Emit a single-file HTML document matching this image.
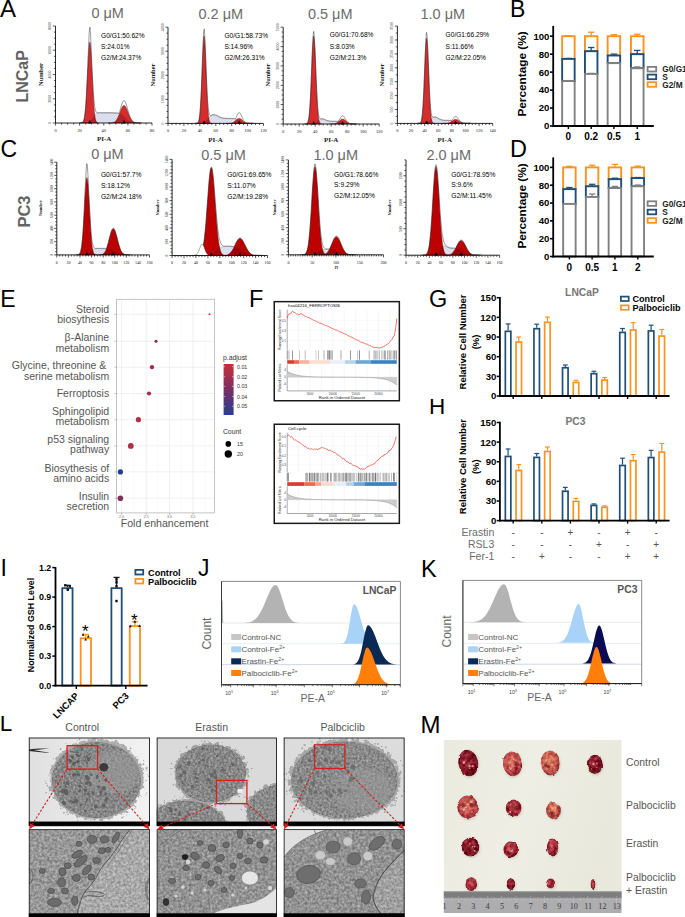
<!DOCTYPE html>
<html><head><meta charset="utf-8"><title>Figure</title>
<style>
html,body{margin:0;padding:0;background:#fff;width:685px;height:917px;overflow:hidden}
svg{display:block}
.ss{font-family:"Liberation Sans", sans-serif}
.sf{font-family:"Liberation Serif", serif}
</style></head><body>
<svg width="685" height="917" viewBox="0 0 685 917">
<defs>
<pattern id="hatch" width="2.2" height="2.2" patternUnits="userSpaceOnUse" patternTransform="rotate(45)"><line x1="0" y1="0" x2="0" y2="2.2" stroke="#8f95b5" stroke-width="0.4"/></pattern>
<filter id="nz1" x="0" y="0" width="100%" height="100%" color-interpolation-filters="sRGB">
<feTurbulence type="fractalNoise" baseFrequency="0.45" numOctaves="3" seed="3" result="t"/>
<feColorMatrix in="t" type="matrix" values="1 0 0 0 0  1 0 0 0 0  1 0 0 0 0  0 0 0 0 1" result="g"/>
<feComposite in="SourceGraphic" in2="g" operator="arithmetic" k1="0" k2="1" k3="0.42" k4="-0.21" result="c"/>
<feComposite in="c" in2="SourceGraphic" operator="in"/>
</filter>
<filter id="nz3" x="0" y="0" width="100%" height="100%" color-interpolation-filters="sRGB">
<feTurbulence type="fractalNoise" baseFrequency="0.38" numOctaves="3" seed="8" result="t"/>
<feColorMatrix in="t" type="matrix" values="1 0 0 0 0  1 0 0 0 0  1 0 0 0 0  0 0 0 0 1" result="g"/>
<feComposite in="SourceGraphic" in2="g" operator="arithmetic" k1="0" k2="1" k3="0.42" k4="-0.21" result="c"/>
<feComposite in="c" in2="SourceGraphic" operator="in"/>
</filter>
<filter id="fuzz" x="-10%" y="-10%" width="120%" height="120%" color-interpolation-filters="sRGB">
<feTurbulence type="fractalNoise" baseFrequency="0.25" numOctaves="3" seed="4" result="t"/>
<feDisplacementMap in="SourceGraphic" in2="t" scale="8" xChannelSelector="R" yChannelSelector="G"/>
</filter>
<filter id="bl1" x="-20%" y="-20%" width="140%" height="140%"><feGaussianBlur stdDeviation="0.6"/></filter>
<filter id="bl2" x="-20%" y="-20%" width="140%" height="140%"><feGaussianBlur stdDeviation="1.5"/></filter>
<linearGradient id="bgc" x1="0" y1="0" x2="1" y2="0"><stop offset="0" stop-color="#e0e0e0"/><stop offset="0.5" stop-color="#eaeaea"/><stop offset="1" stop-color="#f2f2f2"/></linearGradient>
<clipPath id="ct0"><rect x="28.8" y="737.9" width="121.10000000000001" height="83.6"/></clipPath>
<clipPath id="cb0"><rect x="28.8" y="829.5" width="121.10000000000001" height="84"/></clipPath>
<clipPath id="ct1"><rect x="156.7" y="737.9" width="120.19999999999999" height="83.6"/></clipPath>
<clipPath id="cb1"><rect x="156.7" y="829.5" width="120.19999999999999" height="84"/></clipPath>
<clipPath id="ct2"><rect x="283.7" y="737.9" width="120.90000000000003" height="83.6"/></clipPath>
<clipPath id="cb2"><rect x="283.7" y="829.5" width="120.90000000000003" height="84"/></clipPath>
<clipPath id="cm"><rect x="443.6" y="740.0" width="178.10000000000002" height="173.0"/></clipPath>
<linearGradient id="bgm" x1="0" y1="0" x2="1" y2="0.3"><stop offset="0" stop-color="#ebeadf"/><stop offset="0.5" stop-color="#efeee4"/><stop offset="1" stop-color="#e9e8dd"/></linearGradient>
<radialGradient id="tdark" cx="0.45" cy="0.4" r="0.6"><stop offset="0" stop-color="#a8303c"/><stop offset="0.6" stop-color="#801424"/><stop offset="1" stop-color="#6a0f1c"/></radialGradient>
<radialGradient id="tlight" cx="0.45" cy="0.4" r="0.6"><stop offset="0" stop-color="#d87868"/><stop offset="0.6" stop-color="#c04a48"/><stop offset="1" stop-color="#9a2a34"/></radialGradient>
<radialGradient id="tmid" cx="0.45" cy="0.4" r="0.6"><stop offset="0" stop-color="#c65058"/><stop offset="0.6" stop-color="#a02834"/><stop offset="1" stop-color="#7e1424"/></radialGradient>
<radialGradient id="torange" cx="0.45" cy="0.4" r="0.6"><stop offset="0" stop-color="#e08a6a"/><stop offset="0.6" stop-color="#c85a4c"/><stop offset="1" stop-color="#a43a3a"/></radialGradient>
<filter id="tb" x="-30%" y="-30%" width="160%" height="160%"><feGaussianBlur stdDeviation="0.5"/></filter>
<filter id="tfx" x="-30%" y="-30%" width="160%" height="160%" color-interpolation-filters="sRGB">
<feTurbulence type="fractalNoise" baseFrequency="0.15" numOctaves="2" seed="12" result="t"/>
<feDisplacementMap in="SourceGraphic" in2="t" scale="2.8" xChannelSelector="R" yChannelSelector="G" result="d"/>
<feTurbulence type="fractalNoise" baseFrequency="0.28" numOctaves="2" seed="3" result="t2"/>
<feColorMatrix in="t2" type="matrix" values="1 0 0 0 0  1 0 0 0 0  1 0 0 0 0  0 0 0 0 1" result="g"/>
<feComposite in="d" in2="g" operator="arithmetic" k1="0" k2="1" k3="0.5" k4="-0.25" result="c"/>
<feComposite in="c" in2="d" operator="in" result="e"/>
<feGaussianBlur in="e" stdDeviation="0.55"/>
</filter>
<filter id="tsh" x="-50%" y="-50%" width="200%" height="200%"><feGaussianBlur stdDeviation="1.2"/></filter>

</defs>
<rect width="685" height="917" fill="#fff"/>
<!-- ac -->
<path d="M79.5,123.0L79.5,123.0L80.1,123.0L80.8,123.0L81.5,123.0L82.2,123.0L82.9,123.0L83.6,123.0L84.3,123.0L85.0,123.0L85.7,123.0L86.4,122.9L87.1,122.9L87.8,122.8L88.5,122.7L89.2,122.5L89.9,122.1L90.6,121.5L91.3,120.7L92.0,119.6L92.7,118.3L93.4,116.9L94.0,115.7L94.7,114.8L95.4,114.1L96.1,113.7L96.8,113.4L97.5,113.2L98.2,113.1L98.9,113.1L99.6,113.0L100.3,113.0L101.0,113.0L101.7,113.0L102.4,113.0L103.1,113.0L103.8,113.0L104.5,113.0L105.2,113.0L105.9,113.0L106.6,113.0L107.2,113.0L107.9,113.0L108.6,113.0L109.3,113.0L110.0,113.0L110.7,113.0L111.4,113.0L112.1,113.0L112.8,113.1L113.5,113.1L114.2,113.1L114.9,113.1L115.6,113.2L116.3,113.2L117.0,113.3L117.7,113.4L118.4,113.5L119.1,113.7L119.8,113.9L120.5,114.2L121.2,114.6L121.8,115.0L122.5,115.5L123.2,116.1L123.9,116.7L124.6,117.4L125.3,118.1L126.0,118.8L126.7,119.5L127.4,120.1L128.1,120.7L128.8,121.2L129.5,121.6L130.2,121.9L130.9,122.1L131.6,122.3L132.3,122.5L133.0,122.6L133.7,122.7L134.4,122.8L135.1,122.8L135.7,122.9L136.4,122.9L137.1,122.9L137.8,122.9L138.5,123.0L139.2,123.0L139.9,123.0L140.6,123.0L141.3,123.0L142.0,123.0L142.0,123.0Z" fill="#e3e5f3" stroke="none" stroke-width="1"/>
<path d="M79.5,123.0L79.5,123.0L80.1,123.0L80.8,123.0L81.5,123.0L82.2,123.0L82.9,123.0L83.6,123.0L84.3,123.0L85.0,123.0L85.7,123.0L86.4,122.9L87.1,122.9L87.8,122.8L88.5,122.7L89.2,122.5L89.9,122.1L90.6,121.5L91.3,120.7L92.0,119.6L92.7,118.3L93.4,116.9L94.0,115.7L94.7,114.8L95.4,114.1L96.1,113.7L96.8,113.4L97.5,113.2L98.2,113.1L98.9,113.1L99.6,113.0L100.3,113.0L101.0,113.0L101.7,113.0L102.4,113.0L103.1,113.0L103.8,113.0L104.5,113.0L105.2,113.0L105.9,113.0L106.6,113.0L107.2,113.0L107.9,113.0L108.6,113.0L109.3,113.0L110.0,113.0L110.7,113.0L111.4,113.0L112.1,113.0L112.8,113.1L113.5,113.1L114.2,113.1L114.9,113.1L115.6,113.2L116.3,113.2L117.0,113.3L117.7,113.4L118.4,113.5L119.1,113.7L119.8,113.9L120.5,114.2L121.2,114.6L121.8,115.0L122.5,115.5L123.2,116.1L123.9,116.7L124.6,117.4L125.3,118.1L126.0,118.8L126.7,119.5L127.4,120.1L128.1,120.7L128.8,121.2L129.5,121.6L130.2,121.9L130.9,122.1L131.6,122.3L132.3,122.5L133.0,122.6L133.7,122.7L134.4,122.8L135.1,122.8L135.7,122.9L136.4,122.9L137.1,122.9L137.8,122.9L138.5,123.0L139.2,123.0L139.9,123.0L140.6,123.0L141.3,123.0L142.0,123.0L142.0,123.0Z" fill="url(#hatch)" stroke="none" stroke-width="1"/>
<path d="M80.6,123.0L80.6,123.0L81.1,122.9L81.5,122.9L82.0,122.7L82.4,122.5L82.9,122.1L83.4,121.4L83.8,120.2L84.3,118.5L84.7,115.8L85.2,112.0L85.7,107.0L86.1,100.5L86.6,92.6L87.0,83.6L87.5,73.9L88.0,64.2L88.4,55.3L88.9,48.2L89.3,43.6L89.8,42.0L90.3,43.6L90.7,48.2L91.2,55.3L91.6,64.2L92.1,73.9L92.6,83.6L93.0,92.6L93.5,100.5L93.9,107.0L94.4,112.0L94.9,115.8L95.3,118.5L95.8,120.2L96.2,121.4L96.7,122.1L97.2,122.5L97.6,122.7L98.1,122.9L98.5,122.9L99.0,123.0L99.0,123.0Z" fill="#d62c2e" stroke="none" stroke-width="1"/>
<path d="M108.0,123.0L108.0,123.0L108.8,123.0L109.6,123.0L110.4,122.9L111.2,122.9L112.0,122.8L112.8,122.7L113.6,122.4L114.4,122.0L115.2,121.4L116.0,120.6L116.8,119.5L117.6,118.1L118.4,116.4L119.2,114.5L120.0,112.4L120.8,110.3L121.6,108.4L122.4,106.8L123.2,105.8L124.0,105.5L124.8,105.8L125.6,106.8L126.4,108.4L127.2,110.3L128.0,112.4L128.8,114.5L129.6,116.4L130.4,118.1L131.2,119.5L132.0,120.6L132.8,121.4L133.6,122.0L134.4,122.4L135.2,122.7L136.0,122.8L136.8,122.9L137.6,122.9L138.4,123.0L139.2,123.0L140.0,123.0L140.0,123.0Z" fill="#d62c2e" stroke="none" stroke-width="1"/>
<clipPath id="h1"><path d="M80.6,123.0L80.6,123.0L81.1,122.9L81.5,122.9L82.0,122.7L82.4,122.5L82.9,122.1L83.4,121.4L83.8,120.2L84.3,118.5L84.7,115.8L85.2,112.0L85.7,107.0L86.1,100.5L86.6,92.6L87.0,83.6L87.5,73.9L88.0,64.2L88.4,55.3L88.9,48.2L89.3,43.6L89.8,42.0L90.3,43.6L90.7,48.2L91.2,55.3L91.6,64.2L92.1,73.9L92.6,83.6L93.0,92.6L93.5,100.5L93.9,107.0L94.4,112.0L94.9,115.8L95.3,118.5L95.8,120.2L96.2,121.4L96.7,122.1L97.2,122.5L97.6,122.7L98.1,122.9L98.5,122.9L99.0,123.0L99.0,123.0Z M108.0,123.0L108.0,123.0L108.8,123.0L109.6,123.0L110.4,122.9L111.2,122.9L112.0,122.8L112.8,122.7L113.6,122.4L114.4,122.0L115.2,121.4L116.0,120.6L116.8,119.5L117.6,118.1L118.4,116.4L119.2,114.5L120.0,112.4L120.8,110.3L121.6,108.4L122.4,106.8L123.2,105.8L124.0,105.5L124.8,105.8L125.6,106.8L126.4,108.4L127.2,110.3L128.0,112.4L128.8,114.5L129.6,116.4L130.4,118.1L131.2,119.5L132.0,120.6L132.8,121.4L133.6,122.0L134.4,122.4L135.2,122.7L136.0,122.8L136.8,122.9L137.6,122.9L138.4,123.0L139.2,123.0L140.0,123.0L140.0,123.0Z"/></clipPath>
<path d="M79.5,123.0L79.5,123.0L80.1,123.0L80.8,123.0L81.5,123.0L82.2,123.0L82.9,123.0L83.6,123.0L84.3,123.0L85.0,123.0L85.7,123.0L86.4,122.9L87.1,122.9L87.8,122.8L88.5,122.7L89.2,122.5L89.9,122.1L90.6,121.5L91.3,120.7L92.0,119.6L92.7,118.3L93.4,116.9L94.0,115.7L94.7,114.8L95.4,114.1L96.1,113.7L96.8,113.4L97.5,113.2L98.2,113.1L98.9,113.1L99.6,113.0L100.3,113.0L101.0,113.0L101.7,113.0L102.4,113.0L103.1,113.0L103.8,113.0L104.5,113.0L105.2,113.0L105.9,113.0L106.6,113.0L107.2,113.0L107.9,113.0L108.6,113.0L109.3,113.0L110.0,113.0L110.7,113.0L111.4,113.0L112.1,113.0L112.8,113.1L113.5,113.1L114.2,113.1L114.9,113.1L115.6,113.2L116.3,113.2L117.0,113.3L117.7,113.4L118.4,113.5L119.1,113.7L119.8,113.9L120.5,114.2L121.2,114.6L121.8,115.0L122.5,115.5L123.2,116.1L123.9,116.7L124.6,117.4L125.3,118.1L126.0,118.8L126.7,119.5L127.4,120.1L128.1,120.7L128.8,121.2L129.5,121.6L130.2,121.9L130.9,122.1L131.6,122.3L132.3,122.5L133.0,122.6L133.7,122.7L134.4,122.8L135.1,122.8L135.7,122.9L136.4,122.9L137.1,122.9L137.8,122.9L138.5,123.0L139.2,123.0L139.9,123.0L140.6,123.0L141.3,123.0L142.0,123.0L142.0,123.0Z" fill="#3a0010" fill-opacity="0.22" clip-path="url(#h1)"/>
<path d="M80.6,123.0L80.6,123.0L81.1,122.9L81.5,122.9L82.0,122.7L82.4,122.5L82.9,122.1L83.4,121.4L83.8,120.2L84.3,118.5L84.7,115.8L85.2,112.0L85.7,107.0L86.1,100.5L86.6,92.6L87.0,83.6L87.5,73.9L88.0,64.2L88.4,55.3L88.9,48.2L89.3,43.6L89.8,42.0L90.3,43.6L90.7,48.2L91.2,55.3L91.6,64.2L92.1,73.9L92.6,83.6L93.0,92.6L93.5,100.5L93.9,107.0L94.4,112.0L94.9,115.8L95.3,118.5L95.8,120.2L96.2,121.4L96.7,122.1L97.2,122.5L97.6,122.7L98.1,122.9L98.5,122.9L99.0,123.0L99.0,123.0Z" fill="none" stroke="#4a0008" stroke-width="0.35"/>
<path d="M108.0,123.0L108.0,123.0L108.8,123.0L109.6,123.0L110.4,122.9L111.2,122.9L112.0,122.8L112.8,122.7L113.6,122.4L114.4,122.0L115.2,121.4L116.0,120.6L116.8,119.5L117.6,118.1L118.4,116.4L119.2,114.5L120.0,112.4L120.8,110.3L121.6,108.4L122.4,106.8L123.2,105.8L124.0,105.5L124.8,105.8L125.6,106.8L126.4,108.4L127.2,110.3L128.0,112.4L128.8,114.5L129.6,116.4L130.4,118.1L131.2,119.5L132.0,120.6L132.8,121.4L133.6,122.0L134.4,122.4L135.2,122.7L136.0,122.8L136.8,122.9L137.6,122.9L138.4,123.0L139.2,123.0L140.0,123.0L140.0,123.0Z" fill="none" stroke="#4a0008" stroke-width="0.35"/>
<path d="M79.5,123.0L80.1,123.0L80.8,123.0L81.5,123.0L82.2,123.0L82.9,123.0L83.6,123.0L84.3,123.0L85.0,123.0L85.7,123.0L86.4,122.9L87.1,122.9L87.8,122.8L88.5,122.7L89.2,122.5L89.9,122.1L90.6,121.5L91.3,120.7L92.0,119.6L92.7,118.3L93.4,116.9L94.0,115.7L94.7,114.8L95.4,114.1L96.1,113.7L96.8,113.4L97.5,113.2L98.2,113.1L98.9,113.1L99.6,113.0L100.3,113.0L101.0,113.0L101.7,113.0L102.4,113.0L103.1,113.0L103.8,113.0L104.5,113.0L105.2,113.0L105.9,113.0L106.6,113.0L107.2,113.0L107.9,113.0L108.6,113.0L109.3,113.0L110.0,113.0L110.7,113.0L111.4,113.0L112.1,113.0L112.8,113.1L113.5,113.1L114.2,113.1L114.9,113.1L115.6,113.2L116.3,113.2L117.0,113.3L117.7,113.4L118.4,113.5L119.1,113.7L119.8,113.9L120.5,114.2L121.2,114.6L121.8,115.0L122.5,115.5L123.2,116.1L123.9,116.7L124.6,117.4L125.3,118.1L126.0,118.8L126.7,119.5L127.4,120.1L128.1,120.7L128.8,121.2L129.5,121.6L130.2,121.9L130.9,122.1L131.6,122.3L132.3,122.5L133.0,122.6L133.7,122.7L134.4,122.8L135.1,122.8L135.7,122.9L136.4,122.9L137.1,122.9L137.8,122.9L138.5,123.0L139.2,123.0L139.9,123.0L140.6,123.0L141.3,123.0L142.0,123.0" fill="none" stroke="#333" stroke-width="0.3" opacity="0.6"/>
<path d="M79.5,122.7L80.1,122.7L80.8,122.7L81.5,122.7L82.2,122.6L82.9,122.1L83.6,120.8L84.3,118.3L85.0,113.7L85.7,106.4L86.4,95.8L87.1,81.9L87.8,65.4L88.5,47.5L89.2,32.4L89.9,27.1L90.6,35.0L91.3,51.4L92.0,67.5L92.7,80.8L93.4,92.3L94.0,101.0L94.7,106.7L95.4,110.1L96.1,111.8L96.8,112.6L97.5,112.9L98.2,112.8L98.9,112.8L99.6,112.7L100.3,112.7L101.0,112.7L101.7,112.7L102.4,112.7L103.1,112.7L103.8,112.7L104.5,112.7L105.2,112.7L105.9,112.7L106.6,112.7L107.2,112.7L107.9,112.7L108.6,112.7L109.3,112.7L110.0,112.7L110.7,112.7L111.4,112.7L112.1,112.7L112.8,112.8L113.5,112.8L114.2,112.8L114.9,112.8L115.6,112.9L116.3,112.9L117.0,113.0L117.7,113.1L118.4,113.2L119.1,113.4L119.8,111.4L120.5,108.9L121.2,106.4L121.8,104.1L122.5,102.3L123.2,101.0L123.9,100.5L124.6,100.8L125.3,102.0L126.0,103.7L126.7,106.0L127.4,108.4L128.1,110.9L128.8,113.3L129.5,115.4L130.2,117.3L130.9,118.8L131.6,120.0L132.3,120.9L133.0,121.6L133.7,122.0L134.4,122.4L135.1,122.5L135.7,122.6L136.4,122.6L137.1,122.6L137.8,122.6L138.5,122.7L139.2,122.7L139.9,122.7L140.6,122.7L141.3,122.7L142.0,122.7" fill="none" stroke="#222" stroke-width="0.45"/>
<line x1="55.50" y1="26.00" x2="55.50" y2="123.00" stroke="#111" stroke-width="0.9"/>
<line x1="55.50" y1="123.00" x2="152.00" y2="123.00" stroke="#111" stroke-width="0.9"/>
<path d="M52.9,123.0H55.5M53.9,116.9H55.5M53.9,110.9H55.5M53.9,104.8H55.5M52.9,98.8H55.5M53.9,92.7H55.5M53.9,86.6H55.5M53.9,80.6H55.5M52.9,74.5H55.5M53.9,68.4H55.5M53.9,62.4H55.5M53.9,56.3H55.5M52.9,50.2H55.5M53.9,44.2H55.5M53.9,38.1H55.5M53.9,32.1H55.5M52.9,26.0H55.5M55.5,123.0V125.6M61.5,123.0V124.6M67.6,123.0V124.6M73.6,123.0V124.6M79.6,123.0V125.6M85.7,123.0V124.6M91.7,123.0V124.6M97.7,123.0V124.6M103.8,123.0V125.6M109.8,123.0V124.6M115.8,123.0V124.6M121.8,123.0V124.6M127.9,123.0V125.6M133.9,123.0V124.6M139.9,123.0V124.6M146.0,123.0V124.6M152.0,123.0V125.6" fill="none" stroke="#111" stroke-width="0.7"/>
<text class="sf" x="55.50" y="131.80" font-size="4.4" fill="#111" text-anchor="middle">0</text>
<text class="sf" x="79.62" y="131.80" font-size="4.4" fill="#111" text-anchor="middle">20</text>
<text class="sf" x="103.75" y="131.80" font-size="4.4" fill="#111" text-anchor="middle">40</text>
<text class="sf" x="127.88" y="131.80" font-size="4.4" fill="#111" text-anchor="middle">60</text>
<text class="sf" x="152.00" y="131.80" font-size="4.4" fill="#111" text-anchor="middle">80</text>
<text class="sf" x="51.30" y="123.00" font-size="4.0" fill="#222" text-anchor="middle" transform="rotate(-90 51.30 123.00)">0</text>
<text class="sf" x="51.30" y="98.75" font-size="4.0" fill="#222" text-anchor="middle" transform="rotate(-90 51.30 98.75)">2000</text>
<text class="sf" x="51.30" y="74.50" font-size="4.0" fill="#222" text-anchor="middle" transform="rotate(-90 51.30 74.50)">4000</text>
<text class="sf" x="51.30" y="50.25" font-size="4.0" fill="#222" text-anchor="middle" transform="rotate(-90 51.30 50.25)">6000</text>
<text class="sf" x="51.30" y="26.00" font-size="4.0" fill="#222" text-anchor="middle" transform="rotate(-90 51.30 26.00)">8000</text>
<path d="M88.10,123.40 L91.50,123.40 L89.80,120.00 Z" fill="#000" stroke="none" stroke-width="1"/>
<path d="M122.30,123.40 L125.70,123.40 L124.00,120.00 Z" fill="#000" stroke="none" stroke-width="1"/>
<text class="sf" x="43.11" y="74.50" font-size="6.4" fill="#222" font-weight="bold" text-anchor="middle" transform="rotate(-90 43.11 74.50)">Number</text>
<text class="sf" x="104.20" y="140.50" font-size="7" fill="#222" font-weight="bold" text-anchor="middle">PI-A</text>
<text class="ss" x="101.00" y="37.70" font-size="6.6" fill="#000">G0/G1:50.62%</text>
<text class="ss" x="101.00" y="48.70" font-size="6.6" fill="#000">S:24.01%</text>
<text class="ss" x="101.00" y="59.60" font-size="6.6" fill="#000">G2/M:24.37%</text>
<text class="ss" x="107.70" y="18.40" font-size="14.5" fill="#6b6b6b" text-anchor="middle">0 μM</text>
<path d="M195.1,123.4L195.1,123.4L195.8,123.4L196.4,123.4L197.1,123.4L197.7,123.4L198.4,123.4L199.0,123.4L199.7,123.4L200.3,123.4L201.0,123.4L201.7,123.4L202.3,123.3L203.0,123.2L203.6,123.1L204.3,122.9L204.9,122.6L205.6,122.0L206.2,121.3L206.9,120.3L207.5,119.4L208.2,118.5L208.9,117.7L209.5,117.0L210.2,116.5L210.8,116.0L211.5,115.6L212.1,115.3L212.8,115.1L213.4,115.0L214.1,115.0L214.8,115.0L215.4,115.2L216.1,115.4L216.7,115.7L217.4,116.0L218.0,116.4L218.7,116.7L219.3,117.1L220.0,117.4L220.6,117.6L221.3,117.9L222.0,118.1L222.6,118.3L223.3,118.4L223.9,118.5L224.6,118.5L225.2,118.6L225.9,118.6L226.5,118.7L227.2,118.7L227.8,118.7L228.5,118.7L229.2,118.7L229.8,118.7L230.5,118.7L231.1,118.7L231.8,118.8L232.4,118.8L233.1,118.8L233.7,118.9L234.4,118.9L235.1,119.0L235.7,119.1L236.4,119.3L237.0,119.5L237.7,119.7L238.3,120.0L239.0,120.4L239.6,120.7L240.3,121.1L240.9,121.5L241.6,121.9L242.3,122.2L242.9,122.5L243.6,122.7L244.2,122.9L244.9,123.0L245.5,123.1L246.2,123.2L246.8,123.2L247.5,123.3L248.2,123.3L248.8,123.3L249.5,123.4L250.1,123.4L250.8,123.4L251.4,123.4L252.1,123.4L252.7,123.4L253.4,123.4L254.0,123.4L254.0,123.4Z" fill="#e3e5f3" stroke="none" stroke-width="1"/>
<path d="M195.1,123.4L195.1,123.4L195.8,123.4L196.4,123.4L197.1,123.4L197.7,123.4L198.4,123.4L199.0,123.4L199.7,123.4L200.3,123.4L201.0,123.4L201.7,123.4L202.3,123.3L203.0,123.2L203.6,123.1L204.3,122.9L204.9,122.6L205.6,122.0L206.2,121.3L206.9,120.3L207.5,119.4L208.2,118.5L208.9,117.7L209.5,117.0L210.2,116.5L210.8,116.0L211.5,115.6L212.1,115.3L212.8,115.1L213.4,115.0L214.1,115.0L214.8,115.0L215.4,115.2L216.1,115.4L216.7,115.7L217.4,116.0L218.0,116.4L218.7,116.7L219.3,117.1L220.0,117.4L220.6,117.6L221.3,117.9L222.0,118.1L222.6,118.3L223.3,118.4L223.9,118.5L224.6,118.5L225.2,118.6L225.9,118.6L226.5,118.7L227.2,118.7L227.8,118.7L228.5,118.7L229.2,118.7L229.8,118.7L230.5,118.7L231.1,118.7L231.8,118.8L232.4,118.8L233.1,118.8L233.7,118.9L234.4,118.9L235.1,119.0L235.7,119.1L236.4,119.3L237.0,119.5L237.7,119.7L238.3,120.0L239.0,120.4L239.6,120.7L240.3,121.1L240.9,121.5L241.6,121.9L242.3,122.2L242.9,122.5L243.6,122.7L244.2,122.9L244.9,123.0L245.5,123.1L246.2,123.2L246.8,123.2L247.5,123.3L248.2,123.3L248.8,123.3L249.5,123.4L250.1,123.4L250.8,123.4L251.4,123.4L252.1,123.4L252.7,123.4L253.4,123.4L254.0,123.4L254.0,123.4Z" fill="url(#hatch)" stroke="none" stroke-width="1"/>
<path d="M196.1,123.4L196.1,123.4L196.5,123.3L196.9,123.3L197.3,123.1L197.7,122.9L198.1,122.4L198.5,121.7L198.9,120.4L199.3,118.5L199.7,115.6L200.1,111.6L200.5,106.1L200.9,99.1L201.3,90.6L201.7,80.9L202.1,70.4L202.5,60.0L202.9,50.5L203.3,42.8L203.7,37.8L204.1,36.1L204.5,37.8L204.9,42.8L205.3,50.5L205.7,60.0L206.1,70.4L206.5,80.9L206.9,90.6L207.3,99.1L207.7,106.1L208.1,111.6L208.5,115.6L208.9,118.5L209.3,120.4L209.7,121.7L210.1,122.4L210.5,122.9L210.9,123.1L211.3,123.3L211.7,123.3L212.1,123.4L212.1,123.4Z" fill="#d62c2e" stroke="none" stroke-width="1"/>
<path d="M226.0,123.4L226.0,123.4L226.7,123.4L227.3,123.4L228.0,123.4L228.6,123.4L229.3,123.3L230.0,123.3L230.6,123.2L231.3,123.1L231.9,122.9L232.6,122.7L233.3,122.4L233.9,122.0L234.6,121.5L235.2,120.9L235.9,120.3L236.6,119.7L237.2,119.1L237.9,118.7L238.5,118.4L239.2,118.3L239.9,118.4L240.5,118.7L241.2,119.1L241.8,119.7L242.5,120.3L243.2,120.9L243.8,121.5L244.5,122.0L245.1,122.4L245.8,122.7L246.5,122.9L247.1,123.1L247.8,123.2L248.4,123.3L249.1,123.3L249.8,123.4L250.4,123.4L251.1,123.4L251.7,123.4L252.4,123.4L252.4,123.4Z" fill="#d62c2e" stroke="none" stroke-width="1"/>
<clipPath id="h2"><path d="M196.1,123.4L196.1,123.4L196.5,123.3L196.9,123.3L197.3,123.1L197.7,122.9L198.1,122.4L198.5,121.7L198.9,120.4L199.3,118.5L199.7,115.6L200.1,111.6L200.5,106.1L200.9,99.1L201.3,90.6L201.7,80.9L202.1,70.4L202.5,60.0L202.9,50.5L203.3,42.8L203.7,37.8L204.1,36.1L204.5,37.8L204.9,42.8L205.3,50.5L205.7,60.0L206.1,70.4L206.5,80.9L206.9,90.6L207.3,99.1L207.7,106.1L208.1,111.6L208.5,115.6L208.9,118.5L209.3,120.4L209.7,121.7L210.1,122.4L210.5,122.9L210.9,123.1L211.3,123.3L211.7,123.3L212.1,123.4L212.1,123.4Z M226.0,123.4L226.0,123.4L226.7,123.4L227.3,123.4L228.0,123.4L228.6,123.4L229.3,123.3L230.0,123.3L230.6,123.2L231.3,123.1L231.9,122.9L232.6,122.7L233.3,122.4L233.9,122.0L234.6,121.5L235.2,120.9L235.9,120.3L236.6,119.7L237.2,119.1L237.9,118.7L238.5,118.4L239.2,118.3L239.9,118.4L240.5,118.7L241.2,119.1L241.8,119.7L242.5,120.3L243.2,120.9L243.8,121.5L244.5,122.0L245.1,122.4L245.8,122.7L246.5,122.9L247.1,123.1L247.8,123.2L248.4,123.3L249.1,123.3L249.8,123.4L250.4,123.4L251.1,123.4L251.7,123.4L252.4,123.4L252.4,123.4Z"/></clipPath>
<path d="M195.1,123.4L195.1,123.4L195.8,123.4L196.4,123.4L197.1,123.4L197.7,123.4L198.4,123.4L199.0,123.4L199.7,123.4L200.3,123.4L201.0,123.4L201.7,123.4L202.3,123.3L203.0,123.2L203.6,123.1L204.3,122.9L204.9,122.6L205.6,122.0L206.2,121.3L206.9,120.3L207.5,119.4L208.2,118.5L208.9,117.7L209.5,117.0L210.2,116.5L210.8,116.0L211.5,115.6L212.1,115.3L212.8,115.1L213.4,115.0L214.1,115.0L214.8,115.0L215.4,115.2L216.1,115.4L216.7,115.7L217.4,116.0L218.0,116.4L218.7,116.7L219.3,117.1L220.0,117.4L220.6,117.6L221.3,117.9L222.0,118.1L222.6,118.3L223.3,118.4L223.9,118.5L224.6,118.5L225.2,118.6L225.9,118.6L226.5,118.7L227.2,118.7L227.8,118.7L228.5,118.7L229.2,118.7L229.8,118.7L230.5,118.7L231.1,118.7L231.8,118.8L232.4,118.8L233.1,118.8L233.7,118.9L234.4,118.9L235.1,119.0L235.7,119.1L236.4,119.3L237.0,119.5L237.7,119.7L238.3,120.0L239.0,120.4L239.6,120.7L240.3,121.1L240.9,121.5L241.6,121.9L242.3,122.2L242.9,122.5L243.6,122.7L244.2,122.9L244.9,123.0L245.5,123.1L246.2,123.2L246.8,123.2L247.5,123.3L248.2,123.3L248.8,123.3L249.5,123.4L250.1,123.4L250.8,123.4L251.4,123.4L252.1,123.4L252.7,123.4L253.4,123.4L254.0,123.4L254.0,123.4Z" fill="#3a0010" fill-opacity="0.22" clip-path="url(#h2)"/>
<path d="M196.1,123.4L196.1,123.4L196.5,123.3L196.9,123.3L197.3,123.1L197.7,122.9L198.1,122.4L198.5,121.7L198.9,120.4L199.3,118.5L199.7,115.6L200.1,111.6L200.5,106.1L200.9,99.1L201.3,90.6L201.7,80.9L202.1,70.4L202.5,60.0L202.9,50.5L203.3,42.8L203.7,37.8L204.1,36.1L204.5,37.8L204.9,42.8L205.3,50.5L205.7,60.0L206.1,70.4L206.5,80.9L206.9,90.6L207.3,99.1L207.7,106.1L208.1,111.6L208.5,115.6L208.9,118.5L209.3,120.4L209.7,121.7L210.1,122.4L210.5,122.9L210.9,123.1L211.3,123.3L211.7,123.3L212.1,123.4L212.1,123.4Z" fill="none" stroke="#4a0008" stroke-width="0.35"/>
<path d="M226.0,123.4L226.0,123.4L226.7,123.4L227.3,123.4L228.0,123.4L228.6,123.4L229.3,123.3L230.0,123.3L230.6,123.2L231.3,123.1L231.9,122.9L232.6,122.7L233.3,122.4L233.9,122.0L234.6,121.5L235.2,120.9L235.9,120.3L236.6,119.7L237.2,119.1L237.9,118.7L238.5,118.4L239.2,118.3L239.9,118.4L240.5,118.7L241.2,119.1L241.8,119.7L242.5,120.3L243.2,120.9L243.8,121.5L244.5,122.0L245.1,122.4L245.8,122.7L246.5,122.9L247.1,123.1L247.8,123.2L248.4,123.3L249.1,123.3L249.8,123.4L250.4,123.4L251.1,123.4L251.7,123.4L252.4,123.4L252.4,123.4Z" fill="none" stroke="#4a0008" stroke-width="0.35"/>
<path d="M195.1,123.4L195.8,123.4L196.4,123.4L197.1,123.4L197.7,123.4L198.4,123.4L199.0,123.4L199.7,123.4L200.3,123.4L201.0,123.4L201.7,123.4L202.3,123.3L203.0,123.2L203.6,123.1L204.3,122.9L204.9,122.6L205.6,122.0L206.2,121.3L206.9,120.3L207.5,119.4L208.2,118.5L208.9,117.7L209.5,117.0L210.2,116.5L210.8,116.0L211.5,115.6L212.1,115.3L212.8,115.1L213.4,115.0L214.1,115.0L214.8,115.0L215.4,115.2L216.1,115.4L216.7,115.7L217.4,116.0L218.0,116.4L218.7,116.7L219.3,117.1L220.0,117.4L220.6,117.6L221.3,117.9L222.0,118.1L222.6,118.3L223.3,118.4L223.9,118.5L224.6,118.5L225.2,118.6L225.9,118.6L226.5,118.7L227.2,118.7L227.8,118.7L228.5,118.7L229.2,118.7L229.8,118.7L230.5,118.7L231.1,118.7L231.8,118.8L232.4,118.8L233.1,118.8L233.7,118.9L234.4,118.9L235.1,119.0L235.7,119.1L236.4,119.3L237.0,119.5L237.7,119.7L238.3,120.0L239.0,120.4L239.6,120.7L240.3,121.1L240.9,121.5L241.6,121.9L242.3,122.2L242.9,122.5L243.6,122.7L244.2,122.9L244.9,123.0L245.5,123.1L246.2,123.2L246.8,123.2L247.5,123.3L248.2,123.3L248.8,123.3L249.5,123.4L250.1,123.4L250.8,123.4L251.4,123.4L252.1,123.4L252.7,123.4L253.4,123.4L254.0,123.4" fill="none" stroke="#333" stroke-width="0.3" opacity="0.6"/>
<path d="M195.1,123.1L195.8,123.1L196.4,123.1L197.1,123.1L197.7,122.9L198.4,121.9L199.0,119.9L199.7,115.8L200.3,108.5L201.0,97.2L201.7,82.0L202.3,64.0L203.0,45.8L203.6,32.1L204.3,28.9L204.9,38.2L205.6,55.0L206.2,71.9L206.9,87.3L207.5,99.6L208.2,107.8L208.9,112.5L209.5,114.8L210.2,115.6L210.8,115.7L211.5,115.3L212.1,115.0L212.8,114.8L213.4,114.7L214.1,114.7L214.8,114.7L215.4,114.9L216.1,115.1L216.7,115.4L217.4,115.7L218.0,116.1L218.7,116.4L219.3,116.8L220.0,117.1L220.6,117.3L221.3,117.6L222.0,117.8L222.6,118.0L223.3,118.1L223.9,118.2L224.6,118.2L225.2,118.3L225.9,118.3L226.5,118.4L227.2,118.4L227.8,118.4L228.5,118.4L229.2,118.4L229.8,118.4L230.5,118.4L231.1,118.4L231.8,118.5L232.4,118.5L233.1,118.5L233.7,118.6L234.4,118.6L235.1,118.7L235.7,118.7L236.4,117.2L237.0,115.6L237.7,114.2L238.3,113.2L239.0,112.6L239.6,112.7L240.3,113.5L240.9,114.7L241.6,116.2L242.3,117.7L242.9,119.1L243.6,120.3L244.2,121.3L244.9,122.0L245.5,122.5L246.2,122.8L246.8,122.9L247.5,123.0L248.2,123.0L248.8,123.0L249.5,123.1L250.1,123.1L250.8,123.1L251.4,123.1L252.1,123.1L252.7,123.1L253.4,123.1L254.0,123.1" fill="none" stroke="#222" stroke-width="0.45"/>
<line x1="168.00" y1="27.20" x2="168.00" y2="123.40" stroke="#111" stroke-width="0.9"/>
<line x1="168.00" y1="123.40" x2="263.50" y2="123.40" stroke="#111" stroke-width="0.9"/>
<path d="M165.4,123.4H168.0M166.4,117.4H168.0M166.4,111.4H168.0M166.4,105.4H168.0M165.4,99.4H168.0M166.4,93.3H168.0M166.4,87.3H168.0M166.4,81.3H168.0M165.4,75.3H168.0M166.4,69.3H168.0M166.4,63.3H168.0M166.4,57.3H168.0M165.4,51.2H168.0M166.4,45.2H168.0M166.4,39.2H168.0M166.4,33.2H168.0M165.4,27.2H168.0M168.0,123.4V126.0M172.0,123.4V125.0M176.0,123.4V125.0M179.9,123.4V125.0M183.9,123.4V126.0M187.9,123.4V125.0M191.9,123.4V125.0M195.9,123.4V125.0M199.8,123.4V126.0M203.8,123.4V125.0M207.8,123.4V125.0M211.8,123.4V125.0M215.8,123.4V126.0M219.7,123.4V125.0M223.7,123.4V125.0M227.7,123.4V125.0M231.7,123.4V126.0M235.6,123.4V125.0M239.6,123.4V125.0M243.6,123.4V125.0M247.6,123.4V126.0M251.6,123.4V125.0M255.5,123.4V125.0M259.5,123.4V125.0M263.5,123.4V126.0" fill="none" stroke="#111" stroke-width="0.7"/>
<text class="sf" x="168.00" y="132.20" font-size="4.4" fill="#111" text-anchor="middle">0</text>
<text class="sf" x="183.92" y="132.20" font-size="4.4" fill="#111" text-anchor="middle">20</text>
<text class="sf" x="199.83" y="132.20" font-size="4.4" fill="#111" text-anchor="middle">40</text>
<text class="sf" x="215.75" y="132.20" font-size="4.4" fill="#111" text-anchor="middle">60</text>
<text class="sf" x="231.67" y="132.20" font-size="4.4" fill="#111" text-anchor="middle">80</text>
<text class="sf" x="247.58" y="132.20" font-size="4.4" fill="#111" text-anchor="middle">100</text>
<text class="sf" x="263.50" y="132.20" font-size="4.4" fill="#111" text-anchor="middle">120</text>
<text class="sf" x="163.80" y="123.40" font-size="4.0" fill="#222" text-anchor="middle" transform="rotate(-90 163.80 123.40)">0</text>
<text class="sf" x="163.80" y="99.35" font-size="4.0" fill="#222" text-anchor="middle" transform="rotate(-90 163.80 99.35)">1000</text>
<text class="sf" x="163.80" y="75.30" font-size="4.0" fill="#222" text-anchor="middle" transform="rotate(-90 163.80 75.30)">2000</text>
<text class="sf" x="163.80" y="51.25" font-size="4.0" fill="#222" text-anchor="middle" transform="rotate(-90 163.80 51.25)">3000</text>
<text class="sf" x="163.80" y="27.20" font-size="4.0" fill="#222" text-anchor="middle" transform="rotate(-90 163.80 27.20)">4000</text>
<path d="M202.40,123.80 L205.80,123.80 L204.10,120.40 Z" fill="#000" stroke="none" stroke-width="1"/>
<path d="M237.50,123.80 L240.90,123.80 L239.20,120.40 Z" fill="#000" stroke="none" stroke-width="1"/>
<text class="sf" x="154.91" y="75.00" font-size="6.4" fill="#222" font-weight="bold" text-anchor="middle" transform="rotate(-90 154.91 75.00)">Number</text>
<text class="sf" x="215.50" y="141.50" font-size="7" fill="#222" font-weight="bold" text-anchor="middle">PI-A</text>
<text class="ss" x="224.40" y="37.50" font-size="6.6" fill="#000">G0/G1:58.73%</text>
<text class="ss" x="224.40" y="48.50" font-size="6.6" fill="#000">S:14.96%</text>
<text class="ss" x="224.40" y="59.90" font-size="6.6" fill="#000">G2/M:26.31%</text>
<text class="ss" x="220.80" y="18.90" font-size="14.5" fill="#6b6b6b" text-anchor="middle">0.2 μM</text>
<path d="M304.2,124.0L304.2,124.0L304.8,124.0L305.4,124.0L306.0,124.0L306.6,124.0L307.2,124.0L307.8,124.0L308.4,124.0L309.0,124.0L309.6,124.0L310.2,124.0L310.8,124.0L311.3,124.0L311.9,123.9L312.5,123.9L313.1,123.9L313.7,123.8L314.3,123.6L314.9,123.4L315.5,123.1L316.1,122.7L316.7,122.2L317.3,121.6L317.8,121.1L318.4,120.5L319.0,120.1L319.6,119.7L320.2,119.4L320.8,119.2L321.4,119.1L322.0,119.0L322.6,119.1L323.2,119.2L323.8,119.4L324.3,119.6L324.9,119.8L325.5,120.1L326.1,120.4L326.7,120.6L327.3,120.8L327.9,121.0L328.5,121.1L329.1,121.2L329.7,121.3L330.3,121.4L330.9,121.4L331.4,121.5L332.0,121.5L332.6,121.5L333.2,121.5L333.8,121.5L334.4,121.5L335.0,121.5L335.6,121.5L336.2,121.6L336.8,121.6L337.4,121.6L337.9,121.6L338.5,121.7L339.1,121.7L339.7,121.8L340.3,121.9L340.9,122.0L341.5,122.1L342.1,122.3L342.7,122.5L343.3,122.6L343.9,122.8L344.4,123.0L345.0,123.2L345.6,123.3L346.2,123.5L346.8,123.6L347.4,123.7L348.0,123.8L348.6,123.8L349.2,123.9L349.8,123.9L350.4,123.9L350.9,123.9L351.5,124.0L352.1,124.0L352.7,124.0L353.3,124.0L353.9,124.0L354.5,124.0L355.1,124.0L355.7,124.0L356.3,124.0L356.9,124.0L357.5,124.0L357.5,124.0Z" fill="#e3e5f3" stroke="none" stroke-width="1"/>
<path d="M304.2,124.0L304.2,124.0L304.8,124.0L305.4,124.0L306.0,124.0L306.6,124.0L307.2,124.0L307.8,124.0L308.4,124.0L309.0,124.0L309.6,124.0L310.2,124.0L310.8,124.0L311.3,124.0L311.9,123.9L312.5,123.9L313.1,123.9L313.7,123.8L314.3,123.6L314.9,123.4L315.5,123.1L316.1,122.7L316.7,122.2L317.3,121.6L317.8,121.1L318.4,120.5L319.0,120.1L319.6,119.7L320.2,119.4L320.8,119.2L321.4,119.1L322.0,119.0L322.6,119.1L323.2,119.2L323.8,119.4L324.3,119.6L324.9,119.8L325.5,120.1L326.1,120.4L326.7,120.6L327.3,120.8L327.9,121.0L328.5,121.1L329.1,121.2L329.7,121.3L330.3,121.4L330.9,121.4L331.4,121.5L332.0,121.5L332.6,121.5L333.2,121.5L333.8,121.5L334.4,121.5L335.0,121.5L335.6,121.5L336.2,121.6L336.8,121.6L337.4,121.6L337.9,121.6L338.5,121.7L339.1,121.7L339.7,121.8L340.3,121.9L340.9,122.0L341.5,122.1L342.1,122.3L342.7,122.5L343.3,122.6L343.9,122.8L344.4,123.0L345.0,123.2L345.6,123.3L346.2,123.5L346.8,123.6L347.4,123.7L348.0,123.8L348.6,123.8L349.2,123.9L349.8,123.9L350.4,123.9L350.9,123.9L351.5,124.0L352.1,124.0L352.7,124.0L353.3,124.0L353.9,124.0L354.5,124.0L355.1,124.0L355.7,124.0L356.3,124.0L356.9,124.0L357.5,124.0L357.5,124.0Z" fill="url(#hatch)" stroke="none" stroke-width="1"/>
<path d="M305.3,124.0L305.3,124.0L305.7,123.9L306.1,123.9L306.6,123.7L307.0,123.5L307.4,123.0L307.8,122.3L308.2,121.0L308.7,119.1L309.1,116.2L309.5,112.1L309.9,106.6L310.3,99.6L310.8,91.0L311.2,81.2L311.6,70.7L312.0,60.2L312.4,50.6L312.9,42.9L313.3,37.8L313.7,36.1L314.1,37.8L314.5,42.9L315.0,50.6L315.4,60.2L315.8,70.7L316.2,81.2L316.6,91.0L317.1,99.6L317.5,106.6L317.9,112.1L318.3,116.2L318.7,119.1L319.2,121.0L319.6,122.3L320.0,123.0L320.4,123.5L320.8,123.7L321.3,123.9L321.7,123.9L322.1,124.0L322.1,124.0Z" fill="#d62c2e" stroke="none" stroke-width="1"/>
<path d="M329.4,124.0L329.4,124.0L330.1,124.0L330.7,124.0L331.4,124.0L332.0,124.0L332.7,123.9L333.4,123.9L334.0,123.8L334.7,123.7L335.3,123.6L336.0,123.3L336.7,123.0L337.3,122.6L338.0,122.1L338.6,121.6L339.3,121.0L340.0,120.4L340.6,119.8L341.3,119.4L341.9,119.1L342.6,119.0L343.3,119.1L343.9,119.4L344.6,119.8L345.2,120.4L345.9,121.0L346.6,121.6L347.2,122.1L347.9,122.6L348.5,123.0L349.2,123.3L349.9,123.6L350.5,123.7L351.2,123.8L351.8,123.9L352.5,123.9L353.2,124.0L353.8,124.0L354.5,124.0L355.1,124.0L355.8,124.0L355.8,124.0Z" fill="#d62c2e" stroke="none" stroke-width="1"/>
<clipPath id="h3"><path d="M305.3,124.0L305.3,124.0L305.7,123.9L306.1,123.9L306.6,123.7L307.0,123.5L307.4,123.0L307.8,122.3L308.2,121.0L308.7,119.1L309.1,116.2L309.5,112.1L309.9,106.6L310.3,99.6L310.8,91.0L311.2,81.2L311.6,70.7L312.0,60.2L312.4,50.6L312.9,42.9L313.3,37.8L313.7,36.1L314.1,37.8L314.5,42.9L315.0,50.6L315.4,60.2L315.8,70.7L316.2,81.2L316.6,91.0L317.1,99.6L317.5,106.6L317.9,112.1L318.3,116.2L318.7,119.1L319.2,121.0L319.6,122.3L320.0,123.0L320.4,123.5L320.8,123.7L321.3,123.9L321.7,123.9L322.1,124.0L322.1,124.0Z M329.4,124.0L329.4,124.0L330.1,124.0L330.7,124.0L331.4,124.0L332.0,124.0L332.7,123.9L333.4,123.9L334.0,123.8L334.7,123.7L335.3,123.6L336.0,123.3L336.7,123.0L337.3,122.6L338.0,122.1L338.6,121.6L339.3,121.0L340.0,120.4L340.6,119.8L341.3,119.4L341.9,119.1L342.6,119.0L343.3,119.1L343.9,119.4L344.6,119.8L345.2,120.4L345.9,121.0L346.6,121.6L347.2,122.1L347.9,122.6L348.5,123.0L349.2,123.3L349.9,123.6L350.5,123.7L351.2,123.8L351.8,123.9L352.5,123.9L353.2,124.0L353.8,124.0L354.5,124.0L355.1,124.0L355.8,124.0L355.8,124.0Z"/></clipPath>
<path d="M304.2,124.0L304.2,124.0L304.8,124.0L305.4,124.0L306.0,124.0L306.6,124.0L307.2,124.0L307.8,124.0L308.4,124.0L309.0,124.0L309.6,124.0L310.2,124.0L310.8,124.0L311.3,124.0L311.9,123.9L312.5,123.9L313.1,123.9L313.7,123.8L314.3,123.6L314.9,123.4L315.5,123.1L316.1,122.7L316.7,122.2L317.3,121.6L317.8,121.1L318.4,120.5L319.0,120.1L319.6,119.7L320.2,119.4L320.8,119.2L321.4,119.1L322.0,119.0L322.6,119.1L323.2,119.2L323.8,119.4L324.3,119.6L324.9,119.8L325.5,120.1L326.1,120.4L326.7,120.6L327.3,120.8L327.9,121.0L328.5,121.1L329.1,121.2L329.7,121.3L330.3,121.4L330.9,121.4L331.4,121.5L332.0,121.5L332.6,121.5L333.2,121.5L333.8,121.5L334.4,121.5L335.0,121.5L335.6,121.5L336.2,121.6L336.8,121.6L337.4,121.6L337.9,121.6L338.5,121.7L339.1,121.7L339.7,121.8L340.3,121.9L340.9,122.0L341.5,122.1L342.1,122.3L342.7,122.5L343.3,122.6L343.9,122.8L344.4,123.0L345.0,123.2L345.6,123.3L346.2,123.5L346.8,123.6L347.4,123.7L348.0,123.8L348.6,123.8L349.2,123.9L349.8,123.9L350.4,123.9L350.9,123.9L351.5,124.0L352.1,124.0L352.7,124.0L353.3,124.0L353.9,124.0L354.5,124.0L355.1,124.0L355.7,124.0L356.3,124.0L356.9,124.0L357.5,124.0L357.5,124.0Z" fill="#3a0010" fill-opacity="0.22" clip-path="url(#h3)"/>
<path d="M305.3,124.0L305.3,124.0L305.7,123.9L306.1,123.9L306.6,123.7L307.0,123.5L307.4,123.0L307.8,122.3L308.2,121.0L308.7,119.1L309.1,116.2L309.5,112.1L309.9,106.6L310.3,99.6L310.8,91.0L311.2,81.2L311.6,70.7L312.0,60.2L312.4,50.6L312.9,42.9L313.3,37.8L313.7,36.1L314.1,37.8L314.5,42.9L315.0,50.6L315.4,60.2L315.8,70.7L316.2,81.2L316.6,91.0L317.1,99.6L317.5,106.6L317.9,112.1L318.3,116.2L318.7,119.1L319.2,121.0L319.6,122.3L320.0,123.0L320.4,123.5L320.8,123.7L321.3,123.9L321.7,123.9L322.1,124.0L322.1,124.0Z" fill="none" stroke="#4a0008" stroke-width="0.35"/>
<path d="M329.4,124.0L329.4,124.0L330.1,124.0L330.7,124.0L331.4,124.0L332.0,124.0L332.7,123.9L333.4,123.9L334.0,123.8L334.7,123.7L335.3,123.6L336.0,123.3L336.7,123.0L337.3,122.6L338.0,122.1L338.6,121.6L339.3,121.0L340.0,120.4L340.6,119.8L341.3,119.4L341.9,119.1L342.6,119.0L343.3,119.1L343.9,119.4L344.6,119.8L345.2,120.4L345.9,121.0L346.6,121.6L347.2,122.1L347.9,122.6L348.5,123.0L349.2,123.3L349.9,123.6L350.5,123.7L351.2,123.8L351.8,123.9L352.5,123.9L353.2,124.0L353.8,124.0L354.5,124.0L355.1,124.0L355.8,124.0L355.8,124.0Z" fill="none" stroke="#4a0008" stroke-width="0.35"/>
<path d="M304.2,124.0L304.8,124.0L305.4,124.0L306.0,124.0L306.6,124.0L307.2,124.0L307.8,124.0L308.4,124.0L309.0,124.0L309.6,124.0L310.2,124.0L310.8,124.0L311.3,124.0L311.9,123.9L312.5,123.9L313.1,123.9L313.7,123.8L314.3,123.6L314.9,123.4L315.5,123.1L316.1,122.7L316.7,122.2L317.3,121.6L317.8,121.1L318.4,120.5L319.0,120.1L319.6,119.7L320.2,119.4L320.8,119.2L321.4,119.1L322.0,119.0L322.6,119.1L323.2,119.2L323.8,119.4L324.3,119.6L324.9,119.8L325.5,120.1L326.1,120.4L326.7,120.6L327.3,120.8L327.9,121.0L328.5,121.1L329.1,121.2L329.7,121.3L330.3,121.4L330.9,121.4L331.4,121.5L332.0,121.5L332.6,121.5L333.2,121.5L333.8,121.5L334.4,121.5L335.0,121.5L335.6,121.5L336.2,121.6L336.8,121.6L337.4,121.6L337.9,121.6L338.5,121.7L339.1,121.7L339.7,121.8L340.3,121.9L340.9,122.0L341.5,122.1L342.1,122.3L342.7,122.5L343.3,122.6L343.9,122.8L344.4,123.0L345.0,123.2L345.6,123.3L346.2,123.5L346.8,123.6L347.4,123.7L348.0,123.8L348.6,123.8L349.2,123.9L349.8,123.9L350.4,123.9L350.9,123.9L351.5,124.0L352.1,124.0L352.7,124.0L353.3,124.0L353.9,124.0L354.5,124.0L355.1,124.0L355.7,124.0L356.3,124.0L356.9,124.0L357.5,124.0" fill="none" stroke="#333" stroke-width="0.3" opacity="0.6"/>
<path d="M304.2,123.7L304.8,123.7L305.4,123.7L306.0,123.7L306.6,123.7L307.2,123.3L307.8,122.3L308.4,120.4L309.0,117.0L309.6,111.3L310.2,102.7L310.8,91.1L311.3,77.0L311.9,61.4L312.5,46.7L313.1,35.5L313.7,31.4L314.3,35.8L314.9,47.0L315.5,61.7L316.1,76.2L316.7,89.7L317.3,100.6L317.8,108.5L318.4,113.6L319.0,116.6L319.6,118.1L320.2,118.7L320.8,118.9L321.4,118.8L322.0,118.7L322.6,118.8L323.2,118.9L323.8,119.1L324.3,119.3L324.9,119.5L325.5,119.8L326.1,120.1L326.7,120.3L327.3,120.5L327.9,120.7L328.5,120.8L329.1,120.9L329.7,121.0L330.3,121.1L330.9,121.1L331.4,121.2L332.0,121.2L332.6,121.2L333.2,121.2L333.8,121.2L334.4,121.2L335.0,121.2L335.6,121.2L336.2,121.3L336.8,121.3L337.4,121.3L337.9,121.3L338.5,121.0L339.1,120.1L339.7,119.1L340.3,118.1L340.9,117.2L341.5,116.4L342.1,115.9L342.7,115.8L343.3,116.0L343.9,116.6L344.4,117.4L345.0,118.4L345.6,119.4L346.2,120.3L346.8,121.2L347.4,121.9L348.0,122.5L348.6,122.9L349.2,123.3L349.8,123.5L350.4,123.6L350.9,123.6L351.5,123.7L352.1,123.7L352.7,123.7L353.3,123.7L353.9,123.7L354.5,123.7L355.1,123.7L355.7,123.7L356.3,123.7L356.9,123.7L357.5,123.7" fill="none" stroke="#222" stroke-width="0.45"/>
<line x1="283.20" y1="27.20" x2="283.20" y2="124.00" stroke="#111" stroke-width="0.9"/>
<line x1="283.20" y1="124.00" x2="379.20" y2="124.00" stroke="#111" stroke-width="0.9"/>
<path d="M280.6,124.0H283.2M281.6,119.2H283.2M281.6,114.3H283.2M281.6,109.5H283.2M280.6,104.6H283.2M281.6,99.8H283.2M281.6,95.0H283.2M281.6,90.1H283.2M280.6,85.3H283.2M281.6,80.4H283.2M281.6,75.6H283.2M281.6,70.8H283.2M280.6,65.9H283.2M281.6,61.1H283.2M281.6,56.2H283.2M281.6,51.4H283.2M280.6,46.6H283.2M281.6,41.7H283.2M281.6,36.9H283.2M281.6,32.0H283.2M280.6,27.2H283.2M283.2,124.0V126.6M287.2,124.0V125.6M291.2,124.0V125.6M295.2,124.0V125.6M299.2,124.0V126.6M303.2,124.0V125.6M307.2,124.0V125.6M311.2,124.0V125.6M315.2,124.0V126.6M319.2,124.0V125.6M323.2,124.0V125.6M327.2,124.0V125.6M331.2,124.0V126.6M335.2,124.0V125.6M339.2,124.0V125.6M343.2,124.0V125.6M347.2,124.0V126.6M351.2,124.0V125.6M355.2,124.0V125.6M359.2,124.0V125.6M363.2,124.0V126.6M367.2,124.0V125.6M371.2,124.0V125.6M375.2,124.0V125.6M379.2,124.0V126.6" fill="none" stroke="#111" stroke-width="0.7"/>
<text class="sf" x="283.20" y="132.80" font-size="4.4" fill="#111" text-anchor="middle">0</text>
<text class="sf" x="299.20" y="132.80" font-size="4.4" fill="#111" text-anchor="middle">20</text>
<text class="sf" x="315.20" y="132.80" font-size="4.4" fill="#111" text-anchor="middle">40</text>
<text class="sf" x="331.20" y="132.80" font-size="4.4" fill="#111" text-anchor="middle">60</text>
<text class="sf" x="347.20" y="132.80" font-size="4.4" fill="#111" text-anchor="middle">80</text>
<text class="sf" x="363.20" y="132.80" font-size="4.4" fill="#111" text-anchor="middle">100</text>
<text class="sf" x="379.20" y="132.80" font-size="4.4" fill="#111" text-anchor="middle">120</text>
<text class="sf" x="279.00" y="124.00" font-size="4.0" fill="#222" text-anchor="middle" transform="rotate(-90 279.00 124.00)">0</text>
<text class="sf" x="279.00" y="104.64" font-size="4.0" fill="#222" text-anchor="middle" transform="rotate(-90 279.00 104.64)">1000</text>
<text class="sf" x="279.00" y="85.28" font-size="4.0" fill="#222" text-anchor="middle" transform="rotate(-90 279.00 85.28)">2000</text>
<text class="sf" x="279.00" y="65.92" font-size="4.0" fill="#222" text-anchor="middle" transform="rotate(-90 279.00 65.92)">3000</text>
<text class="sf" x="279.00" y="46.56" font-size="4.0" fill="#222" text-anchor="middle" transform="rotate(-90 279.00 46.56)">4000</text>
<text class="sf" x="279.00" y="27.20" font-size="4.0" fill="#222" text-anchor="middle" transform="rotate(-90 279.00 27.20)">5000</text>
<path d="M312.00,124.40 L315.40,124.40 L313.70,121.00 Z" fill="#000" stroke="none" stroke-width="1"/>
<path d="M340.90,124.40 L344.30,124.40 L342.60,121.00 Z" fill="#000" stroke="none" stroke-width="1"/>
<text class="sf" x="270.11" y="75.00" font-size="6.4" fill="#222" font-weight="bold" text-anchor="middle" transform="rotate(-90 270.11 75.00)">Number</text>
<text class="sf" x="331.20" y="141.50" font-size="7" fill="#222" font-weight="bold" text-anchor="middle">PI-A</text>
<text class="ss" x="329.80" y="37.30" font-size="6.6" fill="#000">G0/G1:70.68%</text>
<text class="ss" x="329.80" y="48.50" font-size="6.6" fill="#000">S:8.03%</text>
<text class="ss" x="329.80" y="59.70" font-size="6.6" fill="#000">G2/M:21.3%</text>
<text class="ss" x="330.20" y="18.90" font-size="14.5" fill="#6b6b6b" text-anchor="middle">0.5 μM</text>
<path d="M417.6,123.4L417.6,123.4L418.2,123.4L418.8,123.4L419.4,123.4L420.0,123.4L420.6,123.4L421.2,123.4L421.8,123.4L422.3,123.4L422.9,123.4L423.5,123.4L424.1,123.4L424.7,123.4L425.3,123.3L425.9,123.3L426.5,123.2L427.1,123.0L427.7,122.7L428.3,122.4L428.9,121.9L429.5,121.2L430.1,120.5L430.7,119.9L431.2,119.2L431.8,118.7L432.4,118.2L433.0,117.8L433.6,117.5L434.2,117.3L434.8,117.3L435.4,117.3L436.0,117.5L436.6,117.7L437.2,118.0L437.8,118.3L438.4,118.6L439.0,119.0L439.6,119.3L440.1,119.6L440.7,119.8L441.3,120.0L441.9,120.2L442.5,120.3L443.1,120.4L443.7,120.5L444.3,120.5L444.9,120.6L445.5,120.6L446.1,120.6L446.7,120.6L447.3,120.6L447.9,120.6L448.5,120.6L449.0,120.7L449.6,120.7L450.2,120.7L450.8,120.7L451.4,120.8L452.0,120.9L452.6,120.9L453.2,121.0L453.8,121.1L454.4,121.3L455.0,121.4L455.6,121.6L456.2,121.8L456.8,122.0L457.4,122.2L457.9,122.4L458.5,122.6L459.1,122.7L459.7,122.9L460.3,123.0L460.9,123.1L461.5,123.2L462.1,123.2L462.7,123.3L463.3,123.3L463.9,123.3L464.5,123.3L465.1,123.4L465.7,123.4L466.3,123.4L466.8,123.4L467.4,123.4L468.0,123.4L468.6,123.4L469.2,123.4L469.8,123.4L470.4,123.4L471.0,123.4L471.0,123.4Z" fill="#e3e5f3" stroke="none" stroke-width="1"/>
<path d="M417.6,123.4L417.6,123.4L418.2,123.4L418.8,123.4L419.4,123.4L420.0,123.4L420.6,123.4L421.2,123.4L421.8,123.4L422.3,123.4L422.9,123.4L423.5,123.4L424.1,123.4L424.7,123.4L425.3,123.3L425.9,123.3L426.5,123.2L427.1,123.0L427.7,122.7L428.3,122.4L428.9,121.9L429.5,121.2L430.1,120.5L430.7,119.9L431.2,119.2L431.8,118.7L432.4,118.2L433.0,117.8L433.6,117.5L434.2,117.3L434.8,117.3L435.4,117.3L436.0,117.5L436.6,117.7L437.2,118.0L437.8,118.3L438.4,118.6L439.0,119.0L439.6,119.3L440.1,119.6L440.7,119.8L441.3,120.0L441.9,120.2L442.5,120.3L443.1,120.4L443.7,120.5L444.3,120.5L444.9,120.6L445.5,120.6L446.1,120.6L446.7,120.6L447.3,120.6L447.9,120.6L448.5,120.6L449.0,120.7L449.6,120.7L450.2,120.7L450.8,120.7L451.4,120.8L452.0,120.9L452.6,120.9L453.2,121.0L453.8,121.1L454.4,121.3L455.0,121.4L455.6,121.6L456.2,121.8L456.8,122.0L457.4,122.2L457.9,122.4L458.5,122.6L459.1,122.7L459.7,122.9L460.3,123.0L460.9,123.1L461.5,123.2L462.1,123.2L462.7,123.3L463.3,123.3L463.9,123.3L464.5,123.3L465.1,123.4L465.7,123.4L466.3,123.4L466.8,123.4L467.4,123.4L468.0,123.4L468.6,123.4L469.2,123.4L469.8,123.4L470.4,123.4L471.0,123.4L471.0,123.4Z" fill="url(#hatch)" stroke="none" stroke-width="1"/>
<path d="M418.6,123.4L418.6,123.4L419.0,123.3L419.4,123.3L419.8,123.1L420.2,122.9L420.6,122.5L421.0,121.7L421.4,120.5L421.8,118.6L422.2,115.8L422.6,111.8L423.0,106.5L423.4,99.7L423.8,91.3L424.2,81.8L424.6,71.6L425.0,61.4L425.4,52.1L425.8,44.6L426.2,39.7L426.6,38.0L427.0,39.7L427.4,44.6L427.8,52.1L428.2,61.4L428.6,71.6L429.0,81.8L429.4,91.3L429.8,99.7L430.2,106.5L430.6,111.8L431.0,115.8L431.4,118.6L431.8,120.5L432.2,121.7L432.6,122.5L433.0,122.9L433.4,123.1L433.8,123.3L434.2,123.3L434.6,123.4L434.6,123.4Z" fill="#d62c2e" stroke="none" stroke-width="1"/>
<path d="M442.1,123.4L442.1,123.4L442.8,123.4L443.5,123.4L444.1,123.4L444.8,123.4L445.5,123.4L446.2,123.3L446.9,123.3L447.5,123.2L448.2,123.0L448.9,122.8L449.6,122.6L450.3,122.3L450.9,121.9L451.6,121.4L452.3,120.9L453.0,120.4L453.7,120.0L454.3,119.6L455.0,119.4L455.7,119.3L456.4,119.4L457.1,119.6L457.7,120.0L458.4,120.4L459.1,120.9L459.8,121.4L460.5,121.9L461.1,122.3L461.8,122.6L462.5,122.8L463.2,123.0L463.9,123.2L464.5,123.3L465.2,123.3L465.9,123.4L466.6,123.4L467.3,123.4L467.9,123.4L468.6,123.4L469.3,123.4L469.3,123.4Z" fill="#d62c2e" stroke="none" stroke-width="1"/>
<clipPath id="h4"><path d="M418.6,123.4L418.6,123.4L419.0,123.3L419.4,123.3L419.8,123.1L420.2,122.9L420.6,122.5L421.0,121.7L421.4,120.5L421.8,118.6L422.2,115.8L422.6,111.8L423.0,106.5L423.4,99.7L423.8,91.3L424.2,81.8L424.6,71.6L425.0,61.4L425.4,52.1L425.8,44.6L426.2,39.7L426.6,38.0L427.0,39.7L427.4,44.6L427.8,52.1L428.2,61.4L428.6,71.6L429.0,81.8L429.4,91.3L429.8,99.7L430.2,106.5L430.6,111.8L431.0,115.8L431.4,118.6L431.8,120.5L432.2,121.7L432.6,122.5L433.0,122.9L433.4,123.1L433.8,123.3L434.2,123.3L434.6,123.4L434.6,123.4Z M442.1,123.4L442.1,123.4L442.8,123.4L443.5,123.4L444.1,123.4L444.8,123.4L445.5,123.4L446.2,123.3L446.9,123.3L447.5,123.2L448.2,123.0L448.9,122.8L449.6,122.6L450.3,122.3L450.9,121.9L451.6,121.4L452.3,120.9L453.0,120.4L453.7,120.0L454.3,119.6L455.0,119.4L455.7,119.3L456.4,119.4L457.1,119.6L457.7,120.0L458.4,120.4L459.1,120.9L459.8,121.4L460.5,121.9L461.1,122.3L461.8,122.6L462.5,122.8L463.2,123.0L463.9,123.2L464.5,123.3L465.2,123.3L465.9,123.4L466.6,123.4L467.3,123.4L467.9,123.4L468.6,123.4L469.3,123.4L469.3,123.4Z"/></clipPath>
<path d="M417.6,123.4L417.6,123.4L418.2,123.4L418.8,123.4L419.4,123.4L420.0,123.4L420.6,123.4L421.2,123.4L421.8,123.4L422.3,123.4L422.9,123.4L423.5,123.4L424.1,123.4L424.7,123.4L425.3,123.3L425.9,123.3L426.5,123.2L427.1,123.0L427.7,122.7L428.3,122.4L428.9,121.9L429.5,121.2L430.1,120.5L430.7,119.9L431.2,119.2L431.8,118.7L432.4,118.2L433.0,117.8L433.6,117.5L434.2,117.3L434.8,117.3L435.4,117.3L436.0,117.5L436.6,117.7L437.2,118.0L437.8,118.3L438.4,118.6L439.0,119.0L439.6,119.3L440.1,119.6L440.7,119.8L441.3,120.0L441.9,120.2L442.5,120.3L443.1,120.4L443.7,120.5L444.3,120.5L444.9,120.6L445.5,120.6L446.1,120.6L446.7,120.6L447.3,120.6L447.9,120.6L448.5,120.6L449.0,120.7L449.6,120.7L450.2,120.7L450.8,120.7L451.4,120.8L452.0,120.9L452.6,120.9L453.2,121.0L453.8,121.1L454.4,121.3L455.0,121.4L455.6,121.6L456.2,121.8L456.8,122.0L457.4,122.2L457.9,122.4L458.5,122.6L459.1,122.7L459.7,122.9L460.3,123.0L460.9,123.1L461.5,123.2L462.1,123.2L462.7,123.3L463.3,123.3L463.9,123.3L464.5,123.3L465.1,123.4L465.7,123.4L466.3,123.4L466.8,123.4L467.4,123.4L468.0,123.4L468.6,123.4L469.2,123.4L469.8,123.4L470.4,123.4L471.0,123.4L471.0,123.4Z" fill="#3a0010" fill-opacity="0.22" clip-path="url(#h4)"/>
<path d="M418.6,123.4L418.6,123.4L419.0,123.3L419.4,123.3L419.8,123.1L420.2,122.9L420.6,122.5L421.0,121.7L421.4,120.5L421.8,118.6L422.2,115.8L422.6,111.8L423.0,106.5L423.4,99.7L423.8,91.3L424.2,81.8L424.6,71.6L425.0,61.4L425.4,52.1L425.8,44.6L426.2,39.7L426.6,38.0L427.0,39.7L427.4,44.6L427.8,52.1L428.2,61.4L428.6,71.6L429.0,81.8L429.4,91.3L429.8,99.7L430.2,106.5L430.6,111.8L431.0,115.8L431.4,118.6L431.8,120.5L432.2,121.7L432.6,122.5L433.0,122.9L433.4,123.1L433.8,123.3L434.2,123.3L434.6,123.4L434.6,123.4Z" fill="none" stroke="#4a0008" stroke-width="0.35"/>
<path d="M442.1,123.4L442.1,123.4L442.8,123.4L443.5,123.4L444.1,123.4L444.8,123.4L445.5,123.4L446.2,123.3L446.9,123.3L447.5,123.2L448.2,123.0L448.9,122.8L449.6,122.6L450.3,122.3L450.9,121.9L451.6,121.4L452.3,120.9L453.0,120.4L453.7,120.0L454.3,119.6L455.0,119.4L455.7,119.3L456.4,119.4L457.1,119.6L457.7,120.0L458.4,120.4L459.1,120.9L459.8,121.4L460.5,121.9L461.1,122.3L461.8,122.6L462.5,122.8L463.2,123.0L463.9,123.2L464.5,123.3L465.2,123.3L465.9,123.4L466.6,123.4L467.3,123.4L467.9,123.4L468.6,123.4L469.3,123.4L469.3,123.4Z" fill="none" stroke="#4a0008" stroke-width="0.35"/>
<path d="M417.6,123.4L418.2,123.4L418.8,123.4L419.4,123.4L420.0,123.4L420.6,123.4L421.2,123.4L421.8,123.4L422.3,123.4L422.9,123.4L423.5,123.4L424.1,123.4L424.7,123.4L425.3,123.3L425.9,123.3L426.5,123.2L427.1,123.0L427.7,122.7L428.3,122.4L428.9,121.9L429.5,121.2L430.1,120.5L430.7,119.9L431.2,119.2L431.8,118.7L432.4,118.2L433.0,117.8L433.6,117.5L434.2,117.3L434.8,117.3L435.4,117.3L436.0,117.5L436.6,117.7L437.2,118.0L437.8,118.3L438.4,118.6L439.0,119.0L439.6,119.3L440.1,119.6L440.7,119.8L441.3,120.0L441.9,120.2L442.5,120.3L443.1,120.4L443.7,120.5L444.3,120.5L444.9,120.6L445.5,120.6L446.1,120.6L446.7,120.6L447.3,120.6L447.9,120.6L448.5,120.6L449.0,120.7L449.6,120.7L450.2,120.7L450.8,120.7L451.4,120.8L452.0,120.9L452.6,120.9L453.2,121.0L453.8,121.1L454.4,121.3L455.0,121.4L455.6,121.6L456.2,121.8L456.8,122.0L457.4,122.2L457.9,122.4L458.5,122.6L459.1,122.7L459.7,122.9L460.3,123.0L460.9,123.1L461.5,123.2L462.1,123.2L462.7,123.3L463.3,123.3L463.9,123.3L464.5,123.3L465.1,123.4L465.7,123.4L466.3,123.4L466.8,123.4L467.4,123.4L468.0,123.4L468.6,123.4L469.2,123.4L469.8,123.4L470.4,123.4L471.0,123.4" fill="none" stroke="#333" stroke-width="0.3" opacity="0.6"/>
<path d="M417.6,123.1L418.2,123.1L418.8,123.1L419.4,123.1L420.0,123.0L420.6,122.5L421.2,121.3L421.8,118.9L422.3,114.5L422.9,107.4L423.5,97.0L424.1,83.5L424.7,67.9L425.3,51.9L425.9,38.7L426.5,32.4L427.1,35.7L427.7,47.0L428.3,62.4L428.9,77.1L429.5,90.7L430.1,101.4L430.7,108.9L431.2,113.5L431.8,115.9L432.4,117.0L433.0,117.3L433.6,117.2L434.2,117.0L434.8,117.0L435.4,117.0L436.0,117.2L436.6,117.4L437.2,117.7L437.8,118.0L438.4,118.3L439.0,118.7L439.6,119.0L440.1,119.3L440.7,119.5L441.3,119.7L441.9,119.9L442.5,120.0L443.1,120.1L443.7,120.2L444.3,120.2L444.9,120.3L445.5,120.3L446.1,120.3L446.7,120.3L447.3,120.3L447.9,120.3L448.5,120.3L449.0,120.4L449.6,120.4L450.2,120.4L450.8,120.4L451.4,120.5L452.0,120.2L452.6,119.4L453.2,118.6L453.8,117.8L454.4,117.1L455.0,116.6L455.6,116.4L456.2,116.5L456.8,116.9L457.4,117.5L457.9,118.2L458.5,119.1L459.1,119.9L459.7,120.7L460.3,121.3L460.9,121.9L461.5,122.3L462.1,122.6L462.7,122.9L463.3,123.0L463.9,123.0L464.5,123.0L465.1,123.1L465.7,123.1L466.3,123.1L466.8,123.1L467.4,123.1L468.0,123.1L468.6,123.1L469.2,123.1L469.8,123.1L470.4,123.1L471.0,123.1" fill="none" stroke="#222" stroke-width="0.45"/>
<line x1="397.40" y1="26.10" x2="397.40" y2="123.40" stroke="#111" stroke-width="0.9"/>
<line x1="397.40" y1="123.40" x2="492.70" y2="123.40" stroke="#111" stroke-width="0.9"/>
<path d="M394.8,123.4H397.4M395.8,116.5H397.4M394.8,109.5H397.4M395.8,102.6H397.4M394.8,95.6H397.4M395.8,88.7H397.4M394.8,81.7H397.4M395.8,74.8H397.4M394.8,67.8H397.4M395.8,60.9H397.4M394.8,53.9H397.4M395.8,46.9H397.4M394.8,40.0H397.4M395.8,33.0H397.4M394.8,26.1H397.4M397.4,123.4V126.0M400.8,123.4V125.0M404.2,123.4V125.0M407.6,123.4V125.0M411.0,123.4V126.0M414.4,123.4V125.0M417.8,123.4V125.0M421.2,123.4V125.0M424.6,123.4V126.0M428.0,123.4V125.0M431.4,123.4V125.0M434.8,123.4V125.0M438.2,123.4V126.0M441.6,123.4V125.0M445.1,123.4V125.0M448.5,123.4V125.0M451.9,123.4V126.0M455.3,123.4V125.0M458.7,123.4V125.0M462.1,123.4V125.0M465.5,123.4V126.0M468.9,123.4V125.0M472.3,123.4V125.0M475.7,123.4V125.0M479.1,123.4V126.0M482.5,123.4V125.0M485.9,123.4V125.0M489.3,123.4V125.0M492.7,123.4V126.0" fill="none" stroke="#111" stroke-width="0.7"/>
<text class="sf" x="397.40" y="132.20" font-size="4.4" fill="#111" text-anchor="middle">0</text>
<text class="sf" x="411.01" y="132.20" font-size="4.4" fill="#111" text-anchor="middle">20</text>
<text class="sf" x="424.63" y="132.20" font-size="4.4" fill="#111" text-anchor="middle">40</text>
<text class="sf" x="438.24" y="132.20" font-size="4.4" fill="#111" text-anchor="middle">60</text>
<text class="sf" x="451.86" y="132.20" font-size="4.4" fill="#111" text-anchor="middle">80</text>
<text class="sf" x="465.47" y="132.20" font-size="4.4" fill="#111" text-anchor="middle">100</text>
<text class="sf" x="479.09" y="132.20" font-size="4.4" fill="#111" text-anchor="middle">120</text>
<text class="sf" x="492.70" y="132.20" font-size="4.4" fill="#111" text-anchor="middle">140</text>
<text class="sf" x="393.20" y="123.40" font-size="4.0" fill="#222" text-anchor="middle" transform="rotate(-90 393.20 123.40)">0</text>
<text class="sf" x="393.20" y="109.50" font-size="4.0" fill="#222" text-anchor="middle" transform="rotate(-90 393.20 109.50)">500</text>
<text class="sf" x="393.20" y="95.60" font-size="4.0" fill="#222" text-anchor="middle" transform="rotate(-90 393.20 95.60)">1000</text>
<text class="sf" x="393.20" y="81.70" font-size="4.0" fill="#222" text-anchor="middle" transform="rotate(-90 393.20 81.70)">1500</text>
<text class="sf" x="393.20" y="67.80" font-size="4.0" fill="#222" text-anchor="middle" transform="rotate(-90 393.20 67.80)">2000</text>
<text class="sf" x="393.20" y="53.90" font-size="4.0" fill="#222" text-anchor="middle" transform="rotate(-90 393.20 53.90)">2500</text>
<text class="sf" x="393.20" y="40.00" font-size="4.0" fill="#222" text-anchor="middle" transform="rotate(-90 393.20 40.00)">3000</text>
<text class="sf" x="393.20" y="26.10" font-size="4.0" fill="#222" text-anchor="middle" transform="rotate(-90 393.20 26.10)">3500</text>
<path d="M424.90,123.80 L428.30,123.80 L426.60,120.40 Z" fill="#000" stroke="none" stroke-width="1"/>
<path d="M454.00,123.80 L457.40,123.80 L455.70,120.40 Z" fill="#000" stroke="none" stroke-width="1"/>
<text class="sf" x="383.71" y="75.00" font-size="6.4" fill="#222" font-weight="bold" text-anchor="middle" transform="rotate(-90 383.71 75.00)">Number</text>
<text class="sf" x="444.80" y="141.50" font-size="7" fill="#222" font-weight="bold" text-anchor="middle">PI-A</text>
<text class="ss" x="445.60" y="37.30" font-size="6.6" fill="#000">G0/G1:66.29%</text>
<text class="ss" x="445.60" y="48.50" font-size="6.6" fill="#000">S:11.66%</text>
<text class="ss" x="445.60" y="59.70" font-size="6.6" fill="#000">G2/M:22.05%</text>
<text class="ss" x="442.85" y="18.90" font-size="14.5" fill="#6b6b6b" text-anchor="middle">1.0 μM</text>
<path d="M75.7,254.9L75.7,254.9L76.3,254.9L76.9,254.9L77.5,254.9L78.1,254.9L78.7,254.9L79.4,254.9L80.0,254.9L80.6,254.9L81.2,254.9L81.8,254.9L82.5,254.9L83.1,254.9L83.7,254.8L84.3,254.8L84.9,254.8L85.5,254.7L86.2,254.6L86.8,254.4L87.4,254.1L88.0,253.8L88.6,253.3L89.3,252.7L89.9,252.1L90.5,251.4L91.1,250.7L91.7,250.1L92.3,249.7L93.0,249.3L93.6,249.1L94.2,248.9L94.8,248.8L95.4,248.7L96.1,248.7L96.7,248.7L97.3,248.6L97.9,248.6L98.5,248.6L99.1,248.6L99.8,248.6L100.4,248.6L101.0,248.6L101.6,248.6L102.2,248.6L102.9,248.6L103.5,248.7L104.1,248.7L104.7,248.7L105.3,248.7L105.9,248.8L106.6,248.8L107.2,248.9L107.8,249.0L108.4,249.1L109.0,249.2L109.7,249.3L110.3,249.5L110.9,249.7L111.5,250.0L112.1,250.3L112.8,250.6L113.4,251.0L114.0,251.4L114.6,251.8L115.2,252.2L115.8,252.6L116.5,253.0L117.1,253.3L117.7,253.6L118.3,253.8L118.9,254.0L119.6,254.2L120.2,254.4L120.8,254.5L121.4,254.6L122.0,254.6L122.6,254.7L123.3,254.7L123.9,254.8L124.5,254.8L125.1,254.8L125.7,254.8L126.4,254.9L127.0,254.9L127.6,254.9L128.2,254.9L128.8,254.9L129.4,254.9L130.1,254.9L130.7,254.9L131.3,254.9L131.3,254.9Z" fill="#e3e5f3" stroke="none" stroke-width="1"/>
<path d="M75.7,254.9L75.7,254.9L76.3,254.9L76.9,254.9L77.5,254.9L78.1,254.9L78.7,254.9L79.4,254.9L80.0,254.9L80.6,254.9L81.2,254.9L81.8,254.9L82.5,254.9L83.1,254.9L83.7,254.8L84.3,254.8L84.9,254.8L85.5,254.7L86.2,254.6L86.8,254.4L87.4,254.1L88.0,253.8L88.6,253.3L89.3,252.7L89.9,252.1L90.5,251.4L91.1,250.7L91.7,250.1L92.3,249.7L93.0,249.3L93.6,249.1L94.2,248.9L94.8,248.8L95.4,248.7L96.1,248.7L96.7,248.7L97.3,248.6L97.9,248.6L98.5,248.6L99.1,248.6L99.8,248.6L100.4,248.6L101.0,248.6L101.6,248.6L102.2,248.6L102.9,248.6L103.5,248.7L104.1,248.7L104.7,248.7L105.3,248.7L105.9,248.8L106.6,248.8L107.2,248.9L107.8,249.0L108.4,249.1L109.0,249.2L109.7,249.3L110.3,249.5L110.9,249.7L111.5,250.0L112.1,250.3L112.8,250.6L113.4,251.0L114.0,251.4L114.6,251.8L115.2,252.2L115.8,252.6L116.5,253.0L117.1,253.3L117.7,253.6L118.3,253.8L118.9,254.0L119.6,254.2L120.2,254.4L120.8,254.5L121.4,254.6L122.0,254.6L122.6,254.7L123.3,254.7L123.9,254.8L124.5,254.8L125.1,254.8L125.7,254.8L126.4,254.9L127.0,254.9L127.6,254.9L128.2,254.9L128.8,254.9L129.4,254.9L130.1,254.9L130.7,254.9L131.3,254.9L131.3,254.9Z" fill="url(#hatch)" stroke="none" stroke-width="1"/>
<path d="M76.9,254.9L76.9,254.9L77.4,254.8L77.9,254.8L78.4,254.7L78.9,254.4L79.4,254.0L79.9,253.4L80.4,252.3L80.9,250.5L81.4,248.0L81.9,244.4L82.4,239.6L82.9,233.4L83.4,225.8L83.9,217.2L84.4,207.9L84.9,198.6L85.4,190.2L85.9,183.4L86.4,178.9L86.9,177.4L87.4,178.9L87.9,183.4L88.4,190.2L88.9,198.6L89.4,207.9L89.9,217.2L90.4,225.8L90.9,233.4L91.4,239.6L91.9,244.4L92.4,248.0L92.9,250.5L93.4,252.3L93.9,253.4L94.4,254.0L94.9,254.4L95.4,254.7L95.9,254.8L96.4,254.8L96.9,254.9L96.9,254.9Z" fill="#bd0000" stroke="none" stroke-width="1"/>
<path d="M97.3,254.9L97.3,254.9L98.1,254.9L98.9,254.9L99.7,254.8L100.5,254.7L101.3,254.6L102.1,254.4L102.9,254.0L103.7,253.4L104.5,252.6L105.3,251.4L106.1,249.7L106.9,247.6L107.7,245.1L108.5,242.2L109.3,239.1L110.1,235.9L110.9,233.1L111.7,230.8L112.5,229.3L113.3,228.8L114.1,229.3L114.9,230.8L115.7,233.1L116.5,235.9L117.3,239.1L118.1,242.2L118.9,245.1L119.7,247.6L120.5,249.7L121.3,251.4L122.1,252.6L122.9,253.4L123.7,254.0L124.5,254.4L125.3,254.6L126.1,254.7L126.9,254.8L127.7,254.9L128.5,254.9L129.3,254.9L129.3,254.9Z" fill="#bd0000" stroke="none" stroke-width="1"/>
<clipPath id="h5"><path d="M76.9,254.9L76.9,254.9L77.4,254.8L77.9,254.8L78.4,254.7L78.9,254.4L79.4,254.0L79.9,253.4L80.4,252.3L80.9,250.5L81.4,248.0L81.9,244.4L82.4,239.6L82.9,233.4L83.4,225.8L83.9,217.2L84.4,207.9L84.9,198.6L85.4,190.2L85.9,183.4L86.4,178.9L86.9,177.4L87.4,178.9L87.9,183.4L88.4,190.2L88.9,198.6L89.4,207.9L89.9,217.2L90.4,225.8L90.9,233.4L91.4,239.6L91.9,244.4L92.4,248.0L92.9,250.5L93.4,252.3L93.9,253.4L94.4,254.0L94.9,254.4L95.4,254.7L95.9,254.8L96.4,254.8L96.9,254.9L96.9,254.9Z M97.3,254.9L97.3,254.9L98.1,254.9L98.9,254.9L99.7,254.8L100.5,254.7L101.3,254.6L102.1,254.4L102.9,254.0L103.7,253.4L104.5,252.6L105.3,251.4L106.1,249.7L106.9,247.6L107.7,245.1L108.5,242.2L109.3,239.1L110.1,235.9L110.9,233.1L111.7,230.8L112.5,229.3L113.3,228.8L114.1,229.3L114.9,230.8L115.7,233.1L116.5,235.9L117.3,239.1L118.1,242.2L118.9,245.1L119.7,247.6L120.5,249.7L121.3,251.4L122.1,252.6L122.9,253.4L123.7,254.0L124.5,254.4L125.3,254.6L126.1,254.7L126.9,254.8L127.7,254.9L128.5,254.9L129.3,254.9L129.3,254.9Z"/></clipPath>
<path d="M75.7,254.9L75.7,254.9L76.3,254.9L76.9,254.9L77.5,254.9L78.1,254.9L78.7,254.9L79.4,254.9L80.0,254.9L80.6,254.9L81.2,254.9L81.8,254.9L82.5,254.9L83.1,254.9L83.7,254.8L84.3,254.8L84.9,254.8L85.5,254.7L86.2,254.6L86.8,254.4L87.4,254.1L88.0,253.8L88.6,253.3L89.3,252.7L89.9,252.1L90.5,251.4L91.1,250.7L91.7,250.1L92.3,249.7L93.0,249.3L93.6,249.1L94.2,248.9L94.8,248.8L95.4,248.7L96.1,248.7L96.7,248.7L97.3,248.6L97.9,248.6L98.5,248.6L99.1,248.6L99.8,248.6L100.4,248.6L101.0,248.6L101.6,248.6L102.2,248.6L102.9,248.6L103.5,248.7L104.1,248.7L104.7,248.7L105.3,248.7L105.9,248.8L106.6,248.8L107.2,248.9L107.8,249.0L108.4,249.1L109.0,249.2L109.7,249.3L110.3,249.5L110.9,249.7L111.5,250.0L112.1,250.3L112.8,250.6L113.4,251.0L114.0,251.4L114.6,251.8L115.2,252.2L115.8,252.6L116.5,253.0L117.1,253.3L117.7,253.6L118.3,253.8L118.9,254.0L119.6,254.2L120.2,254.4L120.8,254.5L121.4,254.6L122.0,254.6L122.6,254.7L123.3,254.7L123.9,254.8L124.5,254.8L125.1,254.8L125.7,254.8L126.4,254.9L127.0,254.9L127.6,254.9L128.2,254.9L128.8,254.9L129.4,254.9L130.1,254.9L130.7,254.9L131.3,254.9L131.3,254.9Z" fill="#3a0010" fill-opacity="0.22" clip-path="url(#h5)"/>
<path d="M76.9,254.9L76.9,254.9L77.4,254.8L77.9,254.8L78.4,254.7L78.9,254.4L79.4,254.0L79.9,253.4L80.4,252.3L80.9,250.5L81.4,248.0L81.9,244.4L82.4,239.6L82.9,233.4L83.4,225.8L83.9,217.2L84.4,207.9L84.9,198.6L85.4,190.2L85.9,183.4L86.4,178.9L86.9,177.4L87.4,178.9L87.9,183.4L88.4,190.2L88.9,198.6L89.4,207.9L89.9,217.2L90.4,225.8L90.9,233.4L91.4,239.6L91.9,244.4L92.4,248.0L92.9,250.5L93.4,252.3L93.9,253.4L94.4,254.0L94.9,254.4L95.4,254.7L95.9,254.8L96.4,254.8L96.9,254.9L96.9,254.9Z" fill="none" stroke="#4a0008" stroke-width="0.35"/>
<path d="M97.3,254.9L97.3,254.9L98.1,254.9L98.9,254.9L99.7,254.8L100.5,254.7L101.3,254.6L102.1,254.4L102.9,254.0L103.7,253.4L104.5,252.6L105.3,251.4L106.1,249.7L106.9,247.6L107.7,245.1L108.5,242.2L109.3,239.1L110.1,235.9L110.9,233.1L111.7,230.8L112.5,229.3L113.3,228.8L114.1,229.3L114.9,230.8L115.7,233.1L116.5,235.9L117.3,239.1L118.1,242.2L118.9,245.1L119.7,247.6L120.5,249.7L121.3,251.4L122.1,252.6L122.9,253.4L123.7,254.0L124.5,254.4L125.3,254.6L126.1,254.7L126.9,254.8L127.7,254.9L128.5,254.9L129.3,254.9L129.3,254.9Z" fill="none" stroke="#4a0008" stroke-width="0.35"/>
<path d="M75.7,254.9L76.3,254.9L76.9,254.9L77.5,254.9L78.1,254.9L78.7,254.9L79.4,254.9L80.0,254.9L80.6,254.9L81.2,254.9L81.8,254.9L82.5,254.9L83.1,254.9L83.7,254.8L84.3,254.8L84.9,254.8L85.5,254.7L86.2,254.6L86.8,254.4L87.4,254.1L88.0,253.8L88.6,253.3L89.3,252.7L89.9,252.1L90.5,251.4L91.1,250.7L91.7,250.1L92.3,249.7L93.0,249.3L93.6,249.1L94.2,248.9L94.8,248.8L95.4,248.7L96.1,248.7L96.7,248.7L97.3,248.6L97.9,248.6L98.5,248.6L99.1,248.6L99.8,248.6L100.4,248.6L101.0,248.6L101.6,248.6L102.2,248.6L102.9,248.6L103.5,248.7L104.1,248.7L104.7,248.7L105.3,248.7L105.9,248.8L106.6,248.8L107.2,248.9L107.8,249.0L108.4,249.1L109.0,249.2L109.7,249.3L110.3,249.5L110.9,249.7L111.5,250.0L112.1,250.3L112.8,250.6L113.4,251.0L114.0,251.4L114.6,251.8L115.2,252.2L115.8,252.6L116.5,253.0L117.1,253.3L117.7,253.6L118.3,253.8L118.9,254.0L119.6,254.2L120.2,254.4L120.8,254.5L121.4,254.6L122.0,254.6L122.6,254.7L123.3,254.7L123.9,254.8L124.5,254.8L125.1,254.8L125.7,254.8L126.4,254.9L127.0,254.9L127.6,254.9L128.2,254.9L128.8,254.9L129.4,254.9L130.1,254.9L130.7,254.9L131.3,254.9" fill="none" stroke="#333" stroke-width="0.3" opacity="0.6"/>
<path d="M75.7,254.6L76.3,254.6L76.9,254.6L77.5,254.6L78.1,254.6L78.7,254.5L79.4,254.1L80.0,253.2L80.6,251.7L81.2,249.1L81.8,245.0L82.5,239.0L83.1,230.9L83.7,220.7L84.3,208.7L84.9,195.2L85.5,181.2L86.2,169.4L86.8,163.6L87.4,166.2L88.0,176.2L88.6,189.7L89.3,203.0L89.9,213.8L90.5,223.7L91.1,231.9L91.7,238.1L92.3,242.4L93.0,245.2L93.6,246.9L94.2,247.8L94.8,248.3L95.4,248.4L96.1,248.4L96.7,248.4L97.3,248.3L97.9,248.3L98.5,248.3L99.1,248.3L99.8,248.3L100.4,248.3L101.0,248.3L101.6,248.3L102.2,248.3L102.9,248.3L103.5,248.4L104.1,248.4L104.7,248.4L105.3,248.4L105.9,248.5L106.6,248.5L107.2,246.7L107.8,244.6L108.4,242.3L109.0,239.8L109.7,237.3L110.3,234.8L110.9,232.6L111.5,230.6L112.1,229.2L112.8,228.3L113.4,228.0L114.0,228.4L114.6,229.4L115.2,231.0L115.8,233.0L116.5,235.4L117.1,237.9L117.7,240.4L118.3,242.8L118.9,245.1L119.6,247.1L120.2,248.9L120.8,250.4L121.4,251.5L122.0,252.5L122.6,253.2L123.3,253.7L123.9,254.1L124.5,254.4L125.1,254.5L125.7,254.5L126.4,254.6L127.0,254.6L127.6,254.6L128.2,254.6L128.8,254.6L129.4,254.6L130.1,254.6L130.7,254.6L131.3,254.6" fill="none" stroke="#222" stroke-width="0.45"/>
<line x1="56.80" y1="162.20" x2="56.80" y2="254.90" stroke="#111" stroke-width="0.9"/>
<line x1="56.80" y1="254.90" x2="149.50" y2="254.90" stroke="#111" stroke-width="0.9"/>
<path d="M54.2,254.9H56.8M55.2,251.6H56.8M55.2,248.3H56.8M55.2,245.0H56.8M54.2,241.7H56.8M55.2,238.3H56.8M55.2,235.0H56.8M55.2,231.7H56.8M54.2,228.4H56.8M55.2,225.1H56.8M55.2,221.8H56.8M55.2,218.5H56.8M54.2,215.2H56.8M55.2,211.9H56.8M55.2,208.6H56.8M55.2,205.2H56.8M54.2,201.9H56.8M55.2,198.6H56.8M55.2,195.3H56.8M55.2,192.0H56.8M54.2,188.7H56.8M55.2,185.4H56.8M55.2,182.1H56.8M55.2,178.8H56.8M54.2,175.4H56.8M55.2,172.1H56.8M55.2,168.8H56.8M55.2,165.5H56.8M54.2,162.2H56.8M56.8,254.9V257.5M59.7,254.9V256.5M62.6,254.9V256.5M65.5,254.9V256.5M68.4,254.9V257.5M71.3,254.9V256.5M74.2,254.9V256.5M77.1,254.9V256.5M80.0,254.9V257.5M82.9,254.9V256.5M85.8,254.9V256.5M88.7,254.9V256.5M91.6,254.9V257.5M94.5,254.9V256.5M97.4,254.9V256.5M100.3,254.9V256.5M103.2,254.9V257.5M106.0,254.9V256.5M108.9,254.9V256.5M111.8,254.9V256.5M114.7,254.9V257.5M117.6,254.9V256.5M120.5,254.9V256.5M123.4,254.9V256.5M126.3,254.9V257.5M129.2,254.9V256.5M132.1,254.9V256.5M135.0,254.9V256.5M137.9,254.9V257.5M140.8,254.9V256.5M143.7,254.9V256.5M146.6,254.9V256.5M149.5,254.9V257.5" fill="none" stroke="#111" stroke-width="0.7"/>
<text class="sf" x="56.80" y="263.70" font-size="4.0" fill="#111" text-anchor="middle">0</text>
<text class="sf" x="68.39" y="263.70" font-size="4.0" fill="#111" text-anchor="middle">20</text>
<text class="sf" x="79.97" y="263.70" font-size="4.0" fill="#111" text-anchor="middle">40</text>
<text class="sf" x="91.56" y="263.70" font-size="4.0" fill="#111" text-anchor="middle">60</text>
<text class="sf" x="103.15" y="263.70" font-size="4.0" fill="#111" text-anchor="middle">80</text>
<text class="sf" x="114.74" y="263.70" font-size="4.0" fill="#111" text-anchor="middle">100</text>
<text class="sf" x="126.33" y="263.70" font-size="4.0" fill="#111" text-anchor="middle">120</text>
<text class="sf" x="137.91" y="263.70" font-size="4.0" fill="#111" text-anchor="middle">140</text>
<text class="sf" x="149.50" y="263.70" font-size="4.0" fill="#111" text-anchor="middle">160</text>
<text class="sf" x="52.60" y="254.90" font-size="3.6" fill="#222" text-anchor="middle" transform="rotate(-90 52.60 254.90)">0</text>
<text class="sf" x="52.60" y="241.66" font-size="3.6" fill="#222" text-anchor="middle" transform="rotate(-90 52.60 241.66)">200</text>
<text class="sf" x="52.60" y="228.41" font-size="3.6" fill="#222" text-anchor="middle" transform="rotate(-90 52.60 228.41)">400</text>
<text class="sf" x="52.60" y="215.17" font-size="3.6" fill="#222" text-anchor="middle" transform="rotate(-90 52.60 215.17)">600</text>
<text class="sf" x="52.60" y="201.93" font-size="3.6" fill="#222" text-anchor="middle" transform="rotate(-90 52.60 201.93)">800</text>
<text class="sf" x="52.60" y="188.69" font-size="3.6" fill="#222" text-anchor="middle" transform="rotate(-90 52.60 188.69)">1000</text>
<text class="sf" x="52.60" y="175.44" font-size="3.6" fill="#222" text-anchor="middle" transform="rotate(-90 52.60 175.44)">1200</text>
<text class="sf" x="52.60" y="162.20" font-size="3.6" fill="#222" text-anchor="middle" transform="rotate(-90 52.60 162.20)">1400</text>
<path d="M85.20,255.30 L88.60,255.30 L86.90,251.90 Z" fill="#000" stroke="none" stroke-width="1"/>
<path d="M111.60,255.30 L115.00,255.30 L113.30,251.90 Z" fill="#000" stroke="none" stroke-width="1"/>
<text class="sf" x="42.38" y="208.00" font-size="4.5" fill="#222" font-weight="bold" text-anchor="middle" transform="rotate(-90 42.38 208.00)">Number</text>
<text class="ss" x="100.90" y="176.90" font-size="6.7" fill="#000">G0/G1:57.7%</text>
<text class="ss" x="100.90" y="187.90" font-size="6.7" fill="#000">S:18.12%</text>
<text class="ss" x="100.90" y="198.90" font-size="6.7" fill="#000">G2/M:24.18%</text>
<text class="ss" x="107.45" y="158.70" font-size="14.5" fill="#6b6b6b" text-anchor="middle">0 μM</text>
<path d="M194.2,255.5L194.2,255.5L195.0,255.5L195.7,255.5L196.5,255.5L197.2,255.5L198.0,255.5L198.8,255.5L199.5,255.5L200.3,255.5L201.0,255.5L201.8,255.5L202.5,255.5L203.3,255.5L204.1,255.5L204.8,255.5L205.6,255.4L206.3,255.4L207.1,255.4L207.9,255.3L208.6,255.3L209.4,255.2L210.1,255.0L210.9,254.8L211.7,254.6L212.4,254.2L213.2,253.8L213.9,253.2L214.7,252.5L215.4,251.8L216.2,250.9L217.0,250.1L217.7,249.3L218.5,248.6L219.2,248.1L220.0,247.6L220.8,247.3L221.5,247.0L222.3,246.8L223.0,246.7L223.8,246.6L224.6,246.5L225.3,246.5L226.1,246.4L226.8,246.4L227.6,246.4L228.4,246.4L229.1,246.5L229.9,246.5L230.6,246.5L231.4,246.6L232.1,246.7L232.9,246.8L233.7,246.9L234.4,247.1L235.2,247.3L235.9,247.5L236.7,247.8L237.5,248.2L238.2,248.6L239.0,249.1L239.7,249.6L240.5,250.1L241.3,250.7L242.0,251.3L242.8,251.9L243.5,252.4L244.3,252.9L245.0,253.3L245.8,253.7L246.6,254.1L247.3,254.3L248.1,254.6L248.8,254.8L249.6,254.9L250.4,255.0L251.1,255.1L251.9,255.2L252.6,255.3L253.4,255.3L254.2,255.4L254.9,255.4L255.7,255.4L256.4,255.4L257.2,255.5L257.9,255.5L258.7,255.5L259.5,255.5L260.2,255.5L261.0,255.5L261.7,255.5L262.5,255.5L262.5,255.5Z" fill="#e3e5f3" stroke="none" stroke-width="1"/>
<path d="M194.2,255.5L194.2,255.5L195.0,255.5L195.7,255.5L196.5,255.5L197.2,255.5L198.0,255.5L198.8,255.5L199.5,255.5L200.3,255.5L201.0,255.5L201.8,255.5L202.5,255.5L203.3,255.5L204.1,255.5L204.8,255.5L205.6,255.4L206.3,255.4L207.1,255.4L207.9,255.3L208.6,255.3L209.4,255.2L210.1,255.0L210.9,254.8L211.7,254.6L212.4,254.2L213.2,253.8L213.9,253.2L214.7,252.5L215.4,251.8L216.2,250.9L217.0,250.1L217.7,249.3L218.5,248.6L219.2,248.1L220.0,247.6L220.8,247.3L221.5,247.0L222.3,246.8L223.0,246.7L223.8,246.6L224.6,246.5L225.3,246.5L226.1,246.4L226.8,246.4L227.6,246.4L228.4,246.4L229.1,246.5L229.9,246.5L230.6,246.5L231.4,246.6L232.1,246.7L232.9,246.8L233.7,246.9L234.4,247.1L235.2,247.3L235.9,247.5L236.7,247.8L237.5,248.2L238.2,248.6L239.0,249.1L239.7,249.6L240.5,250.1L241.3,250.7L242.0,251.3L242.8,251.9L243.5,252.4L244.3,252.9L245.0,253.3L245.8,253.7L246.6,254.1L247.3,254.3L248.1,254.6L248.8,254.8L249.6,254.9L250.4,255.0L251.1,255.1L251.9,255.2L252.6,255.3L253.4,255.3L254.2,255.4L254.9,255.4L255.7,255.4L256.4,255.4L257.2,255.5L257.9,255.5L258.7,255.5L259.5,255.5L260.2,255.5L261.0,255.5L261.7,255.5L262.5,255.5L262.5,255.5Z" fill="url(#hatch)" stroke="none" stroke-width="1"/>
<path d="M196.1,255.5L196.1,255.5L196.9,255.4L197.6,255.4L198.4,255.2L199.1,255.0L199.9,254.5L200.7,253.8L201.4,252.5L202.2,250.6L202.9,247.7L203.7,243.6L204.5,238.1L205.2,231.1L206.0,222.5L206.7,212.7L207.5,202.2L208.3,191.7L209.0,182.1L209.8,174.4L210.5,169.3L211.3,167.6L212.1,169.3L212.8,174.4L213.6,182.1L214.3,191.7L215.1,202.2L215.9,212.7L216.6,222.5L217.4,231.1L218.1,238.1L218.9,243.6L219.7,247.7L220.4,250.6L221.2,252.5L221.9,253.8L222.7,254.5L223.5,255.0L224.2,255.2L225.0,255.4L225.7,255.4L226.5,255.5L226.5,255.5Z" fill="#bd0000" stroke="none" stroke-width="1"/>
<path d="M220.0,255.5L220.0,255.5L221.0,255.5L222.0,255.5L223.0,255.4L224.0,255.4L225.0,255.3L226.0,255.2L227.0,254.9L228.0,254.5L229.0,254.0L230.0,253.2L231.0,252.1L232.0,250.8L233.0,249.1L234.0,247.2L235.0,245.2L236.0,243.2L237.0,241.3L238.0,239.8L239.0,238.8L240.0,238.5L241.0,238.8L242.0,239.8L243.0,241.3L244.0,243.2L245.0,245.2L246.0,247.2L247.0,249.1L248.0,250.8L249.0,252.1L250.0,253.2L251.0,254.0L252.0,254.5L253.0,254.9L254.0,255.2L255.0,255.3L256.0,255.4L257.0,255.4L258.0,255.5L259.0,255.5L260.0,255.5L260.0,255.5Z" fill="#bd0000" stroke="none" stroke-width="1"/>
<clipPath id="h6"><path d="M196.1,255.5L196.1,255.5L196.9,255.4L197.6,255.4L198.4,255.2L199.1,255.0L199.9,254.5L200.7,253.8L201.4,252.5L202.2,250.6L202.9,247.7L203.7,243.6L204.5,238.1L205.2,231.1L206.0,222.5L206.7,212.7L207.5,202.2L208.3,191.7L209.0,182.1L209.8,174.4L210.5,169.3L211.3,167.6L212.1,169.3L212.8,174.4L213.6,182.1L214.3,191.7L215.1,202.2L215.9,212.7L216.6,222.5L217.4,231.1L218.1,238.1L218.9,243.6L219.7,247.7L220.4,250.6L221.2,252.5L221.9,253.8L222.7,254.5L223.5,255.0L224.2,255.2L225.0,255.4L225.7,255.4L226.5,255.5L226.5,255.5Z M220.0,255.5L220.0,255.5L221.0,255.5L222.0,255.5L223.0,255.4L224.0,255.4L225.0,255.3L226.0,255.2L227.0,254.9L228.0,254.5L229.0,254.0L230.0,253.2L231.0,252.1L232.0,250.8L233.0,249.1L234.0,247.2L235.0,245.2L236.0,243.2L237.0,241.3L238.0,239.8L239.0,238.8L240.0,238.5L241.0,238.8L242.0,239.8L243.0,241.3L244.0,243.2L245.0,245.2L246.0,247.2L247.0,249.1L248.0,250.8L249.0,252.1L250.0,253.2L251.0,254.0L252.0,254.5L253.0,254.9L254.0,255.2L255.0,255.3L256.0,255.4L257.0,255.4L258.0,255.5L259.0,255.5L260.0,255.5L260.0,255.5Z"/></clipPath>
<path d="M194.2,255.5L194.2,255.5L195.0,255.5L195.7,255.5L196.5,255.5L197.2,255.5L198.0,255.5L198.8,255.5L199.5,255.5L200.3,255.5L201.0,255.5L201.8,255.5L202.5,255.5L203.3,255.5L204.1,255.5L204.8,255.5L205.6,255.4L206.3,255.4L207.1,255.4L207.9,255.3L208.6,255.3L209.4,255.2L210.1,255.0L210.9,254.8L211.7,254.6L212.4,254.2L213.2,253.8L213.9,253.2L214.7,252.5L215.4,251.8L216.2,250.9L217.0,250.1L217.7,249.3L218.5,248.6L219.2,248.1L220.0,247.6L220.8,247.3L221.5,247.0L222.3,246.8L223.0,246.7L223.8,246.6L224.6,246.5L225.3,246.5L226.1,246.4L226.8,246.4L227.6,246.4L228.4,246.4L229.1,246.5L229.9,246.5L230.6,246.5L231.4,246.6L232.1,246.7L232.9,246.8L233.7,246.9L234.4,247.1L235.2,247.3L235.9,247.5L236.7,247.8L237.5,248.2L238.2,248.6L239.0,249.1L239.7,249.6L240.5,250.1L241.3,250.7L242.0,251.3L242.8,251.9L243.5,252.4L244.3,252.9L245.0,253.3L245.8,253.7L246.6,254.1L247.3,254.3L248.1,254.6L248.8,254.8L249.6,254.9L250.4,255.0L251.1,255.1L251.9,255.2L252.6,255.3L253.4,255.3L254.2,255.4L254.9,255.4L255.7,255.4L256.4,255.4L257.2,255.5L257.9,255.5L258.7,255.5L259.5,255.5L260.2,255.5L261.0,255.5L261.7,255.5L262.5,255.5L262.5,255.5Z" fill="#3a0010" fill-opacity="0.22" clip-path="url(#h6)"/>
<path d="M196.1,255.5L196.1,255.5L196.9,255.4L197.6,255.4L198.4,255.2L199.1,255.0L199.9,254.5L200.7,253.8L201.4,252.5L202.2,250.6L202.9,247.7L203.7,243.6L204.5,238.1L205.2,231.1L206.0,222.5L206.7,212.7L207.5,202.2L208.3,191.7L209.0,182.1L209.8,174.4L210.5,169.3L211.3,167.6L212.1,169.3L212.8,174.4L213.6,182.1L214.3,191.7L215.1,202.2L215.9,212.7L216.6,222.5L217.4,231.1L218.1,238.1L218.9,243.6L219.7,247.7L220.4,250.6L221.2,252.5L221.9,253.8L222.7,254.5L223.5,255.0L224.2,255.2L225.0,255.4L225.7,255.4L226.5,255.5L226.5,255.5Z" fill="none" stroke="#4a0008" stroke-width="0.35"/>
<path d="M220.0,255.5L220.0,255.5L221.0,255.5L222.0,255.5L223.0,255.4L224.0,255.4L225.0,255.3L226.0,255.2L227.0,254.9L228.0,254.5L229.0,254.0L230.0,253.2L231.0,252.1L232.0,250.8L233.0,249.1L234.0,247.2L235.0,245.2L236.0,243.2L237.0,241.3L238.0,239.8L239.0,238.8L240.0,238.5L241.0,238.8L242.0,239.8L243.0,241.3L244.0,243.2L245.0,245.2L246.0,247.2L247.0,249.1L248.0,250.8L249.0,252.1L250.0,253.2L251.0,254.0L252.0,254.5L253.0,254.9L254.0,255.2L255.0,255.3L256.0,255.4L257.0,255.4L258.0,255.5L259.0,255.5L260.0,255.5L260.0,255.5Z" fill="none" stroke="#4a0008" stroke-width="0.35"/>
<path d="M194.2,255.5L195.0,255.5L195.7,255.5L196.5,255.5L197.2,255.5L198.0,255.5L198.8,255.5L199.5,255.5L200.3,255.5L201.0,255.5L201.8,255.5L202.5,255.5L203.3,255.5L204.1,255.5L204.8,255.5L205.6,255.4L206.3,255.4L207.1,255.4L207.9,255.3L208.6,255.3L209.4,255.2L210.1,255.0L210.9,254.8L211.7,254.6L212.4,254.2L213.2,253.8L213.9,253.2L214.7,252.5L215.4,251.8L216.2,250.9L217.0,250.1L217.7,249.3L218.5,248.6L219.2,248.1L220.0,247.6L220.8,247.3L221.5,247.0L222.3,246.8L223.0,246.7L223.8,246.6L224.6,246.5L225.3,246.5L226.1,246.4L226.8,246.4L227.6,246.4L228.4,246.4L229.1,246.5L229.9,246.5L230.6,246.5L231.4,246.6L232.1,246.7L232.9,246.8L233.7,246.9L234.4,247.1L235.2,247.3L235.9,247.5L236.7,247.8L237.5,248.2L238.2,248.6L239.0,249.1L239.7,249.6L240.5,250.1L241.3,250.7L242.0,251.3L242.8,251.9L243.5,252.4L244.3,252.9L245.0,253.3L245.8,253.7L246.6,254.1L247.3,254.3L248.1,254.6L248.8,254.8L249.6,254.9L250.4,255.0L251.1,255.1L251.9,255.2L252.6,255.3L253.4,255.3L254.2,255.4L254.9,255.4L255.7,255.4L256.4,255.4L257.2,255.5L257.9,255.5L258.7,255.5L259.5,255.5L260.2,255.5L261.0,255.5L261.7,255.5L262.5,255.5" fill="none" stroke="#333" stroke-width="0.3" opacity="0.6"/>
<path d="M194.2,255.2L195.0,255.2L195.7,255.2L196.5,255.2L197.2,255.2L198.0,255.2L198.8,255.1L199.5,254.8L200.3,254.2L201.0,253.2L201.8,251.7L202.5,249.3L203.3,245.9L204.1,241.1L204.8,234.9L205.6,227.1L206.3,218.0L207.1,207.7L207.9,197.1L208.6,186.8L209.4,177.8L210.1,171.1L210.9,167.5L211.7,167.1L212.4,170.0L213.2,175.9L213.9,184.0L214.7,193.5L215.4,203.3L216.2,212.8L217.0,221.2L217.7,228.3L218.5,233.9L219.2,238.2L220.0,241.2L220.8,243.3L221.5,244.6L222.3,245.4L223.0,245.9L223.8,246.2L224.6,246.2L225.3,246.2L226.1,246.1L226.8,246.1L227.6,246.1L228.4,246.1L229.1,246.2L229.9,246.2L230.6,246.2L231.4,246.3L232.1,246.4L232.9,246.5L233.7,246.6L234.4,246.2L235.2,244.6L235.9,243.0L236.7,241.5L237.5,240.2L238.2,239.1L239.0,238.4L239.7,238.0L240.5,238.1L241.3,238.6L242.0,239.4L242.8,240.6L243.5,241.9L244.3,243.5L245.0,245.1L245.8,246.7L246.6,248.2L247.3,249.6L248.1,250.9L248.8,251.9L249.6,252.8L250.4,253.5L251.1,254.1L251.9,254.5L252.6,254.8L253.4,255.0L254.2,255.1L254.9,255.1L255.7,255.1L256.4,255.1L257.2,255.2L257.9,255.2L258.7,255.2L259.5,255.2L260.2,255.2L261.0,255.2L261.7,255.2L262.5,255.2" fill="none" stroke="#222" stroke-width="0.45"/>
<path d="M194.6,255.4L195.1,255.3L195.6,255.1L196.1,254.9L196.6,254.5L197.1,254.0L197.6,253.3L198.1,252.4L198.6,251.3L199.1,250.0L199.6,248.6L200.1,247.3L200.6,246.1L201.1,245.1L201.6,244.4L202.1,244.2L202.6,244.4L203.1,245.1L203.6,246.1L204.1,247.3L204.6,248.6L205.1,250.0L205.6,251.3L206.1,252.4L206.6,253.3L207.1,254.0L207.6,254.5L208.1,254.9L208.6,255.1L209.1,255.3L209.6,255.4" fill="#fff" stroke="#333" stroke-width="0.4"/>
<line x1="172.10" y1="159.40" x2="172.10" y2="255.50" stroke="#111" stroke-width="0.9"/>
<line x1="172.10" y1="255.50" x2="267.50" y2="255.50" stroke="#111" stroke-width="0.9"/>
<path d="M169.5,255.5H172.1M170.5,252.1H172.1M170.5,248.6H172.1M170.5,245.2H172.1M169.5,241.8H172.1M170.5,238.3H172.1M170.5,234.9H172.1M170.5,231.5H172.1M169.5,228.0H172.1M170.5,224.6H172.1M170.5,221.2H172.1M170.5,217.7H172.1M169.5,214.3H172.1M170.5,210.9H172.1M170.5,207.4H172.1M170.5,204.0H172.1M169.5,200.6H172.1M170.5,197.2H172.1M170.5,193.7H172.1M170.5,190.3H172.1M169.5,186.9H172.1M170.5,183.4H172.1M170.5,180.0H172.1M170.5,176.6H172.1M169.5,173.1H172.1M170.5,169.7H172.1M170.5,166.3H172.1M170.5,162.8H172.1M169.5,159.4H172.1M172.1,255.5V258.1M175.1,255.5V257.1M178.1,255.5V257.1M181.0,255.5V257.1M184.0,255.5V258.1M187.0,255.5V257.1M190.0,255.5V257.1M193.0,255.5V257.1M195.9,255.5V258.1M198.9,255.5V257.1M201.9,255.5V257.1M204.9,255.5V257.1M207.9,255.5V258.1M210.9,255.5V257.1M213.8,255.5V257.1M216.8,255.5V257.1M219.8,255.5V258.1M222.8,255.5V257.1M225.8,255.5V257.1M228.7,255.5V257.1M231.7,255.5V258.1M234.7,255.5V257.1M237.7,255.5V257.1M240.7,255.5V257.1M243.7,255.5V258.1M246.6,255.5V257.1M249.6,255.5V257.1M252.6,255.5V257.1M255.6,255.5V258.1M258.6,255.5V257.1M261.5,255.5V257.1M264.5,255.5V257.1M267.5,255.5V258.1" fill="none" stroke="#111" stroke-width="0.7"/>
<text class="sf" x="172.10" y="264.30" font-size="4.0" fill="#111" text-anchor="middle">0</text>
<text class="sf" x="184.03" y="264.30" font-size="4.0" fill="#111" text-anchor="middle">20</text>
<text class="sf" x="195.95" y="264.30" font-size="4.0" fill="#111" text-anchor="middle">40</text>
<text class="sf" x="207.88" y="264.30" font-size="4.0" fill="#111" text-anchor="middle">60</text>
<text class="sf" x="219.80" y="264.30" font-size="4.0" fill="#111" text-anchor="middle">80</text>
<text class="sf" x="231.72" y="264.30" font-size="4.0" fill="#111" text-anchor="middle">100</text>
<text class="sf" x="243.65" y="264.30" font-size="4.0" fill="#111" text-anchor="middle">120</text>
<text class="sf" x="255.57" y="264.30" font-size="4.0" fill="#111" text-anchor="middle">140</text>
<text class="sf" x="267.50" y="264.30" font-size="4.0" fill="#111" text-anchor="middle">160</text>
<text class="sf" x="167.90" y="255.50" font-size="3.6" fill="#222" text-anchor="middle" transform="rotate(-90 167.90 255.50)">0</text>
<text class="sf" x="167.90" y="241.77" font-size="3.6" fill="#222" text-anchor="middle" transform="rotate(-90 167.90 241.77)">200</text>
<text class="sf" x="167.90" y="228.04" font-size="3.6" fill="#222" text-anchor="middle" transform="rotate(-90 167.90 228.04)">400</text>
<text class="sf" x="167.90" y="214.31" font-size="3.6" fill="#222" text-anchor="middle" transform="rotate(-90 167.90 214.31)">600</text>
<text class="sf" x="167.90" y="200.59" font-size="3.6" fill="#222" text-anchor="middle" transform="rotate(-90 167.90 200.59)">800</text>
<text class="sf" x="167.90" y="186.86" font-size="3.6" fill="#222" text-anchor="middle" transform="rotate(-90 167.90 186.86)">1000</text>
<text class="sf" x="167.90" y="173.13" font-size="3.6" fill="#222" text-anchor="middle" transform="rotate(-90 167.90 173.13)">1200</text>
<text class="sf" x="167.90" y="159.40" font-size="3.6" fill="#222" text-anchor="middle" transform="rotate(-90 167.90 159.40)">1400</text>
<path d="M209.60,255.90 L213.00,255.90 L211.30,252.50 Z" fill="#000" stroke="none" stroke-width="1"/>
<path d="M238.30,255.90 L241.70,255.90 L240.00,252.50 Z" fill="#000" stroke="none" stroke-width="1"/>
<text class="sf" x="158.69" y="207.40" font-size="4.5" fill="#222" font-weight="bold" text-anchor="middle" transform="rotate(-90 158.69 207.40)">Number</text>
<text class="ss" x="227.30" y="176.80" font-size="6.7" fill="#000">G0/G1:69.65%</text>
<text class="ss" x="227.30" y="188.00" font-size="6.7" fill="#000">S:11.07%</text>
<text class="ss" x="227.30" y="199.30" font-size="6.7" fill="#000">G2/M:19.28%</text>
<text class="ss" x="223.55" y="160.00" font-size="14.5" fill="#6b6b6b" text-anchor="middle">0.5 μM</text>
<path d="M300.6,254.8L300.6,254.8L301.2,254.8L301.8,254.8L302.5,254.8L303.1,254.8L303.7,254.8L304.3,254.8L305.0,254.8L305.6,254.8L306.2,254.8L306.8,254.8L307.5,254.8L308.1,254.8L308.7,254.8L309.3,254.8L309.9,254.8L310.6,254.8L311.2,254.7L311.8,254.7L312.4,254.7L313.1,254.6L313.7,254.6L314.3,254.5L314.9,254.3L315.5,254.2L316.2,253.9L316.8,253.6L317.4,253.3L318.0,252.8L318.7,252.4L319.3,251.9L319.9,251.4L320.5,250.9L321.2,250.5L321.8,250.2L322.4,249.9L323.0,249.7L323.6,249.5L324.3,249.4L324.9,249.4L325.5,249.3L326.1,249.3L326.8,249.3L327.4,249.3L328.0,249.3L328.6,249.3L329.2,249.4L329.9,249.4L330.5,249.5L331.1,249.6L331.7,249.7L332.4,249.8L333.0,249.9L333.6,250.1L334.2,250.3L334.9,250.6L335.5,250.8L336.1,251.1L336.7,251.4L337.3,251.7L338.0,252.1L338.6,252.4L339.2,252.7L339.8,253.0L340.5,253.3L341.1,253.5L341.7,253.7L342.3,253.9L342.9,254.1L343.6,254.2L344.2,254.3L344.8,254.4L345.4,254.5L346.1,254.5L346.7,254.6L347.3,254.6L347.9,254.7L348.6,254.7L349.2,254.7L349.8,254.7L350.4,254.7L351.0,254.8L351.7,254.8L352.3,254.8L352.9,254.8L353.5,254.8L354.2,254.8L354.8,254.8L355.4,254.8L356.0,254.8L356.6,254.8L356.6,254.8Z" fill="#e3e5f3" stroke="none" stroke-width="1"/>
<path d="M300.6,254.8L300.6,254.8L301.2,254.8L301.8,254.8L302.5,254.8L303.1,254.8L303.7,254.8L304.3,254.8L305.0,254.8L305.6,254.8L306.2,254.8L306.8,254.8L307.5,254.8L308.1,254.8L308.7,254.8L309.3,254.8L309.9,254.8L310.6,254.8L311.2,254.7L311.8,254.7L312.4,254.7L313.1,254.6L313.7,254.6L314.3,254.5L314.9,254.3L315.5,254.2L316.2,253.9L316.8,253.6L317.4,253.3L318.0,252.8L318.7,252.4L319.3,251.9L319.9,251.4L320.5,250.9L321.2,250.5L321.8,250.2L322.4,249.9L323.0,249.7L323.6,249.5L324.3,249.4L324.9,249.4L325.5,249.3L326.1,249.3L326.8,249.3L327.4,249.3L328.0,249.3L328.6,249.3L329.2,249.4L329.9,249.4L330.5,249.5L331.1,249.6L331.7,249.7L332.4,249.8L333.0,249.9L333.6,250.1L334.2,250.3L334.9,250.6L335.5,250.8L336.1,251.1L336.7,251.4L337.3,251.7L338.0,252.1L338.6,252.4L339.2,252.7L339.8,253.0L340.5,253.3L341.1,253.5L341.7,253.7L342.3,253.9L342.9,254.1L343.6,254.2L344.2,254.3L344.8,254.4L345.4,254.5L346.1,254.5L346.7,254.6L347.3,254.6L347.9,254.7L348.6,254.7L349.2,254.7L349.8,254.7L350.4,254.7L351.0,254.8L351.7,254.8L352.3,254.8L352.9,254.8L353.5,254.8L354.2,254.8L354.8,254.8L355.4,254.8L356.0,254.8L356.6,254.8L356.6,254.8Z" fill="url(#hatch)" stroke="none" stroke-width="1"/>
<path d="M302.2,254.8L302.2,254.8L302.8,254.7L303.5,254.7L304.1,254.5L304.8,254.3L305.4,253.8L306.0,253.1L306.7,251.8L307.3,249.8L308.0,247.0L308.6,242.9L309.2,237.3L309.9,230.3L310.5,221.7L311.2,211.9L311.8,201.3L312.4,190.8L313.1,181.1L313.7,173.4L314.4,168.3L315.0,166.6L315.6,168.3L316.3,173.4L316.9,181.1L317.6,190.8L318.2,201.3L318.8,211.9L319.5,221.7L320.1,230.3L320.8,237.3L321.4,242.9L322.0,247.0L322.7,249.8L323.3,251.8L324.0,253.1L324.6,253.8L325.2,254.3L325.9,254.5L326.5,254.7L327.2,254.7L327.8,254.8L327.8,254.8Z" fill="#bd0000" stroke="none" stroke-width="1"/>
<path d="M318.4,254.8L318.4,254.8L319.3,254.8L320.2,254.8L321.1,254.7L322.0,254.7L322.9,254.6L323.8,254.4L324.7,254.2L325.6,253.8L326.5,253.2L327.4,252.4L328.3,251.2L329.2,249.8L330.1,248.0L331.0,246.0L331.9,243.9L332.8,241.7L333.7,239.8L334.6,238.2L335.5,237.2L336.4,236.8L337.3,237.2L338.2,238.2L339.1,239.8L340.0,241.7L340.9,243.9L341.8,246.0L342.7,248.0L343.6,249.8L344.5,251.2L345.4,252.4L346.3,253.2L347.2,253.8L348.1,254.2L349.0,254.4L349.9,254.6L350.8,254.7L351.7,254.7L352.6,254.8L353.5,254.8L354.4,254.8L354.4,254.8Z" fill="#bd0000" stroke="none" stroke-width="1"/>
<clipPath id="h7"><path d="M302.2,254.8L302.2,254.8L302.8,254.7L303.5,254.7L304.1,254.5L304.8,254.3L305.4,253.8L306.0,253.1L306.7,251.8L307.3,249.8L308.0,247.0L308.6,242.9L309.2,237.3L309.9,230.3L310.5,221.7L311.2,211.9L311.8,201.3L312.4,190.8L313.1,181.1L313.7,173.4L314.4,168.3L315.0,166.6L315.6,168.3L316.3,173.4L316.9,181.1L317.6,190.8L318.2,201.3L318.8,211.9L319.5,221.7L320.1,230.3L320.8,237.3L321.4,242.9L322.0,247.0L322.7,249.8L323.3,251.8L324.0,253.1L324.6,253.8L325.2,254.3L325.9,254.5L326.5,254.7L327.2,254.7L327.8,254.8L327.8,254.8Z M318.4,254.8L318.4,254.8L319.3,254.8L320.2,254.8L321.1,254.7L322.0,254.7L322.9,254.6L323.8,254.4L324.7,254.2L325.6,253.8L326.5,253.2L327.4,252.4L328.3,251.2L329.2,249.8L330.1,248.0L331.0,246.0L331.9,243.9L332.8,241.7L333.7,239.8L334.6,238.2L335.5,237.2L336.4,236.8L337.3,237.2L338.2,238.2L339.1,239.8L340.0,241.7L340.9,243.9L341.8,246.0L342.7,248.0L343.6,249.8L344.5,251.2L345.4,252.4L346.3,253.2L347.2,253.8L348.1,254.2L349.0,254.4L349.9,254.6L350.8,254.7L351.7,254.7L352.6,254.8L353.5,254.8L354.4,254.8L354.4,254.8Z"/></clipPath>
<path d="M300.6,254.8L300.6,254.8L301.2,254.8L301.8,254.8L302.5,254.8L303.1,254.8L303.7,254.8L304.3,254.8L305.0,254.8L305.6,254.8L306.2,254.8L306.8,254.8L307.5,254.8L308.1,254.8L308.7,254.8L309.3,254.8L309.9,254.8L310.6,254.8L311.2,254.7L311.8,254.7L312.4,254.7L313.1,254.6L313.7,254.6L314.3,254.5L314.9,254.3L315.5,254.2L316.2,253.9L316.8,253.6L317.4,253.3L318.0,252.8L318.7,252.4L319.3,251.9L319.9,251.4L320.5,250.9L321.2,250.5L321.8,250.2L322.4,249.9L323.0,249.7L323.6,249.5L324.3,249.4L324.9,249.4L325.5,249.3L326.1,249.3L326.8,249.3L327.4,249.3L328.0,249.3L328.6,249.3L329.2,249.4L329.9,249.4L330.5,249.5L331.1,249.6L331.7,249.7L332.4,249.8L333.0,249.9L333.6,250.1L334.2,250.3L334.9,250.6L335.5,250.8L336.1,251.1L336.7,251.4L337.3,251.7L338.0,252.1L338.6,252.4L339.2,252.7L339.8,253.0L340.5,253.3L341.1,253.5L341.7,253.7L342.3,253.9L342.9,254.1L343.6,254.2L344.2,254.3L344.8,254.4L345.4,254.5L346.1,254.5L346.7,254.6L347.3,254.6L347.9,254.7L348.6,254.7L349.2,254.7L349.8,254.7L350.4,254.7L351.0,254.8L351.7,254.8L352.3,254.8L352.9,254.8L353.5,254.8L354.2,254.8L354.8,254.8L355.4,254.8L356.0,254.8L356.6,254.8L356.6,254.8Z" fill="#3a0010" fill-opacity="0.22" clip-path="url(#h7)"/>
<path d="M302.2,254.8L302.2,254.8L302.8,254.7L303.5,254.7L304.1,254.5L304.8,254.3L305.4,253.8L306.0,253.1L306.7,251.8L307.3,249.8L308.0,247.0L308.6,242.9L309.2,237.3L309.9,230.3L310.5,221.7L311.2,211.9L311.8,201.3L312.4,190.8L313.1,181.1L313.7,173.4L314.4,168.3L315.0,166.6L315.6,168.3L316.3,173.4L316.9,181.1L317.6,190.8L318.2,201.3L318.8,211.9L319.5,221.7L320.1,230.3L320.8,237.3L321.4,242.9L322.0,247.0L322.7,249.8L323.3,251.8L324.0,253.1L324.6,253.8L325.2,254.3L325.9,254.5L326.5,254.7L327.2,254.7L327.8,254.8L327.8,254.8Z" fill="none" stroke="#4a0008" stroke-width="0.35"/>
<path d="M318.4,254.8L318.4,254.8L319.3,254.8L320.2,254.8L321.1,254.7L322.0,254.7L322.9,254.6L323.8,254.4L324.7,254.2L325.6,253.8L326.5,253.2L327.4,252.4L328.3,251.2L329.2,249.8L330.1,248.0L331.0,246.0L331.9,243.9L332.8,241.7L333.7,239.8L334.6,238.2L335.5,237.2L336.4,236.8L337.3,237.2L338.2,238.2L339.1,239.8L340.0,241.7L340.9,243.9L341.8,246.0L342.7,248.0L343.6,249.8L344.5,251.2L345.4,252.4L346.3,253.2L347.2,253.8L348.1,254.2L349.0,254.4L349.9,254.6L350.8,254.7L351.7,254.7L352.6,254.8L353.5,254.8L354.4,254.8L354.4,254.8Z" fill="none" stroke="#4a0008" stroke-width="0.35"/>
<path d="M300.6,254.8L301.2,254.8L301.8,254.8L302.5,254.8L303.1,254.8L303.7,254.8L304.3,254.8L305.0,254.8L305.6,254.8L306.2,254.8L306.8,254.8L307.5,254.8L308.1,254.8L308.7,254.8L309.3,254.8L309.9,254.8L310.6,254.8L311.2,254.7L311.8,254.7L312.4,254.7L313.1,254.6L313.7,254.6L314.3,254.5L314.9,254.3L315.5,254.2L316.2,253.9L316.8,253.6L317.4,253.3L318.0,252.8L318.7,252.4L319.3,251.9L319.9,251.4L320.5,250.9L321.2,250.5L321.8,250.2L322.4,249.9L323.0,249.7L323.6,249.5L324.3,249.4L324.9,249.4L325.5,249.3L326.1,249.3L326.8,249.3L327.4,249.3L328.0,249.3L328.6,249.3L329.2,249.4L329.9,249.4L330.5,249.5L331.1,249.6L331.7,249.7L332.4,249.8L333.0,249.9L333.6,250.1L334.2,250.3L334.9,250.6L335.5,250.8L336.1,251.1L336.7,251.4L337.3,251.7L338.0,252.1L338.6,252.4L339.2,252.7L339.8,253.0L340.5,253.3L341.1,253.5L341.7,253.7L342.3,253.9L342.9,254.1L343.6,254.2L344.2,254.3L344.8,254.4L345.4,254.5L346.1,254.5L346.7,254.6L347.3,254.6L347.9,254.7L348.6,254.7L349.2,254.7L349.8,254.7L350.4,254.7L351.0,254.8L351.7,254.8L352.3,254.8L352.9,254.8L353.5,254.8L354.2,254.8L354.8,254.8L355.4,254.8L356.0,254.8L356.6,254.8" fill="none" stroke="#333" stroke-width="0.3" opacity="0.6"/>
<path d="M300.6,254.5L301.2,254.5L301.8,254.5L302.5,254.5L303.1,254.5L303.7,254.5L304.3,254.5L305.0,254.2L305.6,253.6L306.2,252.8L306.8,251.4L307.5,249.3L308.1,246.3L308.7,242.1L309.3,236.6L309.9,229.5L310.6,221.0L311.2,211.3L311.8,200.9L312.4,190.3L313.1,180.3L313.7,171.9L314.3,166.1L314.9,163.7L315.5,165.2L316.2,170.2L316.8,178.1L317.4,186.9L318.0,196.6L318.7,206.5L319.3,215.8L319.9,224.1L320.5,231.1L321.2,236.6L321.8,240.8L322.4,243.8L323.0,245.9L323.6,247.2L324.3,248.1L324.9,248.6L325.5,248.9L326.1,249.0L326.8,249.0L327.4,249.0L328.0,249.0L328.6,249.0L329.2,249.1L329.9,248.4L330.5,247.1L331.1,245.6L331.7,244.0L332.4,242.4L333.0,240.9L333.6,239.4L334.2,238.1L334.9,237.1L335.5,236.4L336.1,236.0L336.7,236.0L337.3,236.4L338.0,237.2L338.6,238.2L339.2,239.5L339.8,240.9L340.5,242.5L341.1,244.1L341.7,245.6L342.3,247.1L342.9,248.5L343.6,249.7L344.2,250.7L344.8,251.6L345.4,252.4L346.1,253.0L346.7,253.5L347.3,253.8L347.9,254.1L348.6,254.3L349.2,254.4L349.8,254.4L350.4,254.4L351.0,254.5L351.7,254.5L352.3,254.5L352.9,254.5L353.5,254.5L354.2,254.5L354.8,254.5L355.4,254.5L356.0,254.5L356.6,254.5" fill="none" stroke="#222" stroke-width="0.45"/>
<line x1="288.40" y1="159.90" x2="288.40" y2="254.80" stroke="#111" stroke-width="0.9"/>
<line x1="288.40" y1="254.80" x2="383.50" y2="254.80" stroke="#111" stroke-width="0.9"/>
<path d="M285.8,254.8H288.4M286.8,251.4H288.4M286.8,248.0H288.4M286.8,244.6H288.4M285.8,241.2H288.4M286.8,237.9H288.4M286.8,234.5H288.4M286.8,231.1H288.4M285.8,227.7H288.4M286.8,224.3H288.4M286.8,220.9H288.4M286.8,217.5H288.4M285.8,214.1H288.4M286.8,210.7H288.4M286.8,207.4H288.4M286.8,204.0H288.4M285.8,200.6H288.4M286.8,197.2H288.4M286.8,193.8H288.4M286.8,190.4H288.4M285.8,187.0H288.4M286.8,183.6H288.4M286.8,180.2H288.4M286.8,176.8H288.4M285.8,173.5H288.4M286.8,170.1H288.4M286.8,166.7H288.4M286.8,163.3H288.4M285.8,159.9H288.4M288.4,254.8V257.4M290.8,254.8V256.4M293.2,254.8V256.4M295.5,254.8V256.4M297.9,254.8V256.4M300.3,254.8V256.4M302.7,254.8V256.4M305.0,254.8V256.4M307.4,254.8V256.4M309.8,254.8V256.4M312.2,254.8V257.4M314.6,254.8V256.4M316.9,254.8V256.4M319.3,254.8V256.4M321.7,254.8V256.4M324.1,254.8V256.4M326.4,254.8V256.4M328.8,254.8V256.4M331.2,254.8V256.4M333.6,254.8V256.4M335.9,254.8V257.4M338.3,254.8V256.4M340.7,254.8V256.4M343.1,254.8V256.4M345.5,254.8V256.4M347.8,254.8V256.4M350.2,254.8V256.4M352.6,254.8V256.4M355.0,254.8V256.4M357.3,254.8V256.4M359.7,254.8V257.4M362.1,254.8V256.4M364.5,254.8V256.4M366.9,254.8V256.4M369.2,254.8V256.4M371.6,254.8V256.4M374.0,254.8V256.4M376.4,254.8V256.4M378.7,254.8V256.4M381.1,254.8V256.4M383.5,254.8V257.4" fill="none" stroke="#111" stroke-width="0.7"/>
<text class="sf" x="288.40" y="263.60" font-size="4.0" fill="#111" text-anchor="middle">0</text>
<text class="sf" x="312.17" y="263.60" font-size="4.0" fill="#111" text-anchor="middle">50</text>
<text class="sf" x="335.95" y="263.60" font-size="4.0" fill="#111" text-anchor="middle">100</text>
<text class="sf" x="359.73" y="263.60" font-size="4.0" fill="#111" text-anchor="middle">150</text>
<text class="sf" x="383.50" y="263.60" font-size="4.0" fill="#111" text-anchor="middle">200</text>
<text class="sf" x="284.20" y="254.80" font-size="3.6" fill="#222" text-anchor="middle" transform="rotate(-90 284.20 254.80)">0</text>
<text class="sf" x="284.20" y="241.24" font-size="3.6" fill="#222" text-anchor="middle" transform="rotate(-90 284.20 241.24)">200</text>
<text class="sf" x="284.20" y="227.69" font-size="3.6" fill="#222" text-anchor="middle" transform="rotate(-90 284.20 227.69)">400</text>
<text class="sf" x="284.20" y="214.13" font-size="3.6" fill="#222" text-anchor="middle" transform="rotate(-90 284.20 214.13)">600</text>
<text class="sf" x="284.20" y="200.57" font-size="3.6" fill="#222" text-anchor="middle" transform="rotate(-90 284.20 200.57)">800</text>
<text class="sf" x="284.20" y="187.01" font-size="3.6" fill="#222" text-anchor="middle" transform="rotate(-90 284.20 187.01)">1000</text>
<text class="sf" x="284.20" y="173.46" font-size="3.6" fill="#222" text-anchor="middle" transform="rotate(-90 284.20 173.46)">1200</text>
<text class="sf" x="284.20" y="159.90" font-size="3.6" fill="#222" text-anchor="middle" transform="rotate(-90 284.20 159.90)">1400</text>
<path d="M313.30,255.20 L316.70,255.20 L315.00,251.80 Z" fill="#000" stroke="none" stroke-width="1"/>
<path d="M334.70,255.20 L338.10,255.20 L336.40,251.80 Z" fill="#000" stroke="none" stroke-width="1"/>
<text class="sf" x="276.19" y="207.40" font-size="4.5" fill="#222" font-weight="bold" text-anchor="middle" transform="rotate(-90 276.19 207.40)">Number</text>
<text class="sf" x="336.40" y="268.50" font-size="3.5" fill="#222" font-weight="bold" text-anchor="middle">PI</text>
<text class="ss" x="334.10" y="177.00" font-size="6.7" fill="#000">G0/G1:78.66%</text>
<text class="ss" x="334.10" y="187.40" font-size="6.7" fill="#000">S:9.29%</text>
<text class="ss" x="334.10" y="197.90" font-size="6.7" fill="#000">G2/M:12.05%</text>
<text class="ss" x="335.70" y="159.50" font-size="14.5" fill="#6b6b6b" text-anchor="middle">1.0 μM</text>
<path d="M421.6,255.2L421.6,255.2L422.3,255.2L422.9,255.2L423.6,255.2L424.3,255.2L424.9,255.2L425.6,255.2L426.3,255.2L426.9,255.2L427.6,255.2L428.2,255.2L428.9,255.2L429.6,255.2L430.2,255.2L430.9,255.2L431.6,255.1L432.2,255.1L432.9,255.1L433.6,255.0L434.2,255.0L434.9,254.9L435.6,254.7L436.2,254.5L436.9,254.2L437.6,253.8L438.2,253.2L438.9,252.5L439.6,251.6L440.2,250.5L440.9,249.4L441.6,248.3L442.2,247.3L442.9,246.6L443.5,246.1L444.2,245.9L444.9,245.9L445.5,246.1L446.2,246.5L446.9,246.8L447.5,247.2L448.2,247.5L448.9,247.7L449.5,247.9L450.2,248.1L450.9,248.2L451.5,248.3L452.2,248.3L452.9,248.4L453.5,248.4L454.2,248.5L454.9,248.6L455.5,248.7L456.2,248.8L456.8,249.0L457.5,249.1L458.2,249.4L458.8,249.6L459.5,249.9L460.2,250.3L460.8,250.6L461.5,251.0L462.2,251.5L462.8,251.9L463.5,252.3L464.2,252.7L464.8,253.1L465.5,253.4L466.2,253.7L466.8,254.0L467.5,254.2L468.1,254.4L468.8,254.6L469.5,254.7L470.1,254.8L470.8,254.9L471.5,255.0L472.1,255.0L472.8,255.0L473.5,255.1L474.1,255.1L474.8,255.1L475.5,255.1L476.1,255.2L476.8,255.2L477.5,255.2L478.1,255.2L478.8,255.2L479.5,255.2L480.1,255.2L480.8,255.2L481.4,255.2L481.4,255.2Z" fill="#e3e5f3" stroke="none" stroke-width="1"/>
<path d="M421.6,255.2L421.6,255.2L422.3,255.2L422.9,255.2L423.6,255.2L424.3,255.2L424.9,255.2L425.6,255.2L426.3,255.2L426.9,255.2L427.6,255.2L428.2,255.2L428.9,255.2L429.6,255.2L430.2,255.2L430.9,255.2L431.6,255.1L432.2,255.1L432.9,255.1L433.6,255.0L434.2,255.0L434.9,254.9L435.6,254.7L436.2,254.5L436.9,254.2L437.6,253.8L438.2,253.2L438.9,252.5L439.6,251.6L440.2,250.5L440.9,249.4L441.6,248.3L442.2,247.3L442.9,246.6L443.5,246.1L444.2,245.9L444.9,245.9L445.5,246.1L446.2,246.5L446.9,246.8L447.5,247.2L448.2,247.5L448.9,247.7L449.5,247.9L450.2,248.1L450.9,248.2L451.5,248.3L452.2,248.3L452.9,248.4L453.5,248.4L454.2,248.5L454.9,248.6L455.5,248.7L456.2,248.8L456.8,249.0L457.5,249.1L458.2,249.4L458.8,249.6L459.5,249.9L460.2,250.3L460.8,250.6L461.5,251.0L462.2,251.5L462.8,251.9L463.5,252.3L464.2,252.7L464.8,253.1L465.5,253.4L466.2,253.7L466.8,254.0L467.5,254.2L468.1,254.4L468.8,254.6L469.5,254.7L470.1,254.8L470.8,254.9L471.5,255.0L472.1,255.0L472.8,255.0L473.5,255.1L474.1,255.1L474.8,255.1L475.5,255.1L476.1,255.2L476.8,255.2L477.5,255.2L478.1,255.2L478.8,255.2L479.5,255.2L480.1,255.2L480.8,255.2L481.4,255.2L481.4,255.2Z" fill="url(#hatch)" stroke="none" stroke-width="1"/>
<path d="M423.2,255.2L423.2,255.2L423.8,255.1L424.5,255.1L425.1,254.9L425.8,254.7L426.4,254.2L427.0,253.4L427.7,252.2L428.3,250.2L429.0,247.3L429.6,243.2L430.2,237.7L430.9,230.6L431.5,221.9L432.2,212.1L432.8,201.5L433.4,190.9L434.1,181.2L434.7,173.4L435.4,168.4L436.0,166.6L436.6,168.4L437.3,173.4L437.9,181.2L438.6,190.9L439.2,201.5L439.8,212.1L440.5,221.9L441.1,230.6L441.8,237.7L442.4,243.2L443.0,247.3L443.7,250.2L444.3,252.2L445.0,253.4L445.6,254.2L446.2,254.7L446.9,254.9L447.5,255.1L448.2,255.1L448.8,255.2L448.8,255.2Z" fill="#bd0000" stroke="none" stroke-width="1"/>
<path d="M443.2,255.2L443.2,255.2L444.1,255.2L445.0,255.2L445.9,255.2L446.8,255.1L447.7,255.0L448.6,254.9L449.5,254.7L450.4,254.4L451.3,253.9L452.2,253.2L453.1,252.3L454.0,251.1L454.9,249.7L455.8,248.1L456.7,246.3L457.6,244.6L458.5,243.0L459.4,241.7L460.3,240.9L461.2,240.6L462.1,240.9L463.0,241.7L463.9,243.0L464.8,244.6L465.7,246.3L466.6,248.1L467.5,249.7L468.4,251.1L469.3,252.3L470.2,253.2L471.1,253.9L472.0,254.4L472.9,254.7L473.8,254.9L474.7,255.0L475.6,255.1L476.5,255.2L477.4,255.2L478.3,255.2L479.2,255.2L479.2,255.2Z" fill="#bd0000" stroke="none" stroke-width="1"/>
<clipPath id="h8"><path d="M423.2,255.2L423.2,255.2L423.8,255.1L424.5,255.1L425.1,254.9L425.8,254.7L426.4,254.2L427.0,253.4L427.7,252.2L428.3,250.2L429.0,247.3L429.6,243.2L430.2,237.7L430.9,230.6L431.5,221.9L432.2,212.1L432.8,201.5L433.4,190.9L434.1,181.2L434.7,173.4L435.4,168.4L436.0,166.6L436.6,168.4L437.3,173.4L437.9,181.2L438.6,190.9L439.2,201.5L439.8,212.1L440.5,221.9L441.1,230.6L441.8,237.7L442.4,243.2L443.0,247.3L443.7,250.2L444.3,252.2L445.0,253.4L445.6,254.2L446.2,254.7L446.9,254.9L447.5,255.1L448.2,255.1L448.8,255.2L448.8,255.2Z M443.2,255.2L443.2,255.2L444.1,255.2L445.0,255.2L445.9,255.2L446.8,255.1L447.7,255.0L448.6,254.9L449.5,254.7L450.4,254.4L451.3,253.9L452.2,253.2L453.1,252.3L454.0,251.1L454.9,249.7L455.8,248.1L456.7,246.3L457.6,244.6L458.5,243.0L459.4,241.7L460.3,240.9L461.2,240.6L462.1,240.9L463.0,241.7L463.9,243.0L464.8,244.6L465.7,246.3L466.6,248.1L467.5,249.7L468.4,251.1L469.3,252.3L470.2,253.2L471.1,253.9L472.0,254.4L472.9,254.7L473.8,254.9L474.7,255.0L475.6,255.1L476.5,255.2L477.4,255.2L478.3,255.2L479.2,255.2L479.2,255.2Z"/></clipPath>
<path d="M421.6,255.2L421.6,255.2L422.3,255.2L422.9,255.2L423.6,255.2L424.3,255.2L424.9,255.2L425.6,255.2L426.3,255.2L426.9,255.2L427.6,255.2L428.2,255.2L428.9,255.2L429.6,255.2L430.2,255.2L430.9,255.2L431.6,255.1L432.2,255.1L432.9,255.1L433.6,255.0L434.2,255.0L434.9,254.9L435.6,254.7L436.2,254.5L436.9,254.2L437.6,253.8L438.2,253.2L438.9,252.5L439.6,251.6L440.2,250.5L440.9,249.4L441.6,248.3L442.2,247.3L442.9,246.6L443.5,246.1L444.2,245.9L444.9,245.9L445.5,246.1L446.2,246.5L446.9,246.8L447.5,247.2L448.2,247.5L448.9,247.7L449.5,247.9L450.2,248.1L450.9,248.2L451.5,248.3L452.2,248.3L452.9,248.4L453.5,248.4L454.2,248.5L454.9,248.6L455.5,248.7L456.2,248.8L456.8,249.0L457.5,249.1L458.2,249.4L458.8,249.6L459.5,249.9L460.2,250.3L460.8,250.6L461.5,251.0L462.2,251.5L462.8,251.9L463.5,252.3L464.2,252.7L464.8,253.1L465.5,253.4L466.2,253.7L466.8,254.0L467.5,254.2L468.1,254.4L468.8,254.6L469.5,254.7L470.1,254.8L470.8,254.9L471.5,255.0L472.1,255.0L472.8,255.0L473.5,255.1L474.1,255.1L474.8,255.1L475.5,255.1L476.1,255.2L476.8,255.2L477.5,255.2L478.1,255.2L478.8,255.2L479.5,255.2L480.1,255.2L480.8,255.2L481.4,255.2L481.4,255.2Z" fill="#3a0010" fill-opacity="0.22" clip-path="url(#h8)"/>
<path d="M423.2,255.2L423.2,255.2L423.8,255.1L424.5,255.1L425.1,254.9L425.8,254.7L426.4,254.2L427.0,253.4L427.7,252.2L428.3,250.2L429.0,247.3L429.6,243.2L430.2,237.7L430.9,230.6L431.5,221.9L432.2,212.1L432.8,201.5L433.4,190.9L434.1,181.2L434.7,173.4L435.4,168.4L436.0,166.6L436.6,168.4L437.3,173.4L437.9,181.2L438.6,190.9L439.2,201.5L439.8,212.1L440.5,221.9L441.1,230.6L441.8,237.7L442.4,243.2L443.0,247.3L443.7,250.2L444.3,252.2L445.0,253.4L445.6,254.2L446.2,254.7L446.9,254.9L447.5,255.1L448.2,255.1L448.8,255.2L448.8,255.2Z" fill="none" stroke="#4a0008" stroke-width="0.35"/>
<path d="M443.2,255.2L443.2,255.2L444.1,255.2L445.0,255.2L445.9,255.2L446.8,255.1L447.7,255.0L448.6,254.9L449.5,254.7L450.4,254.4L451.3,253.9L452.2,253.2L453.1,252.3L454.0,251.1L454.9,249.7L455.8,248.1L456.7,246.3L457.6,244.6L458.5,243.0L459.4,241.7L460.3,240.9L461.2,240.6L462.1,240.9L463.0,241.7L463.9,243.0L464.8,244.6L465.7,246.3L466.6,248.1L467.5,249.7L468.4,251.1L469.3,252.3L470.2,253.2L471.1,253.9L472.0,254.4L472.9,254.7L473.8,254.9L474.7,255.0L475.6,255.1L476.5,255.2L477.4,255.2L478.3,255.2L479.2,255.2L479.2,255.2Z" fill="none" stroke="#4a0008" stroke-width="0.35"/>
<path d="M421.6,255.2L422.3,255.2L422.9,255.2L423.6,255.2L424.3,255.2L424.9,255.2L425.6,255.2L426.3,255.2L426.9,255.2L427.6,255.2L428.2,255.2L428.9,255.2L429.6,255.2L430.2,255.2L430.9,255.2L431.6,255.1L432.2,255.1L432.9,255.1L433.6,255.0L434.2,255.0L434.9,254.9L435.6,254.7L436.2,254.5L436.9,254.2L437.6,253.8L438.2,253.2L438.9,252.5L439.6,251.6L440.2,250.5L440.9,249.4L441.6,248.3L442.2,247.3L442.9,246.6L443.5,246.1L444.2,245.9L444.9,245.9L445.5,246.1L446.2,246.5L446.9,246.8L447.5,247.2L448.2,247.5L448.9,247.7L449.5,247.9L450.2,248.1L450.9,248.2L451.5,248.3L452.2,248.3L452.9,248.4L453.5,248.4L454.2,248.5L454.9,248.6L455.5,248.7L456.2,248.8L456.8,249.0L457.5,249.1L458.2,249.4L458.8,249.6L459.5,249.9L460.2,250.3L460.8,250.6L461.5,251.0L462.2,251.5L462.8,251.9L463.5,252.3L464.2,252.7L464.8,253.1L465.5,253.4L466.2,253.7L466.8,254.0L467.5,254.2L468.1,254.4L468.8,254.6L469.5,254.7L470.1,254.8L470.8,254.9L471.5,255.0L472.1,255.0L472.8,255.0L473.5,255.1L474.1,255.1L474.8,255.1L475.5,255.1L476.1,255.2L476.8,255.2L477.5,255.2L478.1,255.2L478.8,255.2L479.5,255.2L480.1,255.2L480.8,255.2L481.4,255.2" fill="none" stroke="#333" stroke-width="0.3" opacity="0.6"/>
<path d="M421.6,254.9L422.3,254.9L422.9,254.9L423.6,254.9L424.3,254.9L424.9,254.9L425.6,254.8L426.3,254.3L426.9,253.6L427.6,252.4L428.2,250.5L428.9,247.6L429.6,243.4L430.2,237.6L430.9,230.2L431.6,221.1L432.2,210.7L432.9,199.5L433.6,188.2L434.2,178.0L434.9,170.0L435.6,165.2L436.2,164.6L436.9,168.1L437.6,175.1L438.2,183.6L438.9,193.5L439.6,203.8L440.2,213.4L440.9,221.7L441.6,228.6L442.2,233.9L442.9,237.8L443.5,240.6L444.2,242.6L444.9,244.0L445.5,245.1L446.2,245.9L446.9,246.5L447.5,246.9L448.2,247.2L448.9,247.4L449.5,247.6L450.2,247.8L450.9,247.9L451.5,248.0L452.2,248.0L452.9,248.1L453.5,248.1L454.2,248.2L454.9,248.3L455.5,248.4L456.2,247.2L456.8,245.8L457.5,244.5L458.2,243.2L458.8,242.0L459.5,241.1L460.2,240.4L460.8,240.1L461.5,240.0L462.2,240.4L462.8,241.0L463.5,241.9L464.2,243.1L464.8,244.3L465.5,245.7L466.2,247.1L466.8,248.4L467.5,249.6L468.1,250.7L468.8,251.7L469.5,252.5L470.1,253.2L470.8,253.7L471.5,254.1L472.1,254.4L472.8,254.7L473.5,254.8L474.1,254.8L474.8,254.8L475.5,254.8L476.1,254.9L476.8,254.9L477.5,254.9L478.1,254.9L478.8,254.9L479.5,254.9L480.1,254.9L480.8,254.9L481.4,254.9" fill="none" stroke="#222" stroke-width="0.45"/>
<line x1="406.00" y1="159.90" x2="406.00" y2="255.20" stroke="#111" stroke-width="0.9"/>
<line x1="406.00" y1="255.20" x2="499.60" y2="255.20" stroke="#111" stroke-width="0.9"/>
<path d="M403.4,255.2H406.0M404.4,249.9H406.0M404.4,244.6H406.0M404.4,239.3H406.0M404.4,234.0H406.0M403.4,228.7H406.0M404.4,223.4H406.0M404.4,218.1H406.0M404.4,212.8H406.0M404.4,207.6H406.0M403.4,202.3H406.0M404.4,197.0H406.0M404.4,191.7H406.0M404.4,186.4H406.0M404.4,181.1H406.0M403.4,175.8H406.0M404.4,170.5H406.0M404.4,165.2H406.0M404.4,159.9H406.0M406.0,255.2V257.8M408.9,255.2V256.8M411.9,255.2V256.8M414.8,255.2V256.8M417.7,255.2V257.8M420.6,255.2V256.8M423.6,255.2V256.8M426.5,255.2V256.8M429.4,255.2V257.8M432.3,255.2V256.8M435.2,255.2V256.8M438.2,255.2V256.8M441.1,255.2V257.8M444.0,255.2V256.8M446.9,255.2V256.8M449.9,255.2V256.8M452.8,255.2V257.8M455.7,255.2V256.8M458.7,255.2V256.8M461.6,255.2V256.8M464.5,255.2V257.8M467.4,255.2V256.8M470.4,255.2V256.8M473.3,255.2V256.8M476.2,255.2V257.8M479.1,255.2V256.8M482.1,255.2V256.8M485.0,255.2V256.8M487.9,255.2V257.8M490.8,255.2V256.8M493.8,255.2V256.8M496.7,255.2V256.8M499.6,255.2V257.8" fill="none" stroke="#111" stroke-width="0.7"/>
<text class="sf" x="406.00" y="264.00" font-size="4.0" fill="#111" text-anchor="middle">0</text>
<text class="sf" x="417.70" y="264.00" font-size="4.0" fill="#111" text-anchor="middle">20</text>
<text class="sf" x="429.40" y="264.00" font-size="4.0" fill="#111" text-anchor="middle">40</text>
<text class="sf" x="441.10" y="264.00" font-size="4.0" fill="#111" text-anchor="middle">60</text>
<text class="sf" x="452.80" y="264.00" font-size="4.0" fill="#111" text-anchor="middle">80</text>
<text class="sf" x="464.50" y="264.00" font-size="4.0" fill="#111" text-anchor="middle">100</text>
<text class="sf" x="476.20" y="264.00" font-size="4.0" fill="#111" text-anchor="middle">120</text>
<text class="sf" x="487.90" y="264.00" font-size="4.0" fill="#111" text-anchor="middle">140</text>
<text class="sf" x="499.60" y="264.00" font-size="4.0" fill="#111" text-anchor="middle">160</text>
<text class="sf" x="401.80" y="255.20" font-size="3.6" fill="#222" text-anchor="middle" transform="rotate(-90 401.80 255.20)">0</text>
<text class="sf" x="401.80" y="229.20" font-size="3.6" fill="#222" text-anchor="middle" transform="rotate(-90 401.80 229.20)">500</text>
<text class="sf" x="401.80" y="202.60" font-size="3.6" fill="#222" text-anchor="middle" transform="rotate(-90 401.80 202.60)">1000</text>
<text class="sf" x="401.80" y="176.00" font-size="3.6" fill="#222" text-anchor="middle" transform="rotate(-90 401.80 176.00)">1500</text>
<path d="M434.30,255.60 L437.70,255.60 L436.00,252.20 Z" fill="#000" stroke="none" stroke-width="1"/>
<path d="M459.50,255.60 L462.90,255.60 L461.20,252.20 Z" fill="#000" stroke="none" stroke-width="1"/>
<text class="sf" x="391.38" y="207.40" font-size="4.5" fill="#222" font-weight="bold" text-anchor="middle" transform="rotate(-90 391.38 207.40)">Number</text>
<text class="ss" x="451.20" y="177.00" font-size="6.7" fill="#000">G0/G1:78.95%</text>
<text class="ss" x="451.20" y="187.40" font-size="6.7" fill="#000">S:9.6%</text>
<text class="ss" x="451.20" y="198.00" font-size="6.7" fill="#000">G2/M:11.45%</text>
<text class="ss" x="448.75" y="159.90" font-size="14.5" fill="#6b6b6b" text-anchor="middle">2.0 μM</text>
<text class="ss" x="0.00" y="16.60" font-size="24" fill="#000">A</text>
<text class="ss" x="0.40" y="157.00" font-size="23" fill="#000">C</text>
<text class="ss" x="28.50" y="76.30" font-size="16" fill="#636363" font-weight="bold" text-anchor="middle" transform="rotate(-90 28.50 76.30)">LNCaP</text>
<text class="ss" x="29.50" y="211.50" font-size="16.5" fill="#636363" font-weight="bold" text-anchor="middle" transform="rotate(-90 29.50 211.50)">PC3</text>
<!-- bd -->
<text class="ss" x="509.90" y="17.00" font-size="23" fill="#000">B</text>
<rect x="562.15" y="36.20" width="12.50" height="22.72" fill="#fff" stroke="#f7931e" stroke-width="1.9"/>
<rect x="562.15" y="58.92" width="12.50" height="22.18" fill="#fff" stroke="#1f4e79" stroke-width="1.9"/>
<rect x="562.15" y="81.10" width="12.50" height="44.90" fill="#fff" stroke="#808080" stroke-width="1.9"/>
<line x1="568.40" y1="81.10" x2="568.40" y2="80.60" stroke="#808080" stroke-width="1.3"/>
<line x1="565.20" y1="80.60" x2="571.60" y2="80.60" stroke="#808080" stroke-width="1.3"/>
<line x1="568.40" y1="58.92" x2="568.40" y2="58.40" stroke="#1f4e79" stroke-width="1.3"/>
<line x1="565.20" y1="58.40" x2="571.60" y2="58.40" stroke="#1f4e79" stroke-width="1.3"/>
<line x1="568.40" y1="36.20" x2="568.40" y2="35.60" stroke="#f7931e" stroke-width="1.3"/>
<line x1="565.20" y1="35.60" x2="571.60" y2="35.60" stroke="#f7931e" stroke-width="1.3"/>
<rect x="584.95" y="36.20" width="12.50" height="15.00" fill="#fff" stroke="#f7931e" stroke-width="1.9"/>
<rect x="584.95" y="51.20" width="12.50" height="22.72" fill="#fff" stroke="#1f4e79" stroke-width="1.9"/>
<rect x="584.95" y="73.92" width="12.50" height="52.08" fill="#fff" stroke="#808080" stroke-width="1.9"/>
<line x1="591.20" y1="73.92" x2="591.20" y2="73.40" stroke="#808080" stroke-width="1.3"/>
<line x1="588.00" y1="73.40" x2="594.40" y2="73.40" stroke="#808080" stroke-width="1.3"/>
<line x1="591.20" y1="51.20" x2="591.20" y2="47.50" stroke="#1f4e79" stroke-width="1.3"/>
<line x1="588.00" y1="47.50" x2="594.40" y2="47.50" stroke="#1f4e79" stroke-width="1.3"/>
<line x1="591.20" y1="36.20" x2="591.20" y2="32.20" stroke="#f7931e" stroke-width="1.3"/>
<line x1="588.00" y1="32.20" x2="594.40" y2="32.20" stroke="#f7931e" stroke-width="1.3"/>
<rect x="607.65" y="36.20" width="12.50" height="19.31" fill="#fff" stroke="#f7931e" stroke-width="1.9"/>
<rect x="607.65" y="55.51" width="12.50" height="7.63" fill="#fff" stroke="#1f4e79" stroke-width="1.9"/>
<rect x="607.65" y="63.14" width="12.50" height="62.86" fill="#fff" stroke="#808080" stroke-width="1.9"/>
<line x1="613.90" y1="63.14" x2="613.90" y2="62.60" stroke="#808080" stroke-width="1.3"/>
<line x1="610.70" y1="62.60" x2="617.10" y2="62.60" stroke="#808080" stroke-width="1.3"/>
<line x1="613.90" y1="55.51" x2="613.90" y2="54.10" stroke="#1f4e79" stroke-width="1.3"/>
<line x1="610.70" y1="54.10" x2="617.10" y2="54.10" stroke="#1f4e79" stroke-width="1.3"/>
<line x1="613.90" y1="36.20" x2="613.90" y2="34.70" stroke="#f7931e" stroke-width="1.3"/>
<line x1="610.70" y1="34.70" x2="617.10" y2="34.70" stroke="#f7931e" stroke-width="1.3"/>
<rect x="630.95" y="36.20" width="12.60" height="17.96" fill="#fff" stroke="#f7931e" stroke-width="1.9"/>
<rect x="630.95" y="54.16" width="12.60" height="14.10" fill="#fff" stroke="#1f4e79" stroke-width="1.9"/>
<rect x="630.95" y="68.26" width="12.60" height="57.74" fill="#fff" stroke="#808080" stroke-width="1.9"/>
<line x1="637.25" y1="68.26" x2="637.25" y2="66.90" stroke="#808080" stroke-width="1.3"/>
<line x1="634.05" y1="66.90" x2="640.45" y2="66.90" stroke="#808080" stroke-width="1.3"/>
<line x1="637.25" y1="54.16" x2="637.25" y2="50.40" stroke="#1f4e79" stroke-width="1.3"/>
<line x1="634.05" y1="50.40" x2="640.45" y2="50.40" stroke="#1f4e79" stroke-width="1.3"/>
<line x1="637.25" y1="36.20" x2="637.25" y2="34.20" stroke="#f7931e" stroke-width="1.3"/>
<line x1="634.05" y1="34.20" x2="640.45" y2="34.20" stroke="#f7931e" stroke-width="1.3"/>
<line x1="553.20" y1="25.90" x2="553.20" y2="126.90" stroke="#000" stroke-width="1.8"/>
<line x1="552.30" y1="126.00" x2="653.80" y2="126.00" stroke="#000" stroke-width="1.8"/>
<line x1="550.00" y1="126.00" x2="553.20" y2="126.00" stroke="#000" stroke-width="1.6"/>
<text class="ss" x="549.40" y="129.40" font-size="9.6" fill="#000" font-weight="bold" text-anchor="end">0</text>
<line x1="550.00" y1="108.04" x2="553.20" y2="108.04" stroke="#000" stroke-width="1.6"/>
<text class="ss" x="549.40" y="111.44" font-size="9.6" fill="#000" font-weight="bold" text-anchor="end">20</text>
<line x1="550.00" y1="90.08" x2="553.20" y2="90.08" stroke="#000" stroke-width="1.6"/>
<text class="ss" x="549.40" y="93.48" font-size="9.6" fill="#000" font-weight="bold" text-anchor="end">40</text>
<line x1="550.00" y1="72.12" x2="553.20" y2="72.12" stroke="#000" stroke-width="1.6"/>
<text class="ss" x="549.40" y="75.52" font-size="9.6" fill="#000" font-weight="bold" text-anchor="end">60</text>
<line x1="550.00" y1="54.16" x2="553.20" y2="54.16" stroke="#000" stroke-width="1.6"/>
<text class="ss" x="549.40" y="57.56" font-size="9.6" fill="#000" font-weight="bold" text-anchor="end">80</text>
<line x1="550.00" y1="36.20" x2="553.20" y2="36.20" stroke="#000" stroke-width="1.6"/>
<text class="ss" x="549.40" y="39.60" font-size="9.6" fill="#000" font-weight="bold" text-anchor="end">100</text>
<line x1="568.40" y1="126.00" x2="568.40" y2="129.00" stroke="#000" stroke-width="1.4"/>
<text class="ss" x="568.40" y="139.80" font-size="10" fill="#000" font-weight="bold" text-anchor="middle">0</text>
<line x1="591.20" y1="126.00" x2="591.20" y2="129.00" stroke="#000" stroke-width="1.4"/>
<text class="ss" x="591.20" y="139.80" font-size="10" fill="#000" font-weight="bold" text-anchor="middle">0.2</text>
<line x1="613.90" y1="126.00" x2="613.90" y2="129.00" stroke="#000" stroke-width="1.4"/>
<text class="ss" x="613.90" y="139.80" font-size="10" fill="#000" font-weight="bold" text-anchor="middle">0.5</text>
<line x1="637.25" y1="126.00" x2="637.25" y2="129.00" stroke="#000" stroke-width="1.4"/>
<text class="ss" x="637.25" y="139.80" font-size="10" fill="#000" font-weight="bold" text-anchor="middle">1</text>
<rect x="647.60" y="66.90" width="8.60" height="4.60" fill="#fff" stroke="#808080" stroke-width="1.8"/>
<text class="ss" x="662.30" y="72.20" font-size="8.3" fill="#222" font-weight="bold">G0/G1</text>
<rect x="647.60" y="74.60" width="8.60" height="4.60" fill="#fff" stroke="#1f4e79" stroke-width="1.8"/>
<text class="ss" x="662.30" y="79.90" font-size="8.3" fill="#222" font-weight="bold">S</text>
<rect x="647.60" y="82.20" width="8.60" height="4.60" fill="#fff" stroke="#f7931e" stroke-width="1.8"/>
<text class="ss" x="662.30" y="87.50" font-size="8.3" fill="#222" font-weight="bold">G2/M</text>
<text class="ss" x="525.90" y="74.00" font-size="11.8" fill="#000" font-weight="bold" text-anchor="middle" transform="rotate(-90 525.90 74.00)">Percentage (%)</text>
<text class="ss" x="509.90" y="156.90" font-size="23.5" fill="#000">D</text>
<rect x="563.15" y="167.40" width="12.50" height="21.74" fill="#fff" stroke="#f7931e" stroke-width="1.9"/>
<rect x="563.15" y="189.14" width="12.50" height="14.79" fill="#fff" stroke="#1f4e79" stroke-width="1.9"/>
<rect x="563.15" y="203.93" width="12.50" height="52.57" fill="#fff" stroke="#808080" stroke-width="1.9"/>
<line x1="569.40" y1="189.14" x2="569.40" y2="187.50" stroke="#1f4e79" stroke-width="1.3"/>
<line x1="566.20" y1="187.50" x2="572.60" y2="187.50" stroke="#1f4e79" stroke-width="1.3"/>
<line x1="569.40" y1="167.40" x2="569.40" y2="166.30" stroke="#f7931e" stroke-width="1.3"/>
<line x1="566.20" y1="166.30" x2="572.60" y2="166.30" stroke="#f7931e" stroke-width="1.3"/>
<rect x="585.85" y="167.40" width="12.50" height="18.89" fill="#fff" stroke="#f7931e" stroke-width="1.9"/>
<rect x="585.85" y="186.29" width="12.50" height="10.69" fill="#fff" stroke="#1f4e79" stroke-width="1.9"/>
<rect x="585.85" y="196.98" width="12.50" height="59.52" fill="#fff" stroke="#808080" stroke-width="1.9"/>
<line x1="592.10" y1="196.98" x2="592.10" y2="194.00" stroke="#808080" stroke-width="1.3"/>
<line x1="588.90" y1="194.00" x2="595.30" y2="194.00" stroke="#808080" stroke-width="1.3"/>
<line x1="592.10" y1="186.29" x2="592.10" y2="184.30" stroke="#1f4e79" stroke-width="1.3"/>
<line x1="588.90" y1="184.30" x2="595.30" y2="184.30" stroke="#1f4e79" stroke-width="1.3"/>
<line x1="592.10" y1="167.40" x2="592.10" y2="165.20" stroke="#f7931e" stroke-width="1.3"/>
<line x1="588.90" y1="165.20" x2="595.30" y2="165.20" stroke="#f7931e" stroke-width="1.3"/>
<rect x="608.65" y="167.40" width="12.50" height="11.76" fill="#fff" stroke="#f7931e" stroke-width="1.9"/>
<rect x="608.65" y="179.16" width="12.50" height="8.91" fill="#fff" stroke="#1f4e79" stroke-width="1.9"/>
<rect x="608.65" y="188.07" width="12.50" height="68.43" fill="#fff" stroke="#808080" stroke-width="1.9"/>
<line x1="614.90" y1="188.07" x2="614.90" y2="186.40" stroke="#808080" stroke-width="1.3"/>
<line x1="611.70" y1="186.40" x2="618.10" y2="186.40" stroke="#808080" stroke-width="1.3"/>
<line x1="614.90" y1="179.16" x2="614.90" y2="178.20" stroke="#1f4e79" stroke-width="1.3"/>
<line x1="611.70" y1="178.20" x2="618.10" y2="178.20" stroke="#1f4e79" stroke-width="1.3"/>
<line x1="614.90" y1="167.40" x2="614.90" y2="164.40" stroke="#f7931e" stroke-width="1.3"/>
<line x1="611.70" y1="164.40" x2="618.10" y2="164.40" stroke="#f7931e" stroke-width="1.3"/>
<rect x="631.55" y="167.40" width="12.50" height="10.69" fill="#fff" stroke="#f7931e" stroke-width="1.9"/>
<rect x="631.55" y="178.09" width="12.50" height="8.20" fill="#fff" stroke="#1f4e79" stroke-width="1.9"/>
<rect x="631.55" y="186.29" width="12.50" height="70.21" fill="#fff" stroke="#808080" stroke-width="1.9"/>
<line x1="637.80" y1="186.29" x2="637.80" y2="185.00" stroke="#808080" stroke-width="1.3"/>
<line x1="634.60" y1="185.00" x2="641.00" y2="185.00" stroke="#808080" stroke-width="1.3"/>
<line x1="637.80" y1="178.09" x2="637.80" y2="177.50" stroke="#1f4e79" stroke-width="1.3"/>
<line x1="634.60" y1="177.50" x2="641.00" y2="177.50" stroke="#1f4e79" stroke-width="1.3"/>
<line x1="637.80" y1="167.40" x2="637.80" y2="166.10" stroke="#f7931e" stroke-width="1.3"/>
<line x1="634.60" y1="166.10" x2="641.00" y2="166.10" stroke="#f7931e" stroke-width="1.3"/>
<line x1="553.20" y1="157.40" x2="553.20" y2="257.40" stroke="#000" stroke-width="1.8"/>
<line x1="552.30" y1="256.50" x2="653.80" y2="256.50" stroke="#000" stroke-width="1.8"/>
<line x1="550.00" y1="256.50" x2="553.20" y2="256.50" stroke="#000" stroke-width="1.6"/>
<text class="ss" x="549.40" y="259.90" font-size="9.6" fill="#000" font-weight="bold" text-anchor="end">0</text>
<line x1="550.00" y1="238.68" x2="553.20" y2="238.68" stroke="#000" stroke-width="1.6"/>
<text class="ss" x="549.40" y="242.08" font-size="9.6" fill="#000" font-weight="bold" text-anchor="end">20</text>
<line x1="550.00" y1="220.86" x2="553.20" y2="220.86" stroke="#000" stroke-width="1.6"/>
<text class="ss" x="549.40" y="224.26" font-size="9.6" fill="#000" font-weight="bold" text-anchor="end">40</text>
<line x1="550.00" y1="203.04" x2="553.20" y2="203.04" stroke="#000" stroke-width="1.6"/>
<text class="ss" x="549.40" y="206.44" font-size="9.6" fill="#000" font-weight="bold" text-anchor="end">60</text>
<line x1="550.00" y1="185.22" x2="553.20" y2="185.22" stroke="#000" stroke-width="1.6"/>
<text class="ss" x="549.40" y="188.62" font-size="9.6" fill="#000" font-weight="bold" text-anchor="end">80</text>
<line x1="550.00" y1="167.40" x2="553.20" y2="167.40" stroke="#000" stroke-width="1.6"/>
<text class="ss" x="549.40" y="170.80" font-size="9.6" fill="#000" font-weight="bold" text-anchor="end">100</text>
<line x1="569.40" y1="256.50" x2="569.40" y2="259.50" stroke="#000" stroke-width="1.4"/>
<text class="ss" x="569.40" y="270.70" font-size="10" fill="#000" font-weight="bold" text-anchor="middle">0</text>
<line x1="592.10" y1="256.50" x2="592.10" y2="259.50" stroke="#000" stroke-width="1.4"/>
<text class="ss" x="592.10" y="270.70" font-size="10" fill="#000" font-weight="bold" text-anchor="middle">0.5</text>
<line x1="614.90" y1="256.50" x2="614.90" y2="259.50" stroke="#000" stroke-width="1.4"/>
<text class="ss" x="614.90" y="270.70" font-size="10" fill="#000" font-weight="bold" text-anchor="middle">1</text>
<line x1="637.80" y1="256.50" x2="637.80" y2="259.50" stroke="#000" stroke-width="1.4"/>
<text class="ss" x="637.80" y="270.70" font-size="10" fill="#000" font-weight="bold" text-anchor="middle">2</text>
<rect x="647.60" y="201.30" width="8.60" height="4.60" fill="#fff" stroke="#808080" stroke-width="1.8"/>
<text class="ss" x="662.30" y="206.60" font-size="8.3" fill="#222" font-weight="bold">G0/G1</text>
<rect x="647.60" y="209.70" width="8.60" height="4.60" fill="#fff" stroke="#1f4e79" stroke-width="1.8"/>
<text class="ss" x="662.30" y="215.00" font-size="8.3" fill="#222" font-weight="bold">S</text>
<rect x="647.60" y="218.20" width="8.60" height="4.60" fill="#fff" stroke="#f7931e" stroke-width="1.8"/>
<text class="ss" x="662.30" y="223.50" font-size="8.3" fill="#222" font-weight="bold">G2/M</text>
<text class="ss" x="525.90" y="206.00" font-size="11.8" fill="#000" font-weight="bold" text-anchor="middle" transform="rotate(-90 525.90 206.00)">Percentage (%)</text>
<!-- e -->
<text class="ss" x="0.35" y="307.40" font-size="23" fill="#000">E</text>
<rect x="116.60" y="299.30" width="97.90" height="213.60" fill="#fff" stroke="none" stroke-width="1"/>
<path d="M116.6,314.3H214.5M116.6,341.3H214.5M116.6,367.2H214.5M116.6,393.5H214.5M116.6,419.7H214.5M116.6,445.9H214.5M116.6,471.9H214.5M116.6,498.2H214.5M121.6,299.3V512.9M146.2,299.3V512.9M169.5,299.3V512.9M193.1,299.3V512.9" fill="none" stroke="#e6e6e6" stroke-width="0.6"/>
<path d="M133.9,299.3V512.9M157.6,299.3V512.9M181.2,299.3V512.9M204.9,299.3V512.9" fill="none" stroke="#f2f2f2" stroke-width="0.4"/>
<rect x="116.60" y="299.30" width="97.90" height="213.60" fill="none" stroke="#b5b5b5" stroke-width="0.8"/>
<path d="M114.6,314.3H116.6M114.6,341.3H116.6M114.6,367.2H116.6M114.6,393.5H116.6M114.6,419.7H116.6M114.6,445.9H116.6M114.6,471.9H116.6M114.6,498.2H116.6M121.6,512.9V514.9M146.2,512.9V514.9M169.5,512.9V514.9M193.1,512.9V514.9" fill="none" stroke="#999" stroke-width="0.6"/>
<text class="ss" x="121.60" y="518.20" font-size="3.6" fill="#666" text-anchor="middle">2.0</text>
<text class="ss" x="146.20" y="518.20" font-size="3.6" fill="#666" text-anchor="middle">2.5</text>
<text class="ss" x="169.50" y="518.20" font-size="3.6" fill="#666" text-anchor="middle">3.0</text>
<text class="ss" x="193.10" y="518.20" font-size="3.6" fill="#666" text-anchor="middle">3.5</text>
<text class="ss" x="109.20" y="313.00" font-size="10.5" fill="#555" text-anchor="end">Steroid</text>
<text class="ss" x="109.20" y="323.20" font-size="10.5" fill="#555" text-anchor="end">biosythesis</text>
<text class="ss" x="109.20" y="341.40" font-size="10.5" fill="#555" text-anchor="end">β-Alanine</text>
<text class="ss" x="109.20" y="351.60" font-size="10.5" fill="#555" text-anchor="end">metabolism</text>
<text class="ss" x="109.20" y="369.10" font-size="10.5" fill="#555" text-anchor="end">Glycine, threonine &amp; </text>
<text class="ss" x="109.20" y="379.60" font-size="10.5" fill="#555" text-anchor="end">serine metabolism</text>
<text class="ss" x="109.20" y="397.10" font-size="10.5" fill="#555" text-anchor="end">Ferroptosis</text>
<text class="ss" x="109.20" y="414.90" font-size="10.5" fill="#555" text-anchor="end">Sphingolipid</text>
<text class="ss" x="109.20" y="425.40" font-size="10.5" fill="#555" text-anchor="end">metabolism</text>
<text class="ss" x="109.20" y="443.40" font-size="10.5" fill="#555" text-anchor="end">p53 signaling</text>
<text class="ss" x="109.20" y="453.40" font-size="10.5" fill="#555" text-anchor="end">pathway</text>
<text class="ss" x="109.20" y="471.80" font-size="10.5" fill="#555" text-anchor="end">Biosythesis of</text>
<text class="ss" x="109.20" y="482.00" font-size="10.5" fill="#555" text-anchor="end">amino acids</text>
<text class="ss" x="109.20" y="500.20" font-size="10.5" fill="#555" text-anchor="end">Insulin</text>
<text class="ss" x="109.20" y="510.40" font-size="10.5" fill="#555" text-anchor="end">secretion</text>
<circle cx="209.5" cy="314.3" r="1.0" fill="#e03030"/>
<circle cx="156.0" cy="341.3" r="1.5" fill="#8a2542"/>
<circle cx="152.0" cy="367.2" r="2.1" fill="#a82a3e"/>
<circle cx="149.0" cy="393.5" r="2.1" fill="#a82a3e"/>
<circle cx="138.4" cy="419.7" r="2.6" fill="#b02f42"/>
<circle cx="130.8" cy="445.9" r="2.9" fill="#b02f45"/>
<circle cx="120.4" cy="471.9" r="2.6" fill="#1f3f8a"/>
<circle cx="120.4" cy="498.2" r="2.8" fill="#7f2f55"/>
<text class="ss" x="164.60" y="527.20" font-size="10.6" fill="#555" text-anchor="middle">Fold enhancement</text>
<text class="ss" x="222.90" y="360.40" font-size="6.9" fill="#333">p.adjust</text>
<linearGradient id="padj" x1="0" y1="0" x2="0" y2="1"><stop offset="0" stop-color="#c8303a"/><stop offset="0.5" stop-color="#7a2e62"/><stop offset="1" stop-color="#263f95"/></linearGradient>
<rect x="223.60" y="364.00" width="10.00" height="51.00" fill="url(#padj)" stroke="none" stroke-width="1"/>
<line x1="223.60" y1="366.60" x2="225.20" y2="366.60" stroke="#fff" stroke-width="0.5"/>
<line x1="232.00" y1="366.60" x2="233.60" y2="366.60" stroke="#fff" stroke-width="0.5"/>
<text class="ss" x="237.00" y="368.60" font-size="5.3" fill="#333">0.01</text>
<line x1="223.60" y1="376.70" x2="225.20" y2="376.70" stroke="#fff" stroke-width="0.5"/>
<line x1="232.00" y1="376.70" x2="233.60" y2="376.70" stroke="#fff" stroke-width="0.5"/>
<text class="ss" x="237.00" y="378.70" font-size="5.3" fill="#333">0.02</text>
<line x1="223.60" y1="386.40" x2="225.20" y2="386.40" stroke="#fff" stroke-width="0.5"/>
<line x1="232.00" y1="386.40" x2="233.60" y2="386.40" stroke="#fff" stroke-width="0.5"/>
<text class="ss" x="237.00" y="388.40" font-size="5.3" fill="#333">0.03</text>
<line x1="223.60" y1="396.50" x2="225.20" y2="396.50" stroke="#fff" stroke-width="0.5"/>
<line x1="232.00" y1="396.50" x2="233.60" y2="396.50" stroke="#fff" stroke-width="0.5"/>
<text class="ss" x="237.00" y="398.50" font-size="5.3" fill="#333">0.04</text>
<line x1="223.60" y1="406.30" x2="225.20" y2="406.30" stroke="#fff" stroke-width="0.5"/>
<line x1="232.00" y1="406.30" x2="233.60" y2="406.30" stroke="#fff" stroke-width="0.5"/>
<text class="ss" x="237.00" y="408.30" font-size="5.3" fill="#333">0.05</text>
<text class="ss" x="222.90" y="433.80" font-size="6.9" fill="#333">Count</text>
<circle cx="228.3" cy="443.9" r="2.8" fill="#000"/>
<circle cx="228.3" cy="454" r="3.7" fill="#000"/>
<text class="ss" x="237.00" y="445.80" font-size="5.3" fill="#333">15</text>
<text class="ss" x="237.00" y="455.90" font-size="5.3" fill="#333">20</text>
<!-- f -->
<text class="ss" x="249.00" y="307.20" font-size="23.5" fill="#000">F</text>
<rect x="274.25" y="301.65" width="125.10" height="99.10" fill="#fff" stroke="#1a1a1a" stroke-width="1.5"/>
<path d="M310.0,309.7V349.8M310.0,364.5V390.9M332.9,309.7V349.8M332.9,364.5V390.9M355.7,309.7V349.8M355.7,364.5V390.9M378.5,309.7V349.8M378.5,364.5V390.9M298.6,309.7V349.8M298.6,364.5V390.9M321.4,309.7V349.8M321.4,364.5V390.9M344.3,309.7V349.8M344.3,364.5V390.9M367.1,309.7V349.8M367.1,364.5V390.9M389.9,309.7V349.8M389.9,364.5V390.9" fill="none" stroke="#ededed" stroke-width="0.5"/>
<path d="M287.2,320.6H396.8M287.2,330.5H396.8M287.2,340.4H396.8" fill="none" stroke="#efefef" stroke-width="0.4"/>
<line x1="287.20" y1="309.70" x2="287.20" y2="349.80" stroke="#555" stroke-width="0.5"/>
<line x1="287.20" y1="364.50" x2="287.20" y2="390.90" stroke="#555" stroke-width="0.5"/>
<line x1="287.20" y1="390.90" x2="396.80" y2="390.90" stroke="#555" stroke-width="0.5"/>
<path d="M287.2,318.3L288.1,315.0L289.0,313.6L289.9,314.1L290.9,313.2L291.8,311.8L292.7,311.1L293.6,312.3L294.5,312.5L295.4,313.0L296.3,313.9L297.2,313.9L298.2,314.5L299.1,314.4L300.0,314.6L300.9,313.2L301.8,314.0L302.7,315.0L303.6,315.3L304.6,315.9L305.5,316.3L306.4,316.3L307.3,317.2L308.2,317.5L309.1,317.7L310.0,318.0L310.9,319.0L311.9,319.2L312.8,319.8L313.7,320.3L314.6,320.6L315.5,321.2L316.4,321.2L317.3,322.0L318.3,322.1L319.2,322.9L320.1,323.3L321.0,323.1L321.9,323.6L322.8,324.0L323.7,324.9L324.6,324.9L325.6,325.5L326.5,325.6L327.4,326.1L328.3,326.4L329.2,326.8L330.1,327.4L331.0,327.8L332.0,328.4L332.9,328.6L333.8,329.2L334.7,329.5L335.6,330.0L336.5,330.1L337.4,330.2L338.3,331.0L339.3,331.5L340.2,331.9L341.1,332.1L342.0,332.6L342.9,332.8L343.8,333.6L344.7,333.9L345.7,334.2L346.6,334.5L347.5,335.5L348.4,336.0L349.3,335.9L350.2,336.8L351.1,337.0L352.0,337.3L353.0,337.8L353.9,338.6L354.8,339.2L355.7,339.0L356.6,339.9L357.5,339.9L358.4,340.9L359.4,341.1L360.3,341.9L361.2,342.3L362.1,342.4L363.0,343.1L363.9,343.0L364.8,343.3L365.7,344.0L366.7,344.0L367.6,344.5L368.5,345.0L369.4,345.6L370.3,345.6L371.2,345.9L372.1,346.9L373.1,346.9L374.0,347.6L374.9,347.7L375.8,347.4L376.7,347.6L377.6,347.7L378.5,347.9L379.4,348.0L380.4,347.6L381.3,347.4L382.2,347.3L383.1,346.7L384.0,346.3L384.9,346.2L385.8,345.1L386.8,344.5L387.7,344.2L388.6,343.2L389.5,342.4L390.4,341.1L391.3,340.2L392.2,339.1L393.1,337.2L394.1,335.8L395.0,332.2L395.9,326.3L396.8,318.6" fill="none" stroke="#e8382e" stroke-width="0.7"/>
<path d="M288.0,350.4V359.6" stroke="#000" stroke-width="0.44" opacity="0.74"/>
<path d="M289.4,350.4V359.6" stroke="#000" stroke-width="0.44" opacity="0.35"/>
<path d="M292.5,350.4V359.6" stroke="#000" stroke-width="0.46" opacity="0.89"/>
<path d="M299.3,350.4V359.6" stroke="#000" stroke-width="0.39" opacity="0.73"/>
<path d="M305.2,350.4V359.6" stroke="#000" stroke-width="0.44" opacity="0.63"/>
<path d="M316.0,350.4V359.6" stroke="#000" stroke-width="0.41" opacity="0.44"/>
<path d="M318.5,350.4V359.6" stroke="#000" stroke-width="0.57" opacity="0.41"/>
<path d="M324.0,350.4V359.6" stroke="#000" stroke-width="0.48" opacity="0.68"/>
<path d="M327.3,350.4V359.6" stroke="#000" stroke-width="0.52" opacity="0.85"/>
<path d="M328.5,350.4V359.6" stroke="#000" stroke-width="0.57" opacity="0.54"/>
<path d="M329.5,350.4V359.6" stroke="#000" stroke-width="0.59" opacity="0.71"/>
<path d="M330.2,350.4V359.6" stroke="#000" stroke-width="0.44" opacity="0.53"/>
<path d="M331.0,350.4V359.6" stroke="#000" stroke-width="0.55" opacity="0.39"/>
<path d="M332.2,350.4V359.6" stroke="#000" stroke-width="0.55" opacity="0.76"/>
<path d="M341.0,350.4V359.6" stroke="#000" stroke-width="0.58" opacity="0.59"/>
<path d="M350.4,350.4V359.6" stroke="#000" stroke-width="0.55" opacity="0.84"/>
<path d="M357.5,350.4V359.6" stroke="#000" stroke-width="0.56" opacity="0.37"/>
<path d="M359.4,350.4V359.6" stroke="#000" stroke-width="0.53" opacity="0.97"/>
<path d="M369.2,350.4V359.6" stroke="#000" stroke-width="0.50" opacity="0.64"/>
<path d="M373.8,350.4V359.6" stroke="#000" stroke-width="0.40" opacity="0.53"/>
<path d="M375.0,350.4V359.6" stroke="#000" stroke-width="0.51" opacity="0.93"/>
<path d="M377.0,350.4V359.6" stroke="#000" stroke-width="0.41" opacity="0.92"/>
<path d="M379.2,350.4V359.6" stroke="#000" stroke-width="0.56" opacity="0.62"/>
<path d="M381.4,350.4V359.6" stroke="#000" stroke-width="0.48" opacity="0.44"/>
<path d="M383.0,350.4V359.6" stroke="#000" stroke-width="0.41" opacity="0.65"/>
<path d="M384.3,350.4V359.6" stroke="#000" stroke-width="0.51" opacity="0.84"/>
<path d="M385.6,350.4V359.6" stroke="#000" stroke-width="0.54" opacity="0.61"/>
<path d="M387.3,350.4V359.6" stroke="#000" stroke-width="0.37" opacity="0.99"/>
<path d="M389.2,350.4V359.6" stroke="#000" stroke-width="0.42" opacity="1.00"/>
<path d="M390.4,350.4V359.6" stroke="#000" stroke-width="0.40" opacity="0.63"/>
<path d="M391.4,350.4V359.6" stroke="#000" stroke-width="0.49" opacity="0.38"/>
<path d="M393.0,350.4V359.6" stroke="#000" stroke-width="0.50" opacity="0.43"/>
<path d="M394.2,350.4V359.6" stroke="#000" stroke-width="0.55" opacity="0.96"/>
<path d="M395.6,350.4V359.6" stroke="#000" stroke-width="0.40" opacity="0.46"/>
<path d="M396.4,350.4V359.6" stroke="#000" stroke-width="0.48" opacity="0.91"/>
<line x1="287.20" y1="350.40" x2="287.20" y2="359.60" stroke="#555" stroke-width="0.5"/>
<rect x="287.20" y="360.20" width="6.80" height="3.60" fill="#e03a30" stroke="none" stroke-width="1"/>
<rect x="294.00" y="360.20" width="5.30" height="3.60" fill="#f26a4f" stroke="none" stroke-width="1"/>
<rect x="299.30" y="360.20" width="10.20" height="3.60" fill="#f7b3a0" stroke="none" stroke-width="1"/>
<rect x="309.50" y="360.20" width="20.50" height="3.60" fill="#fbdcd0" stroke="none" stroke-width="1"/>
<rect x="330.00" y="360.20" width="15.00" height="3.60" fill="#e8eff8" stroke="none" stroke-width="1"/>
<rect x="345.00" y="360.20" width="10.50" height="3.60" fill="#b7d3ea" stroke="none" stroke-width="1"/>
<rect x="355.50" y="360.20" width="15.00" height="3.60" fill="#6da6d5" stroke="none" stroke-width="1"/>
<rect x="370.50" y="360.20" width="26.30" height="3.60" fill="#3b82c0" stroke="none" stroke-width="1"/>
<path d="M287.2,377.2L287.2,371.2L289.0,372.3L290.9,373.2L292.7,373.9L294.5,374.5L296.3,375.0L298.2,375.4L300.0,375.7L301.8,376.0L303.6,376.2L305.5,376.4L307.3,376.5L309.1,376.6L310.9,376.7L312.8,376.8L314.6,376.9L316.4,376.9L318.3,376.9L320.1,377.0L321.9,377.0L323.7,377.0L325.6,377.1L327.4,377.1L329.2,377.1L331.0,377.1L332.9,377.1L334.7,377.2L336.5,377.2L338.3,377.2L340.2,377.2L342.0,377.2L343.8,377.2L345.7,377.2L347.5,377.2L349.3,377.3L351.1,377.3L353.0,377.3L354.8,377.3L356.6,377.3L358.4,377.4L360.3,377.4L362.1,377.4L363.9,377.5L365.7,377.5L367.6,377.6L369.4,377.6L371.2,377.7L373.1,377.8L374.9,377.9L376.7,378.1L378.5,378.3L380.4,378.5L382.2,378.8L384.0,379.1L385.8,379.5L387.7,380.0L389.5,380.7L391.3,381.5L393.1,382.5L395.0,383.7L396.8,385.2L396.8,377.2Z" fill="#cdcdcd" stroke="#b0b0b0" stroke-width="0.3"/>
<path d="M287.2,371.2L289.0,372.3L290.9,373.2L292.7,373.9L294.5,374.5L296.3,375.0L298.2,375.4L300.0,375.7L301.8,376.0L303.6,376.2L305.5,376.4L307.3,376.5L309.1,376.6L310.9,376.7L312.8,376.8L314.6,376.9L316.4,376.9L318.3,376.9L320.1,377.0L321.9,377.0L323.7,377.0L325.6,377.1L327.4,377.1L329.2,377.1L331.0,377.1L332.9,377.1L334.7,377.2L336.5,377.2L338.3,377.2L340.2,377.2L342.0,377.2L343.8,377.2L345.7,377.2L347.5,377.2L349.3,377.3L351.1,377.3L353.0,377.3L354.8,377.3L356.6,377.3L358.4,377.4L360.3,377.4L362.1,377.4L363.9,377.5L365.7,377.5L367.6,377.6L369.4,377.6L371.2,377.7L373.1,377.8L374.9,377.9L376.7,378.1L378.5,378.3L380.4,378.5L382.2,378.8L384.0,379.1L385.8,379.5L387.7,380.0L389.5,380.7L391.3,381.5L393.1,382.5L395.0,383.7L396.8,385.2" fill="none" stroke="#888" stroke-width="0.35"/>
<text class="ss" x="310.03" y="394.70" font-size="3.0" fill="#444" text-anchor="middle">5000</text>
<text class="ss" x="332.87" y="394.70" font-size="3.0" fill="#444" text-anchor="middle">10000</text>
<text class="ss" x="355.70" y="394.70" font-size="3.0" fill="#444" text-anchor="middle">15000</text>
<text class="ss" x="378.53" y="394.70" font-size="3.0" fill="#444" text-anchor="middle">20000</text>
<text class="ss" x="342.00" y="398.50" font-size="4.2" fill="#222" text-anchor="middle">Rank in Ordered Dataset</text>
<text class="ss" x="281.20" y="329.75" font-size="3.4" fill="#222" text-anchor="middle" transform="rotate(-90 281.20 329.75)">Running Enrichment Score</text>
<text class="ss" x="281.20" y="377.70" font-size="3.4" fill="#222" text-anchor="middle" transform="rotate(-90 281.20 377.70)">Ranked List Metric</text>
<text class="ss" x="286.00" y="321.80" font-size="3.0" fill="#444" text-anchor="end">0.5</text>
<text class="ss" x="286.00" y="331.70" font-size="3.0" fill="#444" text-anchor="end">0.3</text>
<text class="ss" x="286.00" y="341.60" font-size="3.0" fill="#444" text-anchor="end">0.1</text>
<text class="ss" x="286.00" y="371.40" font-size="3.0" fill="#444" text-anchor="end">4</text>
<text class="ss" x="286.00" y="378.40" font-size="3.0" fill="#444" text-anchor="end">0</text>
<text class="ss" x="286.00" y="385.40" font-size="3.0" fill="#444" text-anchor="end">-4</text>
<text class="ss" x="288.00" y="307.40" font-size="4.3" fill="#000">hsa04216_FERROPTOSIS</text>
<rect x="274.25" y="424.25" width="125.10" height="99.10" fill="#fff" stroke="#1a1a1a" stroke-width="1.5"/>
<path d="M310.0,432.7V472.4M310.0,486.4V513.5M332.9,432.7V472.4M332.9,486.4V513.5M355.7,432.7V472.4M355.7,486.4V513.5M378.5,432.7V472.4M378.5,486.4V513.5M298.6,432.7V472.4M298.6,486.4V513.5M321.4,432.7V472.4M321.4,486.4V513.5M344.3,432.7V472.4M344.3,486.4V513.5M367.1,432.7V472.4M367.1,486.4V513.5M389.9,432.7V472.4M389.9,486.4V513.5" fill="none" stroke="#ededed" stroke-width="0.5"/>
<path d="M287.2,436.5H396.8M287.2,445.9H396.8M287.2,455.3H396.8M287.2,464.7H396.8" fill="none" stroke="#efefef" stroke-width="0.4"/>
<line x1="287.20" y1="432.70" x2="287.20" y2="472.40" stroke="#555" stroke-width="0.5"/>
<line x1="287.20" y1="486.40" x2="287.20" y2="513.50" stroke="#555" stroke-width="0.5"/>
<line x1="287.20" y1="513.50" x2="396.80" y2="513.50" stroke="#555" stroke-width="0.5"/>
<path d="M287.2,435.9L288.1,435.0L289.0,435.2L289.9,436.4L290.8,437.2L291.7,436.8L292.6,437.5L293.6,439.2L294.5,440.3L295.4,439.8L296.3,440.7L297.2,441.4L298.1,441.5L299.0,442.1L299.9,442.7L300.8,443.4L301.7,444.5L302.6,444.7L303.6,445.5L304.5,446.7L305.4,446.1L306.3,447.4L307.2,448.2L308.1,448.1L309.0,448.5L309.9,449.5L310.8,448.8L311.7,448.8L312.6,449.2L313.5,449.7L314.4,448.9L315.4,449.2L316.3,449.0L317.2,449.6L318.1,448.8L319.0,449.3L319.9,448.1L320.8,448.2L321.7,447.2L322.6,447.7L323.5,448.0L324.4,448.2L325.3,448.4L326.3,449.3L327.2,449.1L328.1,450.3L329.0,450.6L329.9,449.9L330.8,450.4L331.7,451.5L332.6,451.5L333.5,452.4L334.4,452.4L335.3,452.7L336.2,453.6L337.2,454.9L338.1,454.8L339.0,455.5L339.9,456.3L340.8,456.9L341.7,457.5L342.6,458.9L343.5,458.3L344.4,458.7L345.3,460.7L346.2,461.3L347.1,462.0L348.1,461.8L349.0,463.1L349.9,463.6L350.8,463.1L351.7,464.4L352.6,465.1L353.5,465.4L354.4,465.7L355.3,465.9L356.2,466.4L357.1,466.8L358.0,467.0L359.0,468.3L359.9,468.4L360.8,469.6L361.7,468.4L362.6,469.5L363.5,468.9L364.4,469.0L365.3,468.6L366.2,468.1L367.1,467.2L368.0,465.9L368.9,466.5L369.9,465.3L370.8,465.0L371.7,465.2L372.6,464.5L373.5,464.0L374.4,464.0L375.3,462.6L376.2,461.4L377.1,460.4L378.0,460.4L378.9,459.0L379.9,458.6L380.8,457.2L381.7,456.4L382.6,456.2L383.5,456.0L384.4,454.4L385.3,454.7L386.2,454.1L387.1,453.2L388.0,452.5L388.9,450.5L389.8,450.7L390.8,450.2L391.7,448.3L392.6,447.4L393.5,445.2L394.4,443.3L395.3,439.9L396.2,436.6" fill="none" stroke="#e8382e" stroke-width="0.7"/>
<path d="M287.6,472.8V481.6" stroke="#000" stroke-width="0.49" opacity="0.56"/>
<path d="M288.3,472.8V481.6" stroke="#000" stroke-width="0.58" opacity="0.85"/>
<path d="M306.0,472.8V481.6" stroke="#000" stroke-width="0.58" opacity="0.81"/>
<path d="M307.1,472.8V481.6" stroke="#000" stroke-width="0.43" opacity="0.63"/>
<path d="M307.8,472.8V481.6" stroke="#000" stroke-width="0.50" opacity="0.49"/>
<path d="M309.4,472.8V481.6" stroke="#000" stroke-width="0.52" opacity="0.80"/>
<path d="M310.0,472.8V481.6" stroke="#000" stroke-width="0.56" opacity="0.95"/>
<path d="M311.4,472.8V481.6" stroke="#000" stroke-width="0.37" opacity="0.92"/>
<path d="M312.6,472.8V481.6" stroke="#000" stroke-width="0.51" opacity="0.72"/>
<path d="M313.2,472.8V481.6" stroke="#000" stroke-width="0.38" opacity="0.95"/>
<path d="M314.5,472.8V481.6" stroke="#000" stroke-width="0.43" opacity="0.86"/>
<path d="M315.1,472.8V481.6" stroke="#000" stroke-width="0.37" opacity="0.95"/>
<path d="M316.3,472.8V481.6" stroke="#000" stroke-width="0.47" opacity="0.40"/>
<path d="M317.0,472.8V481.6" stroke="#000" stroke-width="0.37" opacity="0.74"/>
<path d="M317.6,472.8V481.6" stroke="#000" stroke-width="0.50" opacity="0.69"/>
<path d="M318.8,472.8V481.6" stroke="#000" stroke-width="0.41" opacity="0.91"/>
<path d="M320.7,472.8V481.6" stroke="#000" stroke-width="0.53" opacity="0.63"/>
<path d="M321.4,472.8V481.6" stroke="#000" stroke-width="0.37" opacity="0.46"/>
<path d="M322.3,472.8V481.6" stroke="#000" stroke-width="0.52" opacity="0.57"/>
<path d="M323.9,472.8V481.6" stroke="#000" stroke-width="0.57" opacity="0.67"/>
<path d="M326.0,472.8V481.6" stroke="#000" stroke-width="0.49" opacity="0.82"/>
<path d="M327.5,472.8V481.6" stroke="#000" stroke-width="0.50" opacity="0.99"/>
<path d="M328.7,472.8V481.6" stroke="#000" stroke-width="0.40" opacity="0.69"/>
<path d="M330.8,472.8V481.6" stroke="#000" stroke-width="0.57" opacity="0.92"/>
<path d="M331.4,472.8V481.6" stroke="#000" stroke-width="0.40" opacity="0.38"/>
<path d="M333.4,472.8V481.6" stroke="#000" stroke-width="0.46" opacity="0.38"/>
<path d="M334.3,472.8V481.6" stroke="#000" stroke-width="0.56" opacity="0.40"/>
<path d="M335.1,472.8V481.6" stroke="#000" stroke-width="0.59" opacity="0.60"/>
<path d="M335.8,472.8V481.6" stroke="#000" stroke-width="0.37" opacity="0.48"/>
<path d="M336.8,472.8V481.6" stroke="#000" stroke-width="0.43" opacity="0.74"/>
<path d="M338.7,472.8V481.6" stroke="#000" stroke-width="0.41" opacity="0.81"/>
<path d="M339.5,472.8V481.6" stroke="#000" stroke-width="0.49" opacity="0.55"/>
<path d="M341.0,472.8V481.6" stroke="#000" stroke-width="0.56" opacity="0.66"/>
<path d="M342.6,472.8V481.6" stroke="#000" stroke-width="0.57" opacity="0.45"/>
<path d="M343.7,472.8V481.6" stroke="#000" stroke-width="0.44" opacity="0.98"/>
<path d="M345.1,472.8V481.6" stroke="#000" stroke-width="0.60" opacity="0.72"/>
<path d="M345.8,472.8V481.6" stroke="#000" stroke-width="0.58" opacity="0.42"/>
<path d="M346.4,472.8V481.6" stroke="#000" stroke-width="0.40" opacity="0.93"/>
<path d="M347.2,472.8V481.6" stroke="#000" stroke-width="0.45" opacity="0.73"/>
<path d="M348.9,472.8V481.6" stroke="#000" stroke-width="0.57" opacity="0.77"/>
<path d="M350.1,472.8V481.6" stroke="#000" stroke-width="0.44" opacity="0.85"/>
<path d="M351.1,472.8V481.6" stroke="#000" stroke-width="0.47" opacity="0.71"/>
<path d="M352.6,472.8V481.6" stroke="#000" stroke-width="0.39" opacity="0.58"/>
<path d="M353.9,472.8V481.6" stroke="#000" stroke-width="0.55" opacity="0.72"/>
<path d="M354.9,472.8V481.6" stroke="#000" stroke-width="0.39" opacity="0.35"/>
<path d="M356.8,472.8V481.6" stroke="#000" stroke-width="0.57" opacity="0.47"/>
<path d="M358.4,472.8V481.6" stroke="#000" stroke-width="0.57" opacity="0.94"/>
<path d="M359.4,472.8V481.6" stroke="#000" stroke-width="0.58" opacity="0.47"/>
<path d="M360.8,472.8V481.6" stroke="#000" stroke-width="0.56" opacity="0.99"/>
<path d="M362.2,472.8V481.6" stroke="#000" stroke-width="0.55" opacity="0.71"/>
<path d="M364.2,472.8V481.6" stroke="#000" stroke-width="0.54" opacity="0.89"/>
<path d="M366.0,472.8V481.6" stroke="#000" stroke-width="0.60" opacity="0.83"/>
<path d="M366.9,472.8V481.6" stroke="#000" stroke-width="0.55" opacity="0.82"/>
<path d="M369.1,472.8V481.6" stroke="#000" stroke-width="0.45" opacity="0.98"/>
<path d="M369.8,472.8V481.6" stroke="#000" stroke-width="0.59" opacity="0.50"/>
<path d="M371.0,472.8V481.6" stroke="#000" stroke-width="0.52" opacity="0.51"/>
<path d="M372.8,472.8V481.6" stroke="#000" stroke-width="0.58" opacity="0.92"/>
<path d="M373.6,472.8V481.6" stroke="#000" stroke-width="0.46" opacity="0.49"/>
<path d="M374.9,472.8V481.6" stroke="#000" stroke-width="0.51" opacity="0.61"/>
<path d="M375.5,472.8V481.6" stroke="#000" stroke-width="0.50" opacity="0.98"/>
<path d="M377.1,472.8V481.6" stroke="#000" stroke-width="0.46" opacity="0.83"/>
<path d="M378.9,472.8V481.6" stroke="#000" stroke-width="0.49" opacity="0.61"/>
<path d="M380.4,472.8V481.6" stroke="#000" stroke-width="0.59" opacity="0.38"/>
<path d="M382.4,472.8V481.6" stroke="#000" stroke-width="0.39" opacity="0.41"/>
<path d="M383.4,472.8V481.6" stroke="#000" stroke-width="0.58" opacity="0.51"/>
<path d="M385.1,472.8V481.6" stroke="#000" stroke-width="0.46" opacity="0.89"/>
<path d="M386.6,472.8V481.6" stroke="#000" stroke-width="0.38" opacity="0.86"/>
<path d="M388.1,472.8V481.6" stroke="#000" stroke-width="0.46" opacity="0.65"/>
<path d="M389.3,472.8V481.6" stroke="#000" stroke-width="0.38" opacity="0.73"/>
<path d="M391.3,472.8V481.6" stroke="#000" stroke-width="0.56" opacity="0.59"/>
<path d="M393.4,472.8V481.6" stroke="#000" stroke-width="0.56" opacity="0.96"/>
<path d="M394.7,472.8V481.6" stroke="#000" stroke-width="0.58" opacity="0.83"/>
<path d="M396.3,472.8V481.6" stroke="#000" stroke-width="0.40" opacity="0.36"/>
<line x1="287.20" y1="472.80" x2="287.20" y2="481.60" stroke="#555" stroke-width="0.5"/>
<rect x="287.20" y="482.20" width="17.30" height="3.70" fill="#d93a32" stroke="none" stroke-width="1"/>
<rect x="304.50" y="482.20" width="11.00" height="3.70" fill="#f06a48" stroke="none" stroke-width="1"/>
<rect x="315.50" y="482.20" width="5.50" height="3.70" fill="#f7a48c" stroke="none" stroke-width="1"/>
<rect x="321.00" y="482.20" width="12.00" height="3.70" fill="#fbd8cc" stroke="none" stroke-width="1"/>
<rect x="333.00" y="482.20" width="13.00" height="3.70" fill="#e7eef8" stroke="none" stroke-width="1"/>
<rect x="346.00" y="482.20" width="7.50" height="3.70" fill="#b5d1ea" stroke="none" stroke-width="1"/>
<rect x="353.50" y="482.20" width="11.00" height="3.70" fill="#6ea7d6" stroke="none" stroke-width="1"/>
<rect x="364.50" y="482.20" width="32.30" height="3.70" fill="#3a82c1" stroke="none" stroke-width="1"/>
<path d="M287.2,499.8L287.2,493.8L289.0,494.9L290.9,495.8L292.7,496.5L294.5,497.1L296.3,497.6L298.2,498.0L300.0,498.3L301.8,498.6L303.6,498.8L305.5,499.0L307.3,499.1L309.1,499.2L310.9,499.3L312.8,499.4L314.6,499.5L316.4,499.5L318.3,499.5L320.1,499.6L321.9,499.6L323.7,499.6L325.6,499.7L327.4,499.7L329.2,499.7L331.0,499.7L332.9,499.7L334.7,499.8L336.5,499.8L338.3,499.8L340.2,499.8L342.0,499.8L343.8,499.8L345.7,499.8L347.5,499.8L349.3,499.9L351.1,499.9L353.0,499.9L354.8,499.9L356.6,499.9L358.4,500.0L360.3,500.0L362.1,500.0L363.9,500.1L365.7,500.1L367.6,500.2L369.4,500.2L371.2,500.3L373.1,500.4L374.9,500.5L376.7,500.7L378.5,500.9L380.4,501.1L382.2,501.4L384.0,501.7L385.8,502.1L387.7,502.6L389.5,503.3L391.3,504.1L393.1,505.1L395.0,506.3L396.8,507.8L396.8,499.8Z" fill="#cdcdcd" stroke="#b0b0b0" stroke-width="0.3"/>
<path d="M287.2,493.8L289.0,494.9L290.9,495.8L292.7,496.5L294.5,497.1L296.3,497.6L298.2,498.0L300.0,498.3L301.8,498.6L303.6,498.8L305.5,499.0L307.3,499.1L309.1,499.2L310.9,499.3L312.8,499.4L314.6,499.5L316.4,499.5L318.3,499.5L320.1,499.6L321.9,499.6L323.7,499.6L325.6,499.7L327.4,499.7L329.2,499.7L331.0,499.7L332.9,499.7L334.7,499.8L336.5,499.8L338.3,499.8L340.2,499.8L342.0,499.8L343.8,499.8L345.7,499.8L347.5,499.8L349.3,499.9L351.1,499.9L353.0,499.9L354.8,499.9L356.6,499.9L358.4,500.0L360.3,500.0L362.1,500.0L363.9,500.1L365.7,500.1L367.6,500.2L369.4,500.2L371.2,500.3L373.1,500.4L374.9,500.5L376.7,500.7L378.5,500.9L380.4,501.1L382.2,501.4L384.0,501.7L385.8,502.1L387.7,502.6L389.5,503.3L391.3,504.1L393.1,505.1L395.0,506.3L396.8,507.8" fill="none" stroke="#888" stroke-width="0.35"/>
<text class="ss" x="310.03" y="517.30" font-size="3.0" fill="#444" text-anchor="middle">5000</text>
<text class="ss" x="332.87" y="517.30" font-size="3.0" fill="#444" text-anchor="middle">10000</text>
<text class="ss" x="355.70" y="517.30" font-size="3.0" fill="#444" text-anchor="middle">15000</text>
<text class="ss" x="378.53" y="517.30" font-size="3.0" fill="#444" text-anchor="middle">20000</text>
<text class="ss" x="342.00" y="521.10" font-size="4.2" fill="#222" text-anchor="middle">Rank in Ordered Dataset</text>
<text class="ss" x="281.20" y="452.55" font-size="3.4" fill="#222" text-anchor="middle" transform="rotate(-90 281.20 452.55)">Running Enrichment Score</text>
<text class="ss" x="281.20" y="499.95" font-size="3.4" fill="#222" text-anchor="middle" transform="rotate(-90 281.20 499.95)">Ranked List Metric</text>
<text class="ss" x="286.00" y="437.70" font-size="3.0" fill="#444" text-anchor="end">0.0</text>
<text class="ss" x="286.00" y="447.10" font-size="3.0" fill="#444" text-anchor="end">-0.1</text>
<text class="ss" x="286.00" y="456.50" font-size="3.0" fill="#444" text-anchor="end">-0.2</text>
<text class="ss" x="286.00" y="465.90" font-size="3.0" fill="#444" text-anchor="end">-0.3</text>
<text class="ss" x="286.00" y="494.00" font-size="3.0" fill="#444" text-anchor="end">4</text>
<text class="ss" x="286.00" y="501.00" font-size="3.0" fill="#444" text-anchor="end">0</text>
<text class="ss" x="286.00" y="508.00" font-size="3.0" fill="#444" text-anchor="end">-4</text>
<text class="ss" x="288.00" y="430.00" font-size="4.3" fill="#000">Cell cycle</text>
<!-- gh -->
<text class="ss" x="429.10" y="307.40" font-size="23.5" fill="#000">G</text>
<line x1="508.10" y1="330.47" x2="508.10" y2="323.91" stroke="#1f4e79" stroke-width="1.2"/>
<line x1="505.70" y1="323.91" x2="510.50" y2="323.91" stroke="#1f4e79" stroke-width="1.2"/>
<rect x="505.35" y="331.32" width="5.50" height="64.68" fill="#fff" stroke="#1f4e79" stroke-width="1.7"/>
<line x1="518.80" y1="341.15" x2="518.80" y2="337.02" stroke="#f7931e" stroke-width="1.2"/>
<line x1="516.40" y1="337.02" x2="521.20" y2="337.02" stroke="#f7931e" stroke-width="1.2"/>
<rect x="516.05" y="342.00" width="5.50" height="54.00" fill="#fff" stroke="#f7931e" stroke-width="1.7"/>
<line x1="536.70" y1="327.85" x2="536.70" y2="324.18" stroke="#1f4e79" stroke-width="1.2"/>
<line x1="534.30" y1="324.18" x2="539.10" y2="324.18" stroke="#1f4e79" stroke-width="1.2"/>
<rect x="533.95" y="328.70" width="5.50" height="67.30" fill="#fff" stroke="#1f4e79" stroke-width="1.7"/>
<line x1="547.40" y1="321.42" x2="547.40" y2="317.10" stroke="#f7931e" stroke-width="1.2"/>
<line x1="545.00" y1="317.10" x2="549.80" y2="317.10" stroke="#f7931e" stroke-width="1.2"/>
<rect x="544.65" y="322.27" width="5.50" height="73.73" fill="#fff" stroke="#f7931e" stroke-width="1.7"/>
<line x1="565.30" y1="366.90" x2="565.30" y2="365.00" stroke="#1f4e79" stroke-width="1.2"/>
<line x1="562.90" y1="365.00" x2="567.70" y2="365.00" stroke="#1f4e79" stroke-width="1.2"/>
<rect x="562.55" y="367.75" width="5.50" height="28.25" fill="#fff" stroke="#1f4e79" stroke-width="1.7"/>
<line x1="576.00" y1="381.58" x2="576.00" y2="380.27" stroke="#f7931e" stroke-width="1.2"/>
<line x1="573.60" y1="380.27" x2="578.40" y2="380.27" stroke="#f7931e" stroke-width="1.2"/>
<rect x="573.25" y="382.43" width="5.50" height="13.57" fill="#fff" stroke="#f7931e" stroke-width="1.7"/>
<line x1="593.90" y1="372.80" x2="593.90" y2="371.23" stroke="#1f4e79" stroke-width="1.2"/>
<line x1="591.50" y1="371.23" x2="596.30" y2="371.23" stroke="#1f4e79" stroke-width="1.2"/>
<rect x="591.15" y="373.65" width="5.50" height="22.35" fill="#fff" stroke="#1f4e79" stroke-width="1.7"/>
<line x1="604.60" y1="379.22" x2="604.60" y2="377.52" stroke="#f7931e" stroke-width="1.2"/>
<line x1="602.20" y1="377.52" x2="607.00" y2="377.52" stroke="#f7931e" stroke-width="1.2"/>
<rect x="601.85" y="380.07" width="5.50" height="15.93" fill="#fff" stroke="#f7931e" stroke-width="1.7"/>
<line x1="622.50" y1="331.58" x2="622.50" y2="328.50" stroke="#1f4e79" stroke-width="1.2"/>
<line x1="620.10" y1="328.50" x2="624.90" y2="328.50" stroke="#1f4e79" stroke-width="1.2"/>
<rect x="619.75" y="332.43" width="5.50" height="63.57" fill="#fff" stroke="#1f4e79" stroke-width="1.7"/>
<line x1="633.20" y1="329.16" x2="633.20" y2="322.67" stroke="#f7931e" stroke-width="1.2"/>
<line x1="630.80" y1="322.67" x2="635.60" y2="322.67" stroke="#f7931e" stroke-width="1.2"/>
<rect x="630.45" y="330.01" width="5.50" height="65.99" fill="#fff" stroke="#f7931e" stroke-width="1.7"/>
<line x1="651.10" y1="330.07" x2="651.10" y2="325.22" stroke="#1f4e79" stroke-width="1.2"/>
<line x1="648.70" y1="325.22" x2="653.50" y2="325.22" stroke="#1f4e79" stroke-width="1.2"/>
<rect x="648.35" y="330.92" width="5.50" height="65.08" fill="#fff" stroke="#1f4e79" stroke-width="1.7"/>
<line x1="661.80" y1="335.19" x2="661.80" y2="329.48" stroke="#f7931e" stroke-width="1.2"/>
<line x1="659.40" y1="329.48" x2="664.20" y2="329.48" stroke="#f7931e" stroke-width="1.2"/>
<rect x="659.05" y="336.04" width="5.50" height="59.96" fill="#fff" stroke="#f7931e" stroke-width="1.7"/>
<line x1="499.90" y1="296.90" x2="499.90" y2="396.90" stroke="#000" stroke-width="1.8"/>
<line x1="499.00" y1="396.00" x2="669.60" y2="396.00" stroke="#000" stroke-width="1.8"/>
<line x1="496.70" y1="396.00" x2="499.90" y2="396.00" stroke="#000" stroke-width="1.5"/>
<text class="ss" x="496.30" y="399.40" font-size="9.6" fill="#000" font-weight="bold" text-anchor="end">0</text>
<line x1="496.70" y1="376.34" x2="499.90" y2="376.34" stroke="#000" stroke-width="1.5"/>
<text class="ss" x="496.30" y="379.74" font-size="9.6" fill="#000" font-weight="bold" text-anchor="end">30</text>
<line x1="496.70" y1="356.68" x2="499.90" y2="356.68" stroke="#000" stroke-width="1.5"/>
<text class="ss" x="496.30" y="360.08" font-size="9.6" fill="#000" font-weight="bold" text-anchor="end">60</text>
<line x1="496.70" y1="337.02" x2="499.90" y2="337.02" stroke="#000" stroke-width="1.5"/>
<text class="ss" x="496.30" y="340.42" font-size="9.6" fill="#000" font-weight="bold" text-anchor="end">90</text>
<line x1="496.70" y1="317.36" x2="499.90" y2="317.36" stroke="#000" stroke-width="1.5"/>
<text class="ss" x="496.30" y="320.76" font-size="9.6" fill="#000" font-weight="bold" text-anchor="end">120</text>
<line x1="496.70" y1="297.70" x2="499.90" y2="297.70" stroke="#000" stroke-width="1.5"/>
<text class="ss" x="496.30" y="301.10" font-size="9.6" fill="#000" font-weight="bold" text-anchor="end">150</text>
<line x1="513.20" y1="396.00" x2="513.20" y2="399.00" stroke="#000" stroke-width="1.4"/>
<line x1="541.80" y1="396.00" x2="541.80" y2="399.00" stroke="#000" stroke-width="1.4"/>
<line x1="570.40" y1="396.00" x2="570.40" y2="399.00" stroke="#000" stroke-width="1.4"/>
<line x1="599.00" y1="396.00" x2="599.00" y2="399.00" stroke="#000" stroke-width="1.4"/>
<line x1="627.60" y1="396.00" x2="627.60" y2="399.00" stroke="#000" stroke-width="1.4"/>
<line x1="656.20" y1="396.00" x2="656.20" y2="399.00" stroke="#000" stroke-width="1.4"/>
<text class="ss" x="582.00" y="295.60" font-size="10.3" fill="#777" font-weight="bold" text-anchor="middle">LNCaP</text>
<text class="ss" x="466.40" y="341.95" font-size="9.5" fill="#000" font-weight="bold" text-anchor="middle" transform="rotate(-90 466.40 341.95)">Relative Cell Number</text>
<text class="ss" x="479.20" y="341.95" font-size="9.5" fill="#000" font-weight="bold" text-anchor="middle" transform="rotate(-90 479.20 341.95)">(%)</text>
<rect x="620.90" y="296.60" width="7.80" height="4.40" fill="#fff" stroke="#1f4e79" stroke-width="1.7"/>
<text class="ss" x="632.50" y="302.00" font-size="9.1" fill="#000" font-weight="bold">Control</text>
<rect x="620.90" y="305.40" width="7.80" height="4.40" fill="#fff" stroke="#f7931e" stroke-width="1.7"/>
<text class="ss" x="632.50" y="310.80" font-size="9.1" fill="#000" font-weight="bold">Palbociclib</text>
<text class="ss" x="429.10" y="414.00" font-size="22.5" fill="#000">H</text>
<line x1="508.10" y1="455.59" x2="508.10" y2="448.99" stroke="#1f4e79" stroke-width="1.2"/>
<line x1="505.70" y1="448.99" x2="510.50" y2="448.99" stroke="#1f4e79" stroke-width="1.2"/>
<rect x="505.35" y="456.44" width="5.50" height="64.16" fill="#fff" stroke="#1f4e79" stroke-width="1.7"/>
<line x1="518.80" y1="469.59" x2="518.80" y2="464.62" stroke="#f7931e" stroke-width="1.2"/>
<line x1="516.40" y1="464.62" x2="521.20" y2="464.62" stroke="#f7931e" stroke-width="1.2"/>
<rect x="516.05" y="470.44" width="5.50" height="50.16" fill="#fff" stroke="#f7931e" stroke-width="1.7"/>
<line x1="536.70" y1="456.57" x2="536.70" y2="453.50" stroke="#1f4e79" stroke-width="1.2"/>
<line x1="534.30" y1="453.50" x2="539.10" y2="453.50" stroke="#1f4e79" stroke-width="1.2"/>
<rect x="533.95" y="457.42" width="5.50" height="63.18" fill="#fff" stroke="#1f4e79" stroke-width="1.7"/>
<line x1="547.40" y1="450.62" x2="547.40" y2="447.02" stroke="#f7931e" stroke-width="1.2"/>
<line x1="545.00" y1="447.02" x2="549.80" y2="447.02" stroke="#f7931e" stroke-width="1.2"/>
<rect x="544.65" y="451.47" width="5.50" height="69.13" fill="#fff" stroke="#f7931e" stroke-width="1.7"/>
<line x1="565.30" y1="490.39" x2="565.30" y2="487.38" stroke="#1f4e79" stroke-width="1.2"/>
<line x1="562.90" y1="487.38" x2="567.70" y2="487.38" stroke="#1f4e79" stroke-width="1.2"/>
<rect x="562.55" y="491.24" width="5.50" height="29.36" fill="#fff" stroke="#1f4e79" stroke-width="1.7"/>
<line x1="576.00" y1="500.46" x2="576.00" y2="498.36" stroke="#f7931e" stroke-width="1.2"/>
<line x1="573.60" y1="498.36" x2="578.40" y2="498.36" stroke="#f7931e" stroke-width="1.2"/>
<rect x="573.25" y="501.31" width="5.50" height="19.29" fill="#fff" stroke="#f7931e" stroke-width="1.7"/>
<line x1="593.90" y1="504.58" x2="593.90" y2="503.92" stroke="#1f4e79" stroke-width="1.2"/>
<line x1="591.50" y1="503.92" x2="596.30" y2="503.92" stroke="#1f4e79" stroke-width="1.2"/>
<rect x="591.15" y="505.43" width="5.50" height="15.17" fill="#fff" stroke="#1f4e79" stroke-width="1.7"/>
<line x1="604.60" y1="506.47" x2="604.60" y2="505.82" stroke="#f7931e" stroke-width="1.2"/>
<line x1="602.20" y1="505.82" x2="607.00" y2="505.82" stroke="#f7931e" stroke-width="1.2"/>
<rect x="601.85" y="507.32" width="5.50" height="13.28" fill="#fff" stroke="#f7931e" stroke-width="1.7"/>
<line x1="622.50" y1="464.62" x2="622.50" y2="458.21" stroke="#1f4e79" stroke-width="1.2"/>
<line x1="620.10" y1="458.21" x2="624.90" y2="458.21" stroke="#1f4e79" stroke-width="1.2"/>
<rect x="619.75" y="465.47" width="5.50" height="55.13" fill="#fff" stroke="#1f4e79" stroke-width="1.7"/>
<line x1="633.20" y1="459.78" x2="633.20" y2="454.55" stroke="#f7931e" stroke-width="1.2"/>
<line x1="630.80" y1="454.55" x2="635.60" y2="454.55" stroke="#f7931e" stroke-width="1.2"/>
<rect x="630.45" y="460.63" width="5.50" height="59.97" fill="#fff" stroke="#f7931e" stroke-width="1.7"/>
<line x1="651.10" y1="456.70" x2="651.10" y2="450.36" stroke="#1f4e79" stroke-width="1.2"/>
<line x1="648.70" y1="450.36" x2="653.50" y2="450.36" stroke="#1f4e79" stroke-width="1.2"/>
<rect x="648.35" y="457.55" width="5.50" height="63.05" fill="#fff" stroke="#1f4e79" stroke-width="1.7"/>
<line x1="661.80" y1="451.28" x2="661.80" y2="443.43" stroke="#f7931e" stroke-width="1.2"/>
<line x1="659.40" y1="443.43" x2="664.20" y2="443.43" stroke="#f7931e" stroke-width="1.2"/>
<rect x="659.05" y="452.13" width="5.50" height="68.47" fill="#fff" stroke="#f7931e" stroke-width="1.7"/>
<line x1="499.90" y1="421.70" x2="499.90" y2="521.50" stroke="#000" stroke-width="1.8"/>
<line x1="499.00" y1="520.60" x2="669.60" y2="520.60" stroke="#000" stroke-width="1.8"/>
<line x1="496.70" y1="520.60" x2="499.90" y2="520.60" stroke="#000" stroke-width="1.5"/>
<text class="ss" x="496.30" y="524.00" font-size="9.6" fill="#000" font-weight="bold" text-anchor="end">0</text>
<line x1="496.70" y1="500.98" x2="499.90" y2="500.98" stroke="#000" stroke-width="1.5"/>
<text class="ss" x="496.30" y="504.38" font-size="9.6" fill="#000" font-weight="bold" text-anchor="end">30</text>
<line x1="496.70" y1="481.36" x2="499.90" y2="481.36" stroke="#000" stroke-width="1.5"/>
<text class="ss" x="496.30" y="484.76" font-size="9.6" fill="#000" font-weight="bold" text-anchor="end">60</text>
<line x1="496.70" y1="461.74" x2="499.90" y2="461.74" stroke="#000" stroke-width="1.5"/>
<text class="ss" x="496.30" y="465.14" font-size="9.6" fill="#000" font-weight="bold" text-anchor="end">90</text>
<line x1="496.70" y1="442.12" x2="499.90" y2="442.12" stroke="#000" stroke-width="1.5"/>
<text class="ss" x="496.30" y="445.52" font-size="9.6" fill="#000" font-weight="bold" text-anchor="end">120</text>
<line x1="496.70" y1="422.50" x2="499.90" y2="422.50" stroke="#000" stroke-width="1.5"/>
<text class="ss" x="496.30" y="425.90" font-size="9.6" fill="#000" font-weight="bold" text-anchor="end">150</text>
<line x1="513.20" y1="520.60" x2="513.20" y2="523.60" stroke="#000" stroke-width="1.4"/>
<line x1="541.80" y1="520.60" x2="541.80" y2="523.60" stroke="#000" stroke-width="1.4"/>
<line x1="570.40" y1="520.60" x2="570.40" y2="523.60" stroke="#000" stroke-width="1.4"/>
<line x1="599.00" y1="520.60" x2="599.00" y2="523.60" stroke="#000" stroke-width="1.4"/>
<line x1="627.60" y1="520.60" x2="627.60" y2="523.60" stroke="#000" stroke-width="1.4"/>
<line x1="656.20" y1="520.60" x2="656.20" y2="523.60" stroke="#000" stroke-width="1.4"/>
<text class="ss" x="575.50" y="424.80" font-size="10.3" fill="#777" font-weight="bold" text-anchor="middle">PC3</text>
<text class="ss" x="466.40" y="466.65" font-size="9.5" fill="#000" font-weight="bold" text-anchor="middle" transform="rotate(-90 466.40 466.65)">Relative Cell Number</text>
<text class="ss" x="479.20" y="466.65" font-size="9.5" fill="#000" font-weight="bold" text-anchor="middle" transform="rotate(-90 479.20 466.65)">(%)</text>
<text class="ss" x="494.30" y="536.00" font-size="10.5" fill="#6b6b6b" text-anchor="end">Erastin</text>
<text class="ss" x="513.20" y="535.50" font-size="10" fill="#555" text-anchor="middle">-</text>
<text class="ss" x="541.80" y="535.50" font-size="10" fill="#555" text-anchor="middle">-</text>
<text class="ss" x="570.40" y="535.50" font-size="10" fill="#555" text-anchor="middle">+</text>
<text class="ss" x="599.00" y="535.50" font-size="10" fill="#555" text-anchor="middle">-</text>
<text class="ss" x="627.60" y="535.50" font-size="10" fill="#555" text-anchor="middle">+</text>
<text class="ss" x="656.20" y="535.50" font-size="10" fill="#555" text-anchor="middle">-</text>
<text class="ss" x="494.30" y="548.10" font-size="10.5" fill="#6b6b6b" text-anchor="end">RSL3</text>
<text class="ss" x="513.20" y="547.60" font-size="10" fill="#555" text-anchor="middle">-</text>
<text class="ss" x="541.80" y="547.60" font-size="10" fill="#555" text-anchor="middle">-</text>
<text class="ss" x="570.40" y="547.60" font-size="10" fill="#555" text-anchor="middle">-</text>
<text class="ss" x="599.00" y="547.60" font-size="10" fill="#555" text-anchor="middle">+</text>
<text class="ss" x="627.60" y="547.60" font-size="10" fill="#555" text-anchor="middle">-</text>
<text class="ss" x="656.20" y="547.60" font-size="10" fill="#555" text-anchor="middle">+</text>
<text class="ss" x="494.30" y="560.10" font-size="10.5" fill="#6b6b6b" text-anchor="end">Fer-1</text>
<text class="ss" x="513.20" y="559.60" font-size="10" fill="#555" text-anchor="middle">-</text>
<text class="ss" x="541.80" y="559.60" font-size="10" fill="#555" text-anchor="middle">+</text>
<text class="ss" x="570.40" y="559.60" font-size="10" fill="#555" text-anchor="middle">-</text>
<text class="ss" x="599.00" y="559.60" font-size="10" fill="#555" text-anchor="middle">-</text>
<text class="ss" x="627.60" y="559.60" font-size="10" fill="#555" text-anchor="middle">+</text>
<text class="ss" x="656.20" y="559.60" font-size="10" fill="#555" text-anchor="middle">+</text>
<!-- i -->
<text class="ss" x="0.40" y="576.00" font-size="23" fill="#000">I</text>
<line x1="67.40" y1="587.27" x2="67.40" y2="585.30" stroke="#1a1a1a" stroke-width="1.3"/>
<line x1="64.40" y1="585.30" x2="70.40" y2="585.30" stroke="#1a1a1a" stroke-width="1.3"/>
<rect x="62.25" y="588.17" width="10.30" height="97.43" fill="#fff" stroke="#1f4e79" stroke-width="1.8"/>
<rect x="64.10" y="584.10" width="2.40" height="2.40" fill="#111" stroke="none" stroke-width="1"/>
<rect x="66.60" y="588.52" width="2.40" height="2.40" fill="#111" stroke="none" stroke-width="1"/>
<rect x="68.60" y="585.08" width="2.40" height="2.40" fill="#111" stroke="none" stroke-width="1"/>
<line x1="85.85" y1="637.42" x2="85.85" y2="634.47" stroke="#f7931e" stroke-width="1.3"/>
<line x1="82.85" y1="634.47" x2="88.85" y2="634.47" stroke="#f7931e" stroke-width="1.3"/>
<rect x="80.70" y="638.32" width="10.30" height="47.28" fill="#fff" stroke="#f7931e" stroke-width="1.8"/>
<path d="M81.6,635.7L84.4,635.7L83.0,633.1Z" fill="#111" stroke="none" stroke-width="1"/>
<path d="M86.9,637.6L89.7,637.6L88.3,635.0Z" fill="#111" stroke="none" stroke-width="1"/>
<path d="M84.2,640.6L87.0,640.6L85.6,638.0Z" fill="#111" stroke="none" stroke-width="1"/>
<line x1="116.55" y1="587.27" x2="116.55" y2="577.43" stroke="#1a1a1a" stroke-width="1.3"/>
<line x1="113.55" y1="577.43" x2="119.55" y2="577.43" stroke="#1a1a1a" stroke-width="1.3"/>
<rect x="111.40" y="588.17" width="10.30" height="97.43" fill="#fff" stroke="#1f4e79" stroke-width="1.8"/>
<rect x="115.30" y="578.20" width="2.40" height="2.40" fill="#111" stroke="none" stroke-width="1"/>
<rect x="115.30" y="585.08" width="2.40" height="2.40" fill="#111" stroke="none" stroke-width="1"/>
<rect x="115.30" y="599.83" width="2.40" height="2.40" fill="#111" stroke="none" stroke-width="1"/>
<rect x="115.30" y="581.15" width="2.40" height="2.40" fill="#111" stroke="none" stroke-width="1"/>
<line x1="134.90" y1="625.12" x2="134.90" y2="621.68" stroke="#f7931e" stroke-width="1.3"/>
<line x1="131.90" y1="621.68" x2="137.90" y2="621.68" stroke="#f7931e" stroke-width="1.3"/>
<rect x="129.75" y="626.02" width="10.30" height="59.58" fill="#fff" stroke="#f7931e" stroke-width="1.8"/>
<path d="M128.9,627.3L131.7,627.3L130.3,624.7Z" fill="#111" stroke="none" stroke-width="1"/>
<path d="M133.5,622.7L136.3,622.7L134.9,620.1Z" fill="#111" stroke="none" stroke-width="1"/>
<path d="M138.1,627.1L140.9,627.1L139.5,624.5Z" fill="#111" stroke="none" stroke-width="1"/>
<text class="ss" x="85.40" y="637.00" font-size="17" fill="#000" text-anchor="middle">*</text>
<text class="ss" x="134.40" y="625.60" font-size="17" fill="#000" text-anchor="middle">*</text>
<line x1="55.50" y1="567.10" x2="55.50" y2="686.50" stroke="#000" stroke-width="1.8"/>
<line x1="54.60" y1="685.60" x2="147.60" y2="685.60" stroke="#000" stroke-width="1.8"/>
<line x1="52.30" y1="685.60" x2="55.50" y2="685.60" stroke="#000" stroke-width="1.5"/>
<text class="ss" x="51.30" y="688.80" font-size="8.9" fill="#000" font-weight="bold" text-anchor="end">0.0</text>
<line x1="52.30" y1="656.10" x2="55.50" y2="656.10" stroke="#000" stroke-width="1.5"/>
<text class="ss" x="51.30" y="659.30" font-size="8.9" fill="#000" font-weight="bold" text-anchor="end">0.3</text>
<line x1="52.30" y1="626.60" x2="55.50" y2="626.60" stroke="#000" stroke-width="1.5"/>
<text class="ss" x="51.30" y="629.80" font-size="8.9" fill="#000" font-weight="bold" text-anchor="end">0.6</text>
<line x1="52.30" y1="597.10" x2="55.50" y2="597.10" stroke="#000" stroke-width="1.5"/>
<text class="ss" x="51.30" y="600.30" font-size="8.9" fill="#000" font-weight="bold" text-anchor="end">0.9</text>
<line x1="52.30" y1="567.60" x2="55.50" y2="567.60" stroke="#000" stroke-width="1.5"/>
<text class="ss" x="51.30" y="570.80" font-size="8.9" fill="#000" font-weight="bold" text-anchor="end">1.2</text>
<line x1="76.30" y1="685.60" x2="76.30" y2="689.10" stroke="#000" stroke-width="1.4"/>
<line x1="125.80" y1="685.60" x2="125.80" y2="689.10" stroke="#000" stroke-width="1.4"/>
<text class="ss" x="34.30" y="625.00" font-size="8.85" fill="#000" font-weight="bold" text-anchor="middle" transform="rotate(-90 34.30 625.00)">Normalized GSH Level</text>
<text class="ss" x="79.50" y="696.50" font-size="9.4" fill="#000" font-weight="bold" text-anchor="end" transform="rotate(-45 79.50 696.50)">LNCAP</text>
<text class="ss" x="129.50" y="696.50" font-size="9.4" fill="#000" font-weight="bold" text-anchor="end" transform="rotate(-45 129.50 696.50)">PC3</text>
<rect x="135.40" y="569.90" width="7.80" height="4.60" fill="#fff" stroke="#1f4e79" stroke-width="1.8"/>
<text class="ss" x="148.00" y="575.50" font-size="9.2" fill="#000" font-weight="bold">Control</text>
<rect x="135.40" y="578.90" width="7.80" height="4.60" fill="#fff" stroke="#f7931e" stroke-width="1.8"/>
<text class="ss" x="148.00" y="584.50" font-size="9.2" fill="#000" font-weight="bold">Palbociclib</text>
<!-- jk -->
<text class="ss" x="198.10" y="576.30" font-size="23" fill="#000">J</text>
<text class="ss" x="420.90" y="576.50" font-size="23.5" fill="#000">K</text>
<line x1="221.50" y1="623.00" x2="400.40" y2="623.00" stroke="#e4e4e4" stroke-width="0.8"/>
<line x1="221.50" y1="643.70" x2="400.40" y2="643.70" stroke="#dce9f7" stroke-width="0.8"/>
<line x1="221.50" y1="664.60" x2="400.40" y2="664.60" stroke="#c5cde0" stroke-width="0.8"/>
<path d="M242.0,623.0L242.0,622.9L243.2,622.9L244.4,622.8L245.6,622.7L246.8,622.6L248.0,622.4L249.2,622.2L250.4,621.9L251.6,621.4L252.8,620.9L254.0,620.1L255.2,619.2L256.4,618.1L257.6,616.7L258.8,615.0L260.0,613.1L261.2,611.0L262.4,608.5L263.6,605.9L264.8,603.1L266.0,600.2L267.2,597.3L268.4,594.5L269.6,591.9L270.8,589.6L272.0,587.6L273.2,586.2L274.4,585.3L275.6,585.0L276.8,585.6L278.0,587.2L279.2,589.7L280.4,593.0L281.6,596.7L282.8,600.6L284.0,604.5L285.2,608.2L286.4,611.4L287.6,614.3L288.8,616.6L290.0,618.4L291.2,619.8L292.4,620.9L293.6,621.6L294.8,622.1L296.0,622.5L297.2,622.7L298.4,622.8L299.6,622.9L300.8,622.9L302.0,623.0L302.0,623.0Z" fill="#b3b3b3" stroke="none" stroke-width="1"/>
<path d="M340.0,643.7L340.0,643.7L340.9,643.6L341.8,643.5L342.8,643.2L343.7,642.7L344.6,641.8L345.5,640.4L346.4,638.2L347.4,635.1L348.3,630.9L349.2,625.9L350.1,620.2L351.0,614.5L352.0,609.4L352.9,605.8L353.8,604.2L354.7,604.3L355.6,605.2L356.6,606.8L357.5,609.0L358.4,611.6L359.3,614.5L360.2,617.7L361.2,621.0L362.1,624.2L363.0,627.2L363.9,630.0L364.8,632.6L365.8,634.8L366.7,636.7L367.6,638.3L368.5,639.6L369.4,640.7L370.4,641.5L371.3,642.1L372.2,642.6L373.1,642.9L374.0,643.2L375.0,643.4L375.9,643.5L376.8,643.6L377.7,643.6L378.6,643.6L379.6,643.7L380.5,643.7L381.4,643.7L382.3,643.7L383.2,643.7L384.2,643.7L385.1,643.7L386.0,643.7L386.0,643.7Z" fill="#a9d2f8" stroke="none" stroke-width="1"/>
<path d="M349.0,664.6L349.0,664.6L350.0,664.6L351.0,664.6L352.0,664.5L353.0,664.4L354.1,664.2L355.1,663.8L356.1,663.2L357.1,662.2L358.1,660.7L359.1,658.5L360.1,655.5L361.1,651.7L362.1,647.1L363.1,642.1L364.1,636.8L365.2,632.0L366.2,628.2L367.2,625.8L368.2,625.2L369.2,625.6L370.2,626.4L371.2,627.8L372.2,629.5L373.2,631.6L374.2,634.0L375.3,636.6L376.3,639.3L377.3,642.0L378.3,644.7L379.3,647.3L380.3,649.8L381.3,652.1L382.3,654.1L383.3,656.0L384.4,657.6L385.4,659.0L386.4,660.1L387.4,661.1L388.4,661.9L389.4,662.6L390.4,663.1L391.4,663.5L392.4,663.8L393.4,664.0L394.4,664.2L395.5,664.3L396.5,664.4L397.5,664.5L398.5,664.5L399.5,664.5L399.5,664.6Z" fill="#0a2a55" stroke="none" stroke-width="1"/>
<path d="M349.0,684.7L349.0,684.7L349.9,684.6L350.7,684.6L351.6,684.5L352.4,684.3L353.3,684.1L354.2,683.7L355.0,683.1L355.9,682.2L356.7,680.9L357.6,679.2L358.5,677.1L359.3,674.4L360.2,671.2L361.0,667.5L361.9,663.6L362.8,659.6L363.6,655.7L364.5,652.4L365.3,649.8L366.2,648.1L367.1,647.6L367.9,647.9L368.8,648.6L369.6,649.7L370.5,651.2L371.4,653.0L372.2,655.0L373.1,657.3L373.9,659.7L374.8,662.2L375.7,664.7L376.5,667.1L377.4,669.4L378.2,671.6L379.1,673.6L380.0,675.4L380.8,677.0L381.7,678.4L382.5,679.6L383.4,680.6L384.3,681.5L385.1,682.2L386.0,682.8L386.8,683.2L387.7,683.6L388.6,683.9L389.4,684.1L390.3,684.3L391.1,684.4L392.0,684.5L392.0,684.7Z" fill="#ff7f0a" stroke="none" stroke-width="1"/>
<path d="M221.5,684.7V581.4H400.4V684.7" fill="none" stroke="#7a7a7a" stroke-width="0.9"/>
<line x1="221.50" y1="581.40" x2="221.50" y2="684.70" stroke="#333" stroke-width="0.9"/>
<line x1="221.50" y1="684.70" x2="400.40" y2="684.70" stroke="#111" stroke-width="1.0"/>
<path d="M230.7,684.7V687.3M237.5,684.7V686.1M241.6,684.7V686.1M244.4,684.7V686.1M246.6,684.7V686.1M248.4,684.7V686.1M249.9,684.7V686.1M251.2,684.7V686.1M252.4,684.7V686.1M253.4,684.7V687.3M260.3,684.7V686.1M264.3,684.7V686.1M267.1,684.7V686.1M269.4,684.7V686.1M271.2,684.7V686.1M272.7,684.7V686.1M274.0,684.7V686.1M275.2,684.7V686.1M276.2,684.7V687.3M284.7,684.7V686.1M289.6,684.7V686.1M293.1,684.7V686.1M295.8,684.7V686.1M298.1,684.7V686.1M299.9,684.7V686.1M301.6,684.7V686.1M303.0,684.7V686.1M304.3,684.7V687.3M312.8,684.7V686.1M317.7,684.7V686.1M321.2,684.7V686.1M323.9,684.7V686.1M326.2,684.7V686.1M328.0,684.7V686.1M329.7,684.7V686.1M331.1,684.7V686.1M332.4,684.7V687.3M340.6,684.7V686.1M345.4,684.7V686.1M348.7,684.7V686.1M351.4,684.7V686.1M353.5,684.7V686.1M355.3,684.7V686.1M356.9,684.7V686.1M358.3,684.7V686.1M359.5,684.7V687.3M367.7,684.7V686.1M372.5,684.7V686.1M375.9,684.7V686.1M378.5,684.7V686.1M380.7,684.7V686.1M382.5,684.7V686.1M384.1,684.7V686.1M385.5,684.7V686.1M386.7,684.7V687.3M221.6,684.7V686.1M223.9,684.7V686.1M225.7,684.7V686.1M227.2,684.7V686.1M228.5,684.7V686.1M229.7,684.7V686.1M386.7,684.7V686.1M394.9,684.7V686.1M399.7,684.7V686.1M221.5,684.7V687.3M400.4,684.7V687.3" fill="none" stroke="#222" stroke-width="0.6"/>
<text class="ss" x="229.2" y="694.9" font-size="5.2" fill="#444" text-anchor="middle">10<tspan font-size="3.8" dy="-2.2">1</tspan></text>
<text class="ss" x="274.7" y="694.9" font-size="5.2" fill="#444" text-anchor="middle">10<tspan font-size="3.8" dy="-2.2">3</tspan></text>
<text class="ss" x="330.9" y="694.9" font-size="5.2" fill="#444" text-anchor="middle">10<tspan font-size="3.8" dy="-2.2">5</tspan></text>
<text class="ss" x="385.2" y="694.9" font-size="5.2" fill="#444" text-anchor="middle">10<tspan font-size="3.8" dy="-2.2">7</tspan></text>
<rect x="231.20" y="634.00" width="10.00" height="6.00" fill="#c6c6c6" stroke="none" stroke-width="1"/>
<text class="ss" x="241.40" y="639.80" font-size="8" fill="#555">Control-NC</text>
<rect x="231.20" y="646.30" width="10.00" height="6.00" fill="#aad3f8" stroke="none" stroke-width="1"/>
<text class="ss" x="241.4" y="652.1" font-size="8" fill="#555">Control-Fe<tspan font-size="5.2" dy="-3">2+</tspan></text>
<rect x="231.20" y="658.30" width="10.00" height="6.00" fill="#0b2a55" stroke="none" stroke-width="1"/>
<text class="ss" x="241.4" y="664.1" font-size="8" fill="#555">Erastin-Fe<tspan font-size="5.2" dy="-3">2+</tspan></text>
<rect x="231.20" y="670.00" width="10.00" height="6.00" fill="#ff7f0a" stroke="none" stroke-width="1"/>
<text class="ss" x="241.4" y="675.8" font-size="8" fill="#555">Palbociclib-Fe<tspan font-size="5.2" dy="-3">2+</tspan></text>
<text class="ss" x="396.40" y="593.60" font-size="10.3" fill="#555" font-weight="bold" text-anchor="end">LNCaP</text>
<text class="ss" x="210.80" y="633.60" font-size="12" fill="#666" text-anchor="middle" transform="rotate(-90 210.80 633.60)">Count</text>
<text class="ss" x="300.40" y="702.40" font-size="10.5" fill="#666">PE-A</text>
<path d="M222,623V600.5L222.6,600.5L223.2,623Z" fill="#b3b3b3" stroke="none" stroke-width="1"/>
<line x1="462.90" y1="622.30" x2="641.70" y2="622.30" stroke="#e4e4e4" stroke-width="0.8"/>
<line x1="462.90" y1="643.40" x2="641.70" y2="643.40" stroke="#dce9f7" stroke-width="0.8"/>
<line x1="462.90" y1="664.20" x2="641.70" y2="664.20" stroke="#c5cde0" stroke-width="0.8"/>
<path d="M466.0,622.3L466.0,622.3L467.2,622.3L468.5,622.2L469.7,622.2L471.0,622.1L472.2,622.1L473.4,621.9L474.7,621.8L475.9,621.6L477.2,621.3L478.4,620.9L479.6,620.3L480.9,619.7L482.1,618.8L483.4,617.8L484.6,616.5L485.8,615.0L487.1,613.2L488.3,611.1L489.6,608.8L490.8,606.3L492.0,603.6L493.3,600.8L494.5,597.9L495.8,595.1L497.0,592.4L498.2,589.9L499.5,587.8L500.7,586.1L502.0,584.9L503.2,584.2L504.4,584.2L505.7,585.5L506.9,588.1L508.2,591.8L509.4,596.2L510.6,600.8L511.9,605.3L513.1,609.4L514.4,612.8L515.6,615.7L516.8,617.8L518.1,619.4L519.3,620.5L520.6,621.2L521.8,621.7L523.0,622.0L524.3,622.1L525.5,622.2L526.8,622.3L528.0,622.3L528.0,622.3Z" fill="#b3b3b3" stroke="none" stroke-width="1"/>
<path d="M550.0,642.8L550.0,642.8L550.9,642.8L551.8,642.8L552.8,642.8L553.7,642.8L554.6,642.8L555.5,642.7L556.4,642.7L557.4,642.6L558.3,642.5L559.2,642.4L560.1,642.1L561.0,641.8L562.0,641.4L562.9,640.8L563.8,640.0L564.7,639.0L565.6,637.6L566.6,636.0L567.5,634.1L568.4,631.7L569.3,629.1L570.2,626.2L571.2,623.0L572.1,619.7L573.0,616.4L573.9,613.2L574.8,610.3L575.8,607.8L576.7,605.8L577.6,604.6L578.5,604.0L579.4,604.5L580.4,606.4L581.3,609.6L582.2,613.8L583.1,618.3L584.0,623.0L585.0,627.4L585.9,631.3L586.8,634.6L587.7,637.1L588.6,639.0L589.6,640.4L590.5,641.3L591.4,641.9L592.3,642.3L593.2,642.5L594.2,642.7L595.1,642.7L596.0,642.8L596.0,642.8Z" fill="#a9d2f8" stroke="none" stroke-width="1"/>
<path d="M575.0,663.6L575.0,663.6L575.9,663.6L576.8,663.6L577.7,663.6L578.6,663.6L579.5,663.6L580.4,663.5L581.3,663.5L582.2,663.4L583.1,663.3L584.0,663.1L584.9,662.7L585.8,662.2L586.7,661.5L587.6,660.4L588.5,659.0L589.4,657.1L590.3,654.8L591.2,651.9L592.1,648.6L593.0,644.8L593.9,640.9L594.8,636.9L595.7,633.1L596.6,629.9L597.5,627.4L598.4,625.8L599.3,625.4L600.2,626.1L601.1,627.9L602.0,630.6L602.9,633.9L603.8,637.8L604.7,641.8L605.6,645.7L606.5,649.3L607.4,652.6L608.3,655.3L609.2,657.6L610.1,659.4L611.0,660.7L611.9,661.7L612.8,662.4L613.7,662.8L614.6,663.1L615.5,663.3L616.4,663.4L617.3,663.5L618.2,663.6L619.1,663.6L620.0,663.6L620.0,663.6Z" fill="#0a0a55" stroke="none" stroke-width="1"/>
<path d="M577.0,683.6L577.0,683.6L577.7,683.6L578.4,683.5L579.2,683.5L579.9,683.5L580.6,683.4L581.3,683.2L582.0,683.0L582.8,682.8L583.5,682.4L584.2,681.8L584.9,681.1L585.6,680.1L586.4,678.9L587.1,677.4L587.8,675.5L588.5,673.3L589.2,670.8L590.0,668.0L590.7,665.0L591.4,661.8L592.1,658.6L592.8,655.5L593.6,652.7L594.3,650.3L595.0,648.5L595.7,647.3L596.4,646.9L597.2,647.2L597.9,648.3L598.6,650.0L599.3,652.3L600.0,655.0L600.8,658.1L601.5,661.3L602.2,664.4L602.9,667.5L603.6,670.4L604.4,672.9L605.1,675.2L605.8,677.1L606.5,678.7L607.2,679.9L608.0,680.9L608.7,681.7L609.4,682.3L610.1,682.7L610.8,683.0L611.6,683.2L612.3,683.3L613.0,683.4L613.0,683.6Z" fill="#ff7f0a" stroke="none" stroke-width="1"/>
<path d="M462.9,683.6V580.4H641.7V683.6" fill="none" stroke="#7a7a7a" stroke-width="0.9"/>
<line x1="462.90" y1="580.40" x2="462.90" y2="683.60" stroke="#333" stroke-width="0.9"/>
<line x1="462.90" y1="683.60" x2="641.70" y2="683.60" stroke="#111" stroke-width="1.0"/>
<path d="M473.2,683.6V686.2M479.4,683.6V685.0M483.1,683.6V685.0M485.6,683.6V685.0M487.6,683.6V685.0M489.3,683.6V685.0M490.7,683.6V685.0M491.8,683.6V685.0M492.9,683.6V685.0M493.9,683.6V686.2M500.1,683.6V685.0M503.7,683.6V685.0M506.3,683.6V685.0M508.3,683.6V685.0M509.9,683.6V685.0M511.3,683.6V685.0M512.5,683.6V685.0M513.6,683.6V685.0M514.5,683.6V686.2M522.0,683.6V685.0M526.3,683.6V685.0M529.4,683.6V685.0M531.8,683.6V685.0M533.8,683.6V685.0M535.4,683.6V685.0M536.9,683.6V685.0M538.1,683.6V685.0M539.2,683.6V686.2M546.7,683.6V685.0M551.1,683.6V685.0M554.2,683.6V685.0M556.5,683.6V685.0M558.5,683.6V685.0M560.2,683.6V685.0M561.6,683.6V685.0M562.9,683.6V685.0M564.0,683.6V686.2M570.8,683.6V685.0M574.7,683.6V685.0M577.5,683.6V685.0M579.7,683.6V685.0M581.5,683.6V685.0M583.0,683.6V685.0M584.3,683.6V685.0M585.5,683.6V685.0M586.5,683.6V686.2M593.3,683.6V685.0M597.2,683.6V685.0M600.0,683.6V685.0M602.2,683.6V685.0M604.0,683.6V685.0M605.5,683.6V685.0M606.8,683.6V685.0M608.0,683.6V685.0M609.0,683.6V686.2M465.0,683.6V685.0M467.0,683.6V685.0M468.6,683.6V685.0M470.0,683.6V685.0M471.2,683.6V685.0M472.3,683.6V685.0M609.0,683.6V685.0M615.8,683.6V685.0M619.7,683.6V685.0M622.5,683.6V685.0M624.7,683.6V685.0M626.5,683.6V685.0M628.0,683.6V685.0M629.3,683.6V685.0M630.5,683.6V685.0M462.9,683.6V686.2M641.7,683.6V686.2" fill="none" stroke="#222" stroke-width="0.6"/>
<text class="ss" x="471.7" y="693.8" font-size="5.2" fill="#444" text-anchor="middle">10<tspan font-size="3.8" dy="-2.2">1</tspan></text>
<text class="ss" x="513.0" y="693.8" font-size="5.2" fill="#444" text-anchor="middle">10<tspan font-size="3.8" dy="-2.2">3</tspan></text>
<text class="ss" x="562.5" y="693.8" font-size="5.2" fill="#444" text-anchor="middle">10<tspan font-size="3.8" dy="-2.2">5</tspan></text>
<text class="ss" x="607.5" y="693.8" font-size="5.2" fill="#444" text-anchor="middle">10<tspan font-size="3.8" dy="-2.2">7</tspan></text>
<rect x="468.10" y="634.00" width="10.00" height="6.00" fill="#c6c6c6" stroke="none" stroke-width="1"/>
<text class="ss" x="478.30" y="639.80" font-size="8" fill="#555">Control-NC</text>
<rect x="468.10" y="646.30" width="10.00" height="6.00" fill="#aad3f8" stroke="none" stroke-width="1"/>
<text class="ss" x="478.3" y="652.1" font-size="8" fill="#555">Control-Fe<tspan font-size="5.2" dy="-3">2+</tspan></text>
<rect x="468.10" y="658.30" width="10.00" height="6.00" fill="#0b2a55" stroke="none" stroke-width="1"/>
<text class="ss" x="478.3" y="664.1" font-size="8" fill="#555">Erastin-Fe<tspan font-size="5.2" dy="-3">2+</tspan></text>
<rect x="468.10" y="670.00" width="10.00" height="6.00" fill="#ff7f0a" stroke="none" stroke-width="1"/>
<text class="ss" x="478.3" y="675.8" font-size="8" fill="#555">Palbociclib-Fe<tspan font-size="5.2" dy="-3">2+</tspan></text>
<text class="ss" x="637.40" y="592.70" font-size="10.3" fill="#555" font-weight="bold" text-anchor="end">PC3</text>
<text class="ss" x="451.20" y="631.50" font-size="12" fill="#666" text-anchor="middle" transform="rotate(-90 451.20 631.50)">Count</text>
<text class="ss" x="527.30" y="701.00" font-size="10.5" fill="#666">PE-A</text>
<!-- l -->
<text class="ss" x="-0.35" y="731.20" font-size="22.5" fill="#000">L</text>
<text class="ss" x="82.30" y="731.20" font-size="10.5" fill="#555" text-anchor="middle">Control</text>
<text class="ss" x="211.70" y="731.20" font-size="10.5" fill="#555" text-anchor="middle">Erastin</text>
<text class="ss" x="342.70" y="731.20" font-size="10.5" fill="#555" text-anchor="middle">Palbciclib</text>
<g clip-path="url(#ct0)"><rect x="28.80" y="737.90" width="121.10" height="83.60" fill="url(#bgc)" stroke="none" stroke-width="1"/><path d="M29,749.4 C35,748.6 41,748.2 50,748.6 C42,749.4 37,749.8 34,750.3 C39,751 44,751.8 50,753 C41,752.6 35,751.6 29,751 Z" fill="#2a2a2a" stroke="none" stroke-width="1" filter="url(#bl1)"/><ellipse cx="96.5" cy="779.5" rx="47" ry="40.5" fill="#adadad" filter="url(#fuzz)"/><circle cx="60.5" cy="749.3" r="0.8" fill="#a0a0a0"/><circle cx="143.4" cy="764.2" r="0.9" fill="#a0a0a0"/><circle cx="143.3" cy="786.9" r="0.9" fill="#a0a0a0"/><circle cx="65.8" cy="743.6" r="0.5" fill="#a0a0a0"/><circle cx="51.8" cy="787.1" r="0.7" fill="#a0a0a0"/><circle cx="57.7" cy="762.8" r="0.5" fill="#a0a0a0"/><circle cx="86.9" cy="823.4" r="0.8" fill="#a0a0a0"/><circle cx="123.8" cy="816.4" r="0.5" fill="#a0a0a0"/><circle cx="63.6" cy="753.7" r="0.4" fill="#a0a0a0"/><circle cx="127.7" cy="751.3" r="0.5" fill="#a0a0a0"/><circle cx="147.6" cy="774.6" r="0.5" fill="#a0a0a0"/><circle cx="143.4" cy="769.5" r="0.7" fill="#a0a0a0"/><circle cx="111.1" cy="822.6" r="0.7" fill="#a0a0a0"/><circle cx="147.0" cy="770.2" r="0.5" fill="#a0a0a0"/><circle cx="67.7" cy="809.1" r="0.5" fill="#a0a0a0"/><circle cx="138.8" cy="795.3" r="0.7" fill="#a0a0a0"/><circle cx="146.1" cy="780.4" r="0.6" fill="#a0a0a0"/><circle cx="77.8" cy="820.3" r="0.6" fill="#a0a0a0"/><circle cx="77.3" cy="817.2" r="0.8" fill="#a0a0a0"/><circle cx="145.6" cy="795.3" r="0.4" fill="#a0a0a0"/><circle cx="96.4" cy="735.4" r="0.4" fill="#a0a0a0"/><circle cx="107.5" cy="740.4" r="0.7" fill="#a0a0a0"/><circle cx="140.1" cy="781.6" r="0.5" fill="#a0a0a0"/><circle cx="139.8" cy="768.7" r="0.8" fill="#a0a0a0"/><circle cx="143.6" cy="760.3" r="0.6" fill="#a0a0a0"/><circle cx="67.0" cy="812.3" r="0.8" fill="#a0a0a0"/><circle cx="135.6" cy="806.7" r="0.8" fill="#a0a0a0"/><circle cx="124.2" cy="750.5" r="0.9" fill="#a0a0a0"/><circle cx="135.5" cy="801.2" r="0.7" fill="#a0a0a0"/><circle cx="136.9" cy="759.8" r="0.9" fill="#a0a0a0"/><circle cx="52.2" cy="768.4" r="0.6" fill="#a0a0a0"/><circle cx="115.9" cy="813.5" r="0.5" fill="#a0a0a0"/><circle cx="76.9" cy="737.4" r="0.5" fill="#a0a0a0"/><circle cx="146.6" cy="793.1" r="0.7" fill="#a0a0a0"/><circle cx="58.7" cy="801.3" r="0.7" fill="#a0a0a0"/><circle cx="118.4" cy="743.2" r="0.6" fill="#a0a0a0"/><circle cx="145.2" cy="794.8" r="0.4" fill="#a0a0a0"/><circle cx="45.4" cy="781.3" r="0.5" fill="#a0a0a0"/><circle cx="90.5" cy="734.8" r="0.7" fill="#a0a0a0"/><circle cx="107.0" cy="742.5" r="0.6" fill="#a0a0a0"/><circle cx="126.8" cy="815.1" r="0.5" fill="#a0a0a0"/><circle cx="46.1" cy="792.7" r="0.8" fill="#a0a0a0"/><circle cx="143.5" cy="773.4" r="0.6" fill="#a0a0a0"/><circle cx="90.4" cy="738.7" r="0.5" fill="#a0a0a0"/><circle cx="59.8" cy="801.4" r="0.6" fill="#a0a0a0"/><circle cx="148.6" cy="776.2" r="0.7" fill="#a0a0a0"/><circle cx="50.1" cy="779.7" r="0.4" fill="#a0a0a0"/><circle cx="89.4" cy="822.7" r="0.8" fill="#a0a0a0"/><circle cx="63.9" cy="812.9" r="0.8" fill="#a0a0a0"/><circle cx="79.6" cy="739.4" r="0.8" fill="#a0a0a0"/><circle cx="63.9" cy="812.0" r="0.5" fill="#a0a0a0"/><circle cx="46.2" cy="783.4" r="0.7" fill="#a0a0a0"/><circle cx="82.3" cy="822.7" r="0.7" fill="#a0a0a0"/><circle cx="58.6" cy="761.4" r="0.7" fill="#a0a0a0"/><circle cx="96.3" cy="822.2" r="0.6" fill="#a0a0a0"/><circle cx="116.6" cy="740.7" r="0.8" fill="#a0a0a0"/><circle cx="68.1" cy="814.2" r="0.8" fill="#a0a0a0"/><circle cx="118.5" cy="744.1" r="0.8" fill="#a0a0a0"/><circle cx="130.5" cy="748.3" r="0.9" fill="#a0a0a0"/><circle cx="142.8" cy="768.3" r="0.7" fill="#a0a0a0"/><circle cx="122.2" cy="817.6" r="0.9" fill="#a0a0a0"/><circle cx="47.3" cy="785.6" r="0.8" fill="#a0a0a0"/><circle cx="91.0" cy="741.1" r="0.8" fill="#a0a0a0"/><circle cx="53.3" cy="758.8" r="0.6" fill="#a0a0a0"/><circle cx="60.5" cy="749.0" r="0.7" fill="#a0a0a0"/><circle cx="88.5" cy="742.7" r="0.5" fill="#a0a0a0"/><circle cx="50.5" cy="794.9" r="0.5" fill="#a0a0a0"/><circle cx="77.2" cy="740.5" r="0.4" fill="#a0a0a0"/><circle cx="51.9" cy="786.4" r="0.4" fill="#a0a0a0"/><circle cx="127.4" cy="809.1" r="0.5" fill="#a0a0a0"/><circle cx="111.7" cy="814.7" r="0.6" fill="#a0a0a0"/><circle cx="60.7" cy="808.3" r="0.7" fill="#a0a0a0"/><circle cx="100.4" cy="823.9" r="0.4" fill="#a0a0a0"/><circle cx="58.5" cy="801.6" r="0.6" fill="#a0a0a0"/><circle cx="134.8" cy="808.6" r="0.6" fill="#a0a0a0"/><circle cx="144.3" cy="789.0" r="0.4" fill="#a0a0a0"/><circle cx="51.9" cy="768.3" r="0.7" fill="#a0a0a0"/><circle cx="145.7" cy="768.1" r="0.6" fill="#a0a0a0"/><circle cx="115.5" cy="740.3" r="0.6" fill="#a0a0a0"/><circle cx="127.1" cy="812.3" r="0.7" fill="#a0a0a0"/><circle cx="147.0" cy="767.5" r="0.7" fill="#a0a0a0"/><circle cx="65.9" cy="815.3" r="0.4" fill="#a0a0a0"/><circle cx="134.3" cy="805.7" r="0.7" fill="#a0a0a0"/><circle cx="127.7" cy="812.3" r="0.8" fill="#a0a0a0"/><circle cx="62.9" cy="808.2" r="0.5" fill="#a0a0a0"/><circle cx="83.0" cy="823.1" r="0.6" fill="#a0a0a0"/><circle cx="146.8" cy="768.7" r="0.7" fill="#a0a0a0"/><circle cx="93.3" cy="824.6" r="0.6" fill="#a0a0a0"/><circle cx="56.6" cy="799.7" r="0.9" fill="#a0a0a0"/><circle cx="50.6" cy="781.5" r="0.6" fill="#a0a0a0"/><g filter="url(#nz1)"><ellipse cx="96.5" cy="780" rx="44.5" ry="38" fill="#878787"/></g><ellipse cx="114" cy="772" rx="27" ry="22" fill="#a2a2a2" opacity="0.45" filter="url(#bl2)"/><path d="M92,760 C100,752 120,752 132,760 C140,770 138,785 128,793 C118,798 104,794 96,786" fill="none" stroke="#7a7a7a" stroke-width="0.5" opacity="0.7"/><g filter="url(#bl1)" opacity="0.85"><ellipse cx="96.0" cy="806.3" rx="1.9" ry="1.4" fill="#5a5a5a" transform="rotate(39 96.0 806.3)"/><ellipse cx="91.2" cy="774.7" rx="1.7" ry="1.2" fill="#5a5a5a" transform="rotate(42 91.2 774.7)"/><ellipse cx="100.8" cy="792.2" rx="1.8" ry="1.7" fill="#5a5a5a" transform="rotate(143 100.8 792.2)"/><ellipse cx="86.4" cy="801.6" rx="1.1" ry="0.6" fill="#5a5a5a" transform="rotate(133 86.4 801.6)"/><ellipse cx="99.4" cy="780.9" rx="1.0" ry="0.8" fill="#5a5a5a" transform="rotate(90 99.4 780.9)"/><ellipse cx="103.9" cy="805.0" rx="1.5" ry="1.3" fill="#5a5a5a" transform="rotate(147 103.9 805.0)"/><ellipse cx="102.7" cy="805.6" rx="1.6" ry="1.1" fill="#5a5a5a" transform="rotate(62 102.7 805.6)"/><ellipse cx="73.8" cy="792.8" rx="1.1" ry="0.6" fill="#5a5a5a" transform="rotate(42 73.8 792.8)"/><ellipse cx="87.2" cy="783.0" rx="2.4" ry="1.4" fill="#5a5a5a" transform="rotate(136 87.2 783.0)"/><ellipse cx="86.6" cy="776.8" rx="2.0" ry="1.8" fill="#5a5a5a" transform="rotate(86 86.6 776.8)"/><ellipse cx="90.4" cy="784.1" rx="2.3" ry="1.3" fill="#5a5a5a" transform="rotate(74 90.4 784.1)"/><ellipse cx="73.4" cy="802.1" rx="1.5" ry="0.9" fill="#5a5a5a" transform="rotate(70 73.4 802.1)"/><ellipse cx="92.8" cy="793.0" rx="2.0" ry="1.1" fill="#5a5a5a" transform="rotate(89 92.8 793.0)"/><ellipse cx="65.7" cy="792.8" rx="2.0" ry="1.7" fill="#5a5a5a" transform="rotate(110 65.7 792.8)"/><ellipse cx="65.8" cy="786.5" rx="1.3" ry="1.1" fill="#5a5a5a" transform="rotate(63 65.8 786.5)"/><ellipse cx="98.7" cy="786.8" rx="1.8" ry="1.5" fill="#5a5a5a" transform="rotate(19 98.7 786.8)"/><ellipse cx="106.5" cy="799.2" rx="2.1" ry="1.6" fill="#5a5a5a" transform="rotate(123 106.5 799.2)"/><ellipse cx="73.9" cy="775.1" rx="2.3" ry="1.8" fill="#5a5a5a" transform="rotate(178 73.9 775.1)"/><ellipse cx="104.4" cy="788.3" rx="2.2" ry="1.6" fill="#5a5a5a" transform="rotate(68 104.4 788.3)"/><ellipse cx="85.4" cy="810.7" rx="1.2" ry="1.2" fill="#5a5a5a" transform="rotate(145 85.4 810.7)"/><ellipse cx="87.7" cy="778.3" rx="2.2" ry="2.1" fill="#5a5a5a" transform="rotate(46 87.7 778.3)"/><ellipse cx="80.8" cy="804.6" rx="1.2" ry="1.2" fill="#5a5a5a" transform="rotate(61 80.8 804.6)"/><ellipse cx="105.8" cy="780.3" rx="2.0" ry="1.5" fill="#5a5a5a" transform="rotate(45 105.8 780.3)"/><ellipse cx="103.2" cy="788.3" rx="2.0" ry="2.0" fill="#5a5a5a" transform="rotate(38 103.2 788.3)"/><ellipse cx="97.2" cy="776.8" rx="2.2" ry="1.5" fill="#5a5a5a" transform="rotate(77 97.2 776.8)"/><ellipse cx="64.1" cy="783.0" rx="1.4" ry="1.0" fill="#5a5a5a" transform="rotate(50 64.1 783.0)"/><ellipse cx="85.3" cy="790.0" rx="2.0" ry="1.1" fill="#5a5a5a" transform="rotate(4 85.3 790.0)"/><ellipse cx="67.6" cy="783.1" rx="2.2" ry="1.5" fill="#5a5a5a" transform="rotate(46 67.6 783.1)"/><ellipse cx="63.9" cy="802.9" rx="2.3" ry="2.0" fill="#5a5a5a" transform="rotate(17 63.9 802.9)"/><ellipse cx="88.4" cy="793.8" rx="1.6" ry="1.5" fill="#5a5a5a" transform="rotate(156 88.4 793.8)"/><ellipse cx="79.8" cy="786.1" rx="1.8" ry="1.4" fill="#5a5a5a" transform="rotate(89 79.8 786.1)"/><ellipse cx="87.0" cy="800.0" rx="1.3" ry="1.0" fill="#5a5a5a" transform="rotate(128 87.0 800.0)"/><ellipse cx="79.7" cy="790.7" rx="2.0" ry="1.2" fill="#5a5a5a" transform="rotate(139 79.7 790.7)"/><ellipse cx="85.6" cy="790.3" rx="1.6" ry="1.6" fill="#5a5a5a" transform="rotate(138 85.6 790.3)"/><ellipse cx="94.9" cy="807.0" rx="1.4" ry="0.9" fill="#5a5a5a" transform="rotate(56 94.9 807.0)"/><ellipse cx="100.7" cy="795.2" rx="1.4" ry="0.8" fill="#5a5a5a" transform="rotate(53 100.7 795.2)"/><ellipse cx="65.7" cy="791.7" rx="2.3" ry="2.2" fill="#5a5a5a" transform="rotate(108 65.7 791.7)"/><ellipse cx="62.7" cy="791.1" rx="2.4" ry="1.9" fill="#5a5a5a" transform="rotate(126 62.7 791.1)"/><ellipse cx="65.8" cy="789.6" rx="1.1" ry="0.7" fill="#5a5a5a" transform="rotate(176 65.8 789.6)"/><ellipse cx="76.0" cy="800.9" rx="2.4" ry="2.2" fill="#5a5a5a" transform="rotate(14 76.0 800.9)"/><ellipse cx="106.0" cy="800.0" rx="2.1" ry="1.5" fill="#5a5a5a" transform="rotate(112 106.0 800.0)"/><ellipse cx="105.7" cy="794.0" rx="1.6" ry="1.1" fill="#5a5a5a" transform="rotate(70 105.7 794.0)"/><ellipse cx="74.9" cy="797.5" rx="1.1" ry="0.8" fill="#5a5a5a" transform="rotate(44 74.9 797.5)"/><ellipse cx="78.3" cy="774.7" rx="2.0" ry="1.5" fill="#5a5a5a" transform="rotate(43 78.3 774.7)"/><ellipse cx="71.4" cy="801.2" rx="1.9" ry="1.1" fill="#5a5a5a" transform="rotate(15 71.4 801.2)"/><ellipse cx="66.9" cy="793.8" rx="2.0" ry="1.2" fill="#5a5a5a" transform="rotate(140 66.9 793.8)"/><ellipse cx="84.3" cy="757.1" rx="0.9" ry="0.5" fill="#555" transform="rotate(33 84.3 757.1)"/><ellipse cx="87.0" cy="763.0" rx="1.3" ry="0.7" fill="#555" transform="rotate(42 87.0 763.0)"/><ellipse cx="86.6" cy="756.7" rx="1.6" ry="0.9" fill="#555" transform="rotate(123 86.6 756.7)"/><ellipse cx="89.0" cy="754.5" rx="1.0" ry="0.6" fill="#555" transform="rotate(106 89.0 754.5)"/><ellipse cx="78.1" cy="761.6" rx="1.8" ry="1.3" fill="#555" transform="rotate(169 78.1 761.6)"/><ellipse cx="81.8" cy="749.3" rx="1.5" ry="1.0" fill="#555" transform="rotate(110 81.8 749.3)"/><ellipse cx="79.4" cy="766.8" rx="1.2" ry="0.8" fill="#555" transform="rotate(172 79.4 766.8)"/><ellipse cx="77.4" cy="755.2" rx="1.8" ry="1.2" fill="#555" transform="rotate(33 77.4 755.2)"/><ellipse cx="88.3" cy="760.0" rx="0.9" ry="0.5" fill="#555" transform="rotate(91 88.3 760.0)"/><ellipse cx="72.4" cy="757.4" rx="1.6" ry="0.9" fill="#555" transform="rotate(55 72.4 757.4)"/><ellipse cx="73.6" cy="762.9" rx="1.2" ry="0.8" fill="#555" transform="rotate(98 73.6 762.9)"/><ellipse cx="71.0" cy="761.0" rx="1.5" ry="1.4" fill="#555" transform="rotate(179 71.0 761.0)"/><ellipse cx="75.1" cy="762.7" rx="1.3" ry="0.8" fill="#555" transform="rotate(171 75.1 762.7)"/><ellipse cx="72.4" cy="757.6" rx="1.0" ry="0.6" fill="#555" transform="rotate(31 72.4 757.6)"/><ellipse cx="73.2" cy="756.5" rx="1.3" ry="1.0" fill="#555" transform="rotate(34 73.2 756.5)"/><ellipse cx="88.5" cy="759.5" rx="1.8" ry="1.2" fill="#555" transform="rotate(36 88.5 759.5)"/><ellipse cx="79.1" cy="756.1" rx="1.4" ry="0.8" fill="#555" transform="rotate(166 79.1 756.1)"/><ellipse cx="69.3" cy="760.0" rx="1.4" ry="1.0" fill="#555" transform="rotate(105 69.3 760.0)"/><ellipse cx="90.3" cy="757.6" rx="1.4" ry="0.9" fill="#555" transform="rotate(116 90.3 757.6)"/><ellipse cx="73.6" cy="764.3" rx="1.8" ry="1.2" fill="#555" transform="rotate(170 73.6 764.3)"/><ellipse cx="88.4" cy="758.7" rx="1.6" ry="1.3" fill="#555" transform="rotate(31 88.4 758.7)"/><ellipse cx="77.2" cy="752.5" rx="1.2" ry="1.2" fill="#555" transform="rotate(174 77.2 752.5)"/></g><ellipse cx="103.8" cy="767.2" rx="4.5" ry="4.2" fill="#3a3a3a" filter="url(#bl1)"/></g>
<g clip-path="url(#ct1)"><rect x="156.70" y="737.90" width="120.20" height="83.60" fill="#dadada" stroke="none" stroke-width="1"/><ellipse cx="210.8" cy="773.5" rx="37" ry="30.5" fill="#a3a3a3" filter="url(#fuzz)"/><circle cx="245.6" cy="775.7" r="0.6" fill="#9a9a9a"/><circle cx="196.6" cy="747.1" r="0.5" fill="#9a9a9a"/><circle cx="215.3" cy="806.0" r="0.5" fill="#9a9a9a"/><circle cx="208.5" cy="741.5" r="0.5" fill="#9a9a9a"/><circle cx="174.4" cy="766.7" r="0.6" fill="#9a9a9a"/><circle cx="245.5" cy="772.8" r="0.4" fill="#9a9a9a"/><circle cx="245.2" cy="762.2" r="0.5" fill="#9a9a9a"/><circle cx="193.0" cy="800.0" r="0.9" fill="#9a9a9a"/><circle cx="219.6" cy="802.0" r="0.7" fill="#9a9a9a"/><circle cx="171.5" cy="763.6" r="0.8" fill="#9a9a9a"/><circle cx="188.9" cy="796.6" r="0.8" fill="#9a9a9a"/><circle cx="245.0" cy="771.5" r="0.8" fill="#9a9a9a"/><circle cx="237.1" cy="749.9" r="0.5" fill="#9a9a9a"/><circle cx="222.2" cy="742.4" r="0.5" fill="#9a9a9a"/><circle cx="188.2" cy="750.7" r="0.4" fill="#9a9a9a"/><circle cx="192.0" cy="799.3" r="0.6" fill="#9a9a9a"/><circle cx="186.5" cy="747.1" r="0.9" fill="#9a9a9a"/><circle cx="251.7" cy="768.5" r="0.8" fill="#9a9a9a"/><circle cx="198.6" cy="800.8" r="0.7" fill="#9a9a9a"/><circle cx="173.4" cy="764.4" r="0.4" fill="#9a9a9a"/><circle cx="225.2" cy="805.0" r="0.7" fill="#9a9a9a"/><circle cx="199.1" cy="746.5" r="0.6" fill="#9a9a9a"/><circle cx="243.6" cy="756.4" r="0.9" fill="#9a9a9a"/><circle cx="223.1" cy="802.6" r="0.8" fill="#9a9a9a"/><circle cx="173.3" cy="784.7" r="0.7" fill="#9a9a9a"/><circle cx="236.4" cy="792.9" r="0.9" fill="#9a9a9a"/><circle cx="236.8" cy="793.4" r="0.6" fill="#9a9a9a"/><circle cx="201.6" cy="741.1" r="0.6" fill="#9a9a9a"/><circle cx="170.9" cy="773.9" r="0.5" fill="#9a9a9a"/><circle cx="184.0" cy="796.3" r="0.7" fill="#9a9a9a"/><circle cx="244.7" cy="780.3" r="0.5" fill="#9a9a9a"/><circle cx="204.7" cy="741.6" r="0.9" fill="#9a9a9a"/><circle cx="214.8" cy="744.1" r="0.8" fill="#9a9a9a"/><circle cx="247.3" cy="770.7" r="0.4" fill="#9a9a9a"/><circle cx="185.2" cy="794.5" r="0.5" fill="#9a9a9a"/><circle cx="244.4" cy="781.6" r="0.8" fill="#9a9a9a"/><circle cx="247.5" cy="783.3" r="0.5" fill="#9a9a9a"/><circle cx="224.8" cy="804.5" r="0.5" fill="#9a9a9a"/><circle cx="225.9" cy="801.7" r="0.7" fill="#9a9a9a"/><circle cx="170.9" cy="768.4" r="0.6" fill="#9a9a9a"/><circle cx="171.9" cy="768.6" r="0.6" fill="#9a9a9a"/><circle cx="203.1" cy="743.3" r="0.5" fill="#9a9a9a"/><circle cx="239.2" cy="796.5" r="0.8" fill="#9a9a9a"/><circle cx="247.4" cy="762.1" r="0.7" fill="#9a9a9a"/><circle cx="231.1" cy="802.3" r="0.5" fill="#9a9a9a"/><circle cx="179.6" cy="786.6" r="0.6" fill="#9a9a9a"/><circle cx="197.7" cy="802.2" r="0.8" fill="#9a9a9a"/><circle cx="176.2" cy="765.9" r="0.8" fill="#9a9a9a"/><circle cx="207.0" cy="740.5" r="0.4" fill="#9a9a9a"/><circle cx="180.2" cy="751.4" r="0.5" fill="#9a9a9a"/><ellipse cx="186" cy="832" rx="44" ry="33" fill="#a3a3a3" filter="url(#fuzz)"/><circle cx="223.4" cy="846.9" r="0.6" fill="#9a9a9a"/><circle cx="222.3" cy="812.3" r="0.8" fill="#9a9a9a"/><circle cx="222.3" cy="851.9" r="0.8" fill="#9a9a9a"/><circle cx="137.7" cy="826.8" r="0.8" fill="#9a9a9a"/><circle cx="158.1" cy="854.0" r="0.8" fill="#9a9a9a"/><circle cx="214.4" cy="853.7" r="0.8" fill="#9a9a9a"/><circle cx="212.4" cy="802.1" r="0.9" fill="#9a9a9a"/><circle cx="198.3" cy="861.5" r="0.5" fill="#9a9a9a"/><circle cx="227.1" cy="827.7" r="0.5" fill="#9a9a9a"/><circle cx="226.6" cy="835.9" r="0.4" fill="#9a9a9a"/><circle cx="160.7" cy="857.1" r="0.6" fill="#9a9a9a"/><circle cx="223.8" cy="818.4" r="0.8" fill="#9a9a9a"/><circle cx="182.7" cy="798.0" r="0.7" fill="#9a9a9a"/><circle cx="191.8" cy="798.0" r="0.5" fill="#9a9a9a"/><circle cx="165.6" cy="860.1" r="0.6" fill="#9a9a9a"/><circle cx="230.1" cy="829.3" r="0.4" fill="#9a9a9a"/><circle cx="138.9" cy="837.2" r="0.6" fill="#9a9a9a"/><circle cx="173.8" cy="802.4" r="0.4" fill="#9a9a9a"/><circle cx="164.5" cy="805.9" r="0.6" fill="#9a9a9a"/><circle cx="154.4" cy="853.0" r="0.4" fill="#9a9a9a"/><circle cx="234.8" cy="833.6" r="0.7" fill="#9a9a9a"/><circle cx="228.8" cy="822.0" r="0.9" fill="#9a9a9a"/><circle cx="215.8" cy="805.8" r="0.7" fill="#9a9a9a"/><circle cx="143.6" cy="830.3" r="0.6" fill="#9a9a9a"/><circle cx="178.9" cy="800.8" r="0.8" fill="#9a9a9a"/><circle cx="140.3" cy="829.9" r="0.8" fill="#9a9a9a"/><circle cx="160.7" cy="807.1" r="0.5" fill="#9a9a9a"/><circle cx="226.7" cy="832.2" r="0.9" fill="#9a9a9a"/><circle cx="145.1" cy="811.7" r="0.8" fill="#9a9a9a"/><circle cx="166.3" cy="865.6" r="0.9" fill="#9a9a9a"/><circle cx="146.3" cy="840.4" r="0.6" fill="#9a9a9a"/><circle cx="207.9" cy="860.3" r="0.4" fill="#9a9a9a"/><circle cx="174.8" cy="796.2" r="0.5" fill="#9a9a9a"/><circle cx="194.6" cy="798.4" r="0.6" fill="#9a9a9a"/><circle cx="222.6" cy="813.9" r="0.8" fill="#9a9a9a"/><circle cx="233.8" cy="840.0" r="0.5" fill="#9a9a9a"/><circle cx="234.2" cy="832.8" r="0.8" fill="#9a9a9a"/><circle cx="164.5" cy="800.5" r="0.6" fill="#9a9a9a"/><circle cx="218.6" cy="853.4" r="0.9" fill="#9a9a9a"/><circle cx="228.2" cy="828.3" r="0.6" fill="#9a9a9a"/><circle cx="139.9" cy="843.1" r="0.4" fill="#9a9a9a"/><circle cx="206.4" cy="803.9" r="0.7" fill="#9a9a9a"/><circle cx="214.4" cy="854.4" r="0.8" fill="#9a9a9a"/><circle cx="137.0" cy="831.3" r="0.8" fill="#9a9a9a"/><circle cx="186.6" cy="801.2" r="0.7" fill="#9a9a9a"/><circle cx="230.9" cy="830.4" r="0.4" fill="#9a9a9a"/><circle cx="205.6" cy="865.8" r="0.9" fill="#9a9a9a"/><circle cx="186.8" cy="864.5" r="0.8" fill="#9a9a9a"/><circle cx="143.9" cy="830.5" r="0.9" fill="#9a9a9a"/><circle cx="154.3" cy="809.5" r="0.4" fill="#9a9a9a"/><ellipse cx="287" cy="812" rx="42" ry="30" fill="#a3a3a3" filter="url(#fuzz)"/><circle cx="247.3" cy="798.6" r="0.8" fill="#9a9a9a"/><circle cx="279.5" cy="843.0" r="0.8" fill="#9a9a9a"/><circle cx="320.8" cy="796.4" r="0.7" fill="#9a9a9a"/><circle cx="255.2" cy="791.4" r="0.9" fill="#9a9a9a"/><circle cx="245.3" cy="806.7" r="0.9" fill="#9a9a9a"/><circle cx="259.9" cy="789.9" r="0.6" fill="#9a9a9a"/><circle cx="247.9" cy="812.7" r="0.7" fill="#9a9a9a"/><circle cx="283.3" cy="782.0" r="0.8" fill="#9a9a9a"/><circle cx="325.9" cy="798.5" r="0.7" fill="#9a9a9a"/><circle cx="316.0" cy="830.8" r="0.9" fill="#9a9a9a"/><circle cx="278.3" cy="840.2" r="0.8" fill="#9a9a9a"/><circle cx="287.0" cy="783.7" r="0.6" fill="#9a9a9a"/><circle cx="288.9" cy="841.2" r="0.4" fill="#9a9a9a"/><circle cx="246.3" cy="807.5" r="0.6" fill="#9a9a9a"/><circle cx="302.6" cy="838.0" r="0.4" fill="#9a9a9a"/><circle cx="318.3" cy="789.0" r="0.7" fill="#9a9a9a"/><circle cx="315.4" cy="832.0" r="0.5" fill="#9a9a9a"/><circle cx="271.1" cy="837.5" r="0.5" fill="#9a9a9a"/><circle cx="298.7" cy="839.5" r="0.7" fill="#9a9a9a"/><circle cx="245.9" cy="820.0" r="0.6" fill="#9a9a9a"/><circle cx="243.1" cy="804.2" r="0.6" fill="#9a9a9a"/><circle cx="325.6" cy="825.0" r="0.6" fill="#9a9a9a"/><circle cx="294.5" cy="784.3" r="0.8" fill="#9a9a9a"/><circle cx="330.0" cy="814.9" r="0.6" fill="#9a9a9a"/><circle cx="268.6" cy="842.2" r="0.8" fill="#9a9a9a"/><circle cx="309.2" cy="838.1" r="0.7" fill="#9a9a9a"/><circle cx="325.5" cy="817.9" r="0.7" fill="#9a9a9a"/><circle cx="281.5" cy="781.9" r="0.6" fill="#9a9a9a"/><circle cx="246.2" cy="810.7" r="0.8" fill="#9a9a9a"/><circle cx="328.5" cy="804.7" r="0.4" fill="#9a9a9a"/><circle cx="250.8" cy="831.5" r="0.6" fill="#9a9a9a"/><circle cx="318.7" cy="829.7" r="0.8" fill="#9a9a9a"/><circle cx="257.4" cy="791.7" r="0.7" fill="#9a9a9a"/><circle cx="290.1" cy="778.7" r="0.8" fill="#9a9a9a"/><circle cx="245.4" cy="825.1" r="0.9" fill="#9a9a9a"/><circle cx="317.5" cy="788.5" r="0.7" fill="#9a9a9a"/><circle cx="241.3" cy="809.6" r="0.7" fill="#9a9a9a"/><circle cx="279.7" cy="783.5" r="0.4" fill="#9a9a9a"/><circle cx="281.4" cy="842.8" r="0.7" fill="#9a9a9a"/><circle cx="299.8" cy="839.2" r="0.9" fill="#9a9a9a"/><circle cx="328.8" cy="826.4" r="0.8" fill="#9a9a9a"/><circle cx="244.9" cy="797.0" r="0.7" fill="#9a9a9a"/><circle cx="333.5" cy="813.4" r="0.6" fill="#9a9a9a"/><circle cx="326.4" cy="795.7" r="0.5" fill="#9a9a9a"/><circle cx="324.6" cy="818.8" r="0.8" fill="#9a9a9a"/><circle cx="297.4" cy="784.0" r="0.5" fill="#9a9a9a"/><circle cx="256.7" cy="836.1" r="0.8" fill="#9a9a9a"/><circle cx="318.4" cy="787.2" r="0.8" fill="#9a9a9a"/><circle cx="306.9" cy="788.2" r="0.4" fill="#9a9a9a"/><circle cx="315.5" cy="788.2" r="0.6" fill="#9a9a9a"/><g filter="url(#nz1)"><ellipse cx="210.8" cy="773.5" rx="35" ry="28.8" fill="#888"/><ellipse cx="186" cy="832" rx="42" ry="31" fill="#8a8a8a"/><ellipse cx="287" cy="812" rx="40" ry="28.5" fill="#8a8a8a"/></g><g filter="url(#bl1)" opacity="0.8"><ellipse cx="214.7" cy="770.6" rx="1.4" ry="0.9" fill="#5c5c5c" transform="rotate(25 214.7 770.6)"/><ellipse cx="215.6" cy="777.2" rx="1.9" ry="1.7" fill="#5c5c5c" transform="rotate(133 215.6 777.2)"/><ellipse cx="199.4" cy="762.8" rx="1.6" ry="1.2" fill="#5c5c5c" transform="rotate(74 199.4 762.8)"/><ellipse cx="213.8" cy="769.8" rx="0.9" ry="0.5" fill="#5c5c5c" transform="rotate(73 213.8 769.8)"/><ellipse cx="210.3" cy="782.5" rx="1.4" ry="0.8" fill="#5c5c5c" transform="rotate(38 210.3 782.5)"/><ellipse cx="209.6" cy="787.2" rx="1.6" ry="0.9" fill="#5c5c5c" transform="rotate(151 209.6 787.2)"/><ellipse cx="196.9" cy="778.2" rx="2.0" ry="1.1" fill="#5c5c5c" transform="rotate(5 196.9 778.2)"/><ellipse cx="202.5" cy="748.7" rx="1.7" ry="1.5" fill="#5c5c5c" transform="rotate(143 202.5 748.7)"/><ellipse cx="203.4" cy="760.0" rx="1.7" ry="1.5" fill="#5c5c5c" transform="rotate(7 203.4 760.0)"/><ellipse cx="196.4" cy="781.4" rx="1.4" ry="0.9" fill="#5c5c5c" transform="rotate(151 196.4 781.4)"/><ellipse cx="232.8" cy="764.5" rx="2.2" ry="1.3" fill="#5c5c5c" transform="rotate(55 232.8 764.5)"/><ellipse cx="215.2" cy="786.3" rx="1.6" ry="1.0" fill="#5c5c5c" transform="rotate(17 215.2 786.3)"/><ellipse cx="214.8" cy="790.7" rx="1.7" ry="1.1" fill="#5c5c5c" transform="rotate(17 214.8 790.7)"/><ellipse cx="182.7" cy="783.0" rx="1.7" ry="1.0" fill="#5c5c5c" transform="rotate(35 182.7 783.0)"/><ellipse cx="180.1" cy="775.8" rx="1.5" ry="0.9" fill="#5c5c5c" transform="rotate(101 180.1 775.8)"/><ellipse cx="211.7" cy="774.9" rx="2.2" ry="2.0" fill="#5c5c5c" transform="rotate(35 211.7 774.9)"/><ellipse cx="192.5" cy="786.7" rx="2.0" ry="1.5" fill="#5c5c5c" transform="rotate(90 192.5 786.7)"/><ellipse cx="208.7" cy="758.2" rx="1.4" ry="0.9" fill="#5c5c5c" transform="rotate(115 208.7 758.2)"/><ellipse cx="214.4" cy="771.8" rx="1.1" ry="0.7" fill="#5c5c5c" transform="rotate(125 214.4 771.8)"/><ellipse cx="230.0" cy="766.6" rx="1.2" ry="0.8" fill="#5c5c5c" transform="rotate(177 230.0 766.6)"/><ellipse cx="203.2" cy="772.0" rx="1.4" ry="1.1" fill="#5c5c5c" transform="rotate(32 203.2 772.0)"/><ellipse cx="214.8" cy="772.3" rx="2.0" ry="1.9" fill="#5c5c5c" transform="rotate(111 214.8 772.3)"/><ellipse cx="208.4" cy="779.7" rx="2.0" ry="1.6" fill="#5c5c5c" transform="rotate(33 208.4 779.7)"/><ellipse cx="181.8" cy="775.4" rx="1.6" ry="0.9" fill="#5c5c5c" transform="rotate(72 181.8 775.4)"/><ellipse cx="180.7" cy="767.1" rx="1.5" ry="1.0" fill="#5c5c5c" transform="rotate(84 180.7 767.1)"/><ellipse cx="211.8" cy="776.0" rx="1.9" ry="1.2" fill="#5c5c5c" transform="rotate(170 211.8 776.0)"/><ellipse cx="196.9" cy="753.7" rx="1.1" ry="0.7" fill="#5c5c5c" transform="rotate(21 196.9 753.7)"/><ellipse cx="195.3" cy="773.9" rx="1.4" ry="1.1" fill="#5c5c5c" transform="rotate(77 195.3 773.9)"/><ellipse cx="199.8" cy="753.6" rx="1.2" ry="0.7" fill="#5c5c5c" transform="rotate(132 199.8 753.6)"/><ellipse cx="207.5" cy="766.3" rx="1.7" ry="1.0" fill="#5c5c5c" transform="rotate(47 207.5 766.3)"/><ellipse cx="212.7" cy="789.8" rx="1.4" ry="1.0" fill="#5c5c5c" transform="rotate(147 212.7 789.8)"/><ellipse cx="195.4" cy="776.8" rx="1.2" ry="0.9" fill="#5c5c5c" transform="rotate(126 195.4 776.8)"/><ellipse cx="187.8" cy="784.9" rx="1.0" ry="0.8" fill="#5c5c5c" transform="rotate(112 187.8 784.9)"/><ellipse cx="184.7" cy="772.1" rx="2.1" ry="1.7" fill="#5c5c5c" transform="rotate(33 184.7 772.1)"/><ellipse cx="224.7" cy="773.4" rx="1.3" ry="0.9" fill="#5c5c5c" transform="rotate(1 224.7 773.4)"/><ellipse cx="222.9" cy="770.0" rx="1.9" ry="1.5" fill="#5c5c5c" transform="rotate(164 222.9 770.0)"/><ellipse cx="188.8" cy="763.0" rx="1.9" ry="1.6" fill="#5c5c5c" transform="rotate(109 188.8 763.0)"/><ellipse cx="217.2" cy="756.1" rx="1.3" ry="1.2" fill="#5c5c5c" transform="rotate(103 217.2 756.1)"/><ellipse cx="211.8" cy="783.0" rx="1.6" ry="0.9" fill="#5c5c5c" transform="rotate(121 211.8 783.0)"/><ellipse cx="178.3" cy="767.4" rx="1.3" ry="1.0" fill="#5c5c5c" transform="rotate(122 178.3 767.4)"/><ellipse cx="170.4" cy="810.9" rx="1.8" ry="1.1" fill="#5c5c5c" transform="rotate(159 170.4 810.9)"/><ellipse cx="173.3" cy="817.9" rx="1.4" ry="1.1" fill="#5c5c5c" transform="rotate(17 173.3 817.9)"/><ellipse cx="179.8" cy="811.8" rx="1.2" ry="0.8" fill="#5c5c5c" transform="rotate(140 179.8 811.8)"/><ellipse cx="190.1" cy="809.6" rx="1.0" ry="0.8" fill="#5c5c5c" transform="rotate(99 190.1 809.6)"/><ellipse cx="202.3" cy="805.9" rx="1.9" ry="1.3" fill="#5c5c5c" transform="rotate(115 202.3 805.9)"/><ellipse cx="186.2" cy="816.3" rx="1.1" ry="0.8" fill="#5c5c5c" transform="rotate(109 186.2 816.3)"/><ellipse cx="175.4" cy="809.8" rx="1.4" ry="1.1" fill="#5c5c5c" transform="rotate(147 175.4 809.8)"/><ellipse cx="170.4" cy="808.6" rx="1.8" ry="1.5" fill="#5c5c5c" transform="rotate(21 170.4 808.6)"/><ellipse cx="184.9" cy="819.5" rx="1.8" ry="1.3" fill="#5c5c5c" transform="rotate(140 184.9 819.5)"/><ellipse cx="176.8" cy="818.2" rx="1.0" ry="0.6" fill="#5c5c5c" transform="rotate(176 176.8 818.2)"/><ellipse cx="174.5" cy="814.6" rx="1.0" ry="0.9" fill="#5c5c5c" transform="rotate(42 174.5 814.6)"/><ellipse cx="188.1" cy="814.0" rx="1.2" ry="1.1" fill="#5c5c5c" transform="rotate(94 188.1 814.0)"/><ellipse cx="179.7" cy="814.1" rx="1.9" ry="1.6" fill="#5c5c5c" transform="rotate(96 179.7 814.1)"/><ellipse cx="207.9" cy="807.7" rx="2.0" ry="1.3" fill="#5c5c5c" transform="rotate(157 207.9 807.7)"/></g><path d="M190,790 C200,775 215,765 228,752" fill="none" stroke="#6a6a6a" stroke-width="0.7" opacity="0.7"/><ellipse cx="240" cy="791" rx="2.8" ry="2.2" fill="#eee"/></g>
<g clip-path="url(#ct2)"><rect x="283.70" y="737.90" width="120.90" height="83.60" fill="#dcdcdc" stroke="none" stroke-width="1"/><ellipse cx="344.5" cy="779.5" rx="56" ry="40.5" fill="#a8a8a8" filter="url(#fuzz)"/><circle cx="336.7" cy="820.3" r="0.4" fill="#9c9c9c"/><circle cx="316.8" cy="811.6" r="0.4" fill="#9c9c9c"/><circle cx="333.3" cy="816.9" r="0.6" fill="#9c9c9c"/><circle cx="342.4" cy="742.0" r="0.7" fill="#9c9c9c"/><circle cx="384.5" cy="812.3" r="0.8" fill="#9c9c9c"/><circle cx="359.3" cy="822.3" r="0.8" fill="#9c9c9c"/><circle cx="394.5" cy="797.9" r="0.8" fill="#9c9c9c"/><circle cx="391.8" cy="761.5" r="0.5" fill="#9c9c9c"/><circle cx="354.3" cy="735.0" r="0.4" fill="#9c9c9c"/><circle cx="395.1" cy="802.7" r="0.6" fill="#9c9c9c"/><circle cx="298.0" cy="808.5" r="0.8" fill="#9c9c9c"/><circle cx="311.9" cy="742.0" r="0.8" fill="#9c9c9c"/><circle cx="366.2" cy="740.0" r="0.7" fill="#9c9c9c"/><circle cx="401.9" cy="795.9" r="0.9" fill="#9c9c9c"/><circle cx="309.7" cy="813.5" r="0.4" fill="#9c9c9c"/><circle cx="286.0" cy="779.5" r="0.5" fill="#9c9c9c"/><circle cx="292.2" cy="802.0" r="0.5" fill="#9c9c9c"/><circle cx="294.1" cy="790.0" r="0.6" fill="#9c9c9c"/><circle cx="387.7" cy="751.1" r="0.4" fill="#9c9c9c"/><circle cx="381.7" cy="746.5" r="0.7" fill="#9c9c9c"/><circle cx="331.4" cy="818.0" r="0.5" fill="#9c9c9c"/><circle cx="307.0" cy="753.3" r="0.9" fill="#9c9c9c"/><circle cx="391.2" cy="805.0" r="0.7" fill="#9c9c9c"/><circle cx="309.1" cy="809.6" r="0.6" fill="#9c9c9c"/><circle cx="314.7" cy="819.1" r="0.7" fill="#9c9c9c"/><circle cx="286.0" cy="774.5" r="0.6" fill="#9c9c9c"/><circle cx="375.3" cy="809.6" r="0.9" fill="#9c9c9c"/><circle cx="373.9" cy="748.0" r="0.7" fill="#9c9c9c"/><circle cx="358.0" cy="736.1" r="0.4" fill="#9c9c9c"/><circle cx="382.2" cy="809.4" r="0.7" fill="#9c9c9c"/><circle cx="396.0" cy="800.8" r="0.8" fill="#9c9c9c"/><circle cx="286.9" cy="794.0" r="0.6" fill="#9c9c9c"/><circle cx="372.4" cy="744.6" r="0.6" fill="#9c9c9c"/><circle cx="301.9" cy="809.5" r="0.8" fill="#9c9c9c"/><circle cx="396.7" cy="797.9" r="0.8" fill="#9c9c9c"/><circle cx="325.2" cy="742.9" r="0.6" fill="#9c9c9c"/><circle cx="385.2" cy="753.9" r="0.9" fill="#9c9c9c"/><circle cx="299.9" cy="805.6" r="0.8" fill="#9c9c9c"/><circle cx="320.1" cy="741.3" r="0.8" fill="#9c9c9c"/><circle cx="305.2" cy="745.0" r="0.7" fill="#9c9c9c"/><circle cx="300.1" cy="759.7" r="0.9" fill="#9c9c9c"/><circle cx="351.5" cy="818.3" r="0.4" fill="#9c9c9c"/><circle cx="304.2" cy="751.7" r="0.7" fill="#9c9c9c"/><circle cx="368.6" cy="738.1" r="0.8" fill="#9c9c9c"/><circle cx="373.9" cy="745.2" r="0.4" fill="#9c9c9c"/><circle cx="352.1" cy="734.5" r="0.6" fill="#9c9c9c"/><circle cx="391.2" cy="754.8" r="0.6" fill="#9c9c9c"/><circle cx="370.2" cy="746.6" r="0.6" fill="#9c9c9c"/><circle cx="327.0" cy="743.8" r="0.7" fill="#9c9c9c"/><circle cx="303.2" cy="804.6" r="0.6" fill="#9c9c9c"/><circle cx="342.1" cy="736.8" r="0.7" fill="#9c9c9c"/><circle cx="353.6" cy="739.5" r="0.7" fill="#9c9c9c"/><circle cx="392.3" cy="804.4" r="0.7" fill="#9c9c9c"/><circle cx="302.1" cy="748.3" r="0.9" fill="#9c9c9c"/><circle cx="334.0" cy="735.0" r="0.7" fill="#9c9c9c"/><circle cx="333.9" cy="823.1" r="0.7" fill="#9c9c9c"/><circle cx="307.4" cy="752.0" r="0.7" fill="#9c9c9c"/><circle cx="313.5" cy="814.9" r="0.9" fill="#9c9c9c"/><circle cx="306.4" cy="804.8" r="0.5" fill="#9c9c9c"/><circle cx="285.3" cy="768.9" r="0.4" fill="#9c9c9c"/><circle cx="297.5" cy="800.6" r="0.6" fill="#9c9c9c"/><circle cx="304.7" cy="749.9" r="0.5" fill="#9c9c9c"/><circle cx="385.8" cy="747.4" r="0.8" fill="#9c9c9c"/><circle cx="385.0" cy="809.1" r="0.5" fill="#9c9c9c"/><circle cx="395.3" cy="805.0" r="0.7" fill="#9c9c9c"/><circle cx="286.6" cy="791.3" r="0.8" fill="#9c9c9c"/><circle cx="293.0" cy="787.6" r="0.9" fill="#9c9c9c"/><circle cx="288.4" cy="777.7" r="0.5" fill="#9c9c9c"/><circle cx="283.8" cy="773.9" r="0.9" fill="#9c9c9c"/><circle cx="377.9" cy="809.1" r="0.9" fill="#9c9c9c"/><circle cx="286.5" cy="773.3" r="0.7" fill="#9c9c9c"/><circle cx="296.8" cy="800.6" r="0.8" fill="#9c9c9c"/><circle cx="307.6" cy="753.2" r="0.4" fill="#9c9c9c"/><circle cx="375.1" cy="743.7" r="0.8" fill="#9c9c9c"/><circle cx="285.0" cy="779.6" r="0.6" fill="#9c9c9c"/><circle cx="307.6" cy="809.4" r="0.5" fill="#9c9c9c"/><circle cx="402.7" cy="765.4" r="0.7" fill="#9c9c9c"/><circle cx="404.2" cy="791.3" r="0.8" fill="#9c9c9c"/><circle cx="304.2" cy="745.1" r="0.8" fill="#9c9c9c"/><circle cx="301.2" cy="754.6" r="0.7" fill="#9c9c9c"/><circle cx="297.3" cy="797.7" r="0.5" fill="#9c9c9c"/><circle cx="390.9" cy="806.1" r="0.6" fill="#9c9c9c"/><circle cx="406.1" cy="776.1" r="0.5" fill="#9c9c9c"/><circle cx="393.4" cy="805.7" r="0.8" fill="#9c9c9c"/><circle cx="303.7" cy="811.4" r="0.9" fill="#9c9c9c"/><circle cx="291.2" cy="793.0" r="0.7" fill="#9c9c9c"/><circle cx="377.9" cy="744.0" r="0.9" fill="#9c9c9c"/><circle cx="377.1" cy="809.3" r="0.5" fill="#9c9c9c"/><circle cx="395.5" cy="765.0" r="0.4" fill="#9c9c9c"/><circle cx="374.8" cy="809.9" r="0.7" fill="#9c9c9c"/><circle cx="308.4" cy="749.8" r="0.4" fill="#9c9c9c"/><circle cx="402.0" cy="789.7" r="0.4" fill="#9c9c9c"/><circle cx="348.5" cy="820.3" r="0.6" fill="#9c9c9c"/><circle cx="400.8" cy="760.8" r="0.7" fill="#9c9c9c"/><circle cx="302.7" cy="753.1" r="0.7" fill="#9c9c9c"/><circle cx="394.8" cy="793.0" r="0.8" fill="#9c9c9c"/><circle cx="289.4" cy="790.2" r="0.8" fill="#9c9c9c"/><circle cx="313.8" cy="747.9" r="0.6" fill="#9c9c9c"/><circle cx="378.5" cy="747.8" r="0.9" fill="#9c9c9c"/><circle cx="363.7" cy="817.5" r="0.5" fill="#9c9c9c"/><circle cx="333.6" cy="817.7" r="0.7" fill="#9c9c9c"/><circle cx="344.2" cy="735.1" r="0.5" fill="#9c9c9c"/><circle cx="403.7" cy="778.3" r="0.5" fill="#9c9c9c"/><circle cx="317.4" cy="742.1" r="0.6" fill="#9c9c9c"/><circle cx="336.6" cy="817.0" r="0.5" fill="#9c9c9c"/><circle cx="379.4" cy="748.1" r="0.7" fill="#9c9c9c"/><circle cx="293.2" cy="792.0" r="0.6" fill="#9c9c9c"/><circle cx="353.6" cy="819.7" r="0.5" fill="#9c9c9c"/><circle cx="385.8" cy="811.4" r="0.6" fill="#9c9c9c"/><circle cx="319.8" cy="738.5" r="0.9" fill="#9c9c9c"/><g filter="url(#nz1)"><ellipse cx="344.5" cy="780" rx="53" ry="38.5" fill="#8a8a8a"/></g><ellipse cx="362" cy="790" rx="30" ry="22" fill="#9e9e9e" opacity="0.45" filter="url(#bl2)"/><g filter="url(#bl1)" opacity="0.7"><ellipse cx="314.4" cy="781.1" rx="1.3" ry="0.8" fill="#626262" transform="rotate(104 314.4 781.1)"/><ellipse cx="316.8" cy="752.6" rx="1.7" ry="1.1" fill="#626262" transform="rotate(104 316.8 752.6)"/><ellipse cx="329.8" cy="749.7" rx="2.5" ry="1.9" fill="#626262" transform="rotate(28 329.8 749.7)"/><ellipse cx="340.0" cy="791.2" rx="1.3" ry="0.9" fill="#626262" transform="rotate(112 340.0 791.2)"/><ellipse cx="349.7" cy="781.1" rx="1.1" ry="0.6" fill="#626262" transform="rotate(151 349.7 781.1)"/><ellipse cx="330.4" cy="795.3" rx="2.3" ry="2.1" fill="#626262" transform="rotate(121 330.4 795.3)"/><ellipse cx="345.4" cy="790.8" rx="2.2" ry="1.3" fill="#626262" transform="rotate(10 345.4 790.8)"/><ellipse cx="315.2" cy="792.1" rx="2.1" ry="1.8" fill="#626262" transform="rotate(160 315.2 792.1)"/><ellipse cx="334.4" cy="759.4" rx="1.3" ry="0.8" fill="#626262" transform="rotate(73 334.4 759.4)"/><ellipse cx="314.1" cy="755.2" rx="1.7" ry="1.7" fill="#626262" transform="rotate(24 314.1 755.2)"/><ellipse cx="300.3" cy="778.2" rx="1.8" ry="1.1" fill="#626262" transform="rotate(97 300.3 778.2)"/><ellipse cx="342.7" cy="756.5" rx="1.6" ry="1.4" fill="#626262" transform="rotate(12 342.7 756.5)"/><ellipse cx="352.0" cy="778.4" rx="2.6" ry="1.6" fill="#626262" transform="rotate(20 352.0 778.4)"/><ellipse cx="319.3" cy="763.5" rx="2.6" ry="1.7" fill="#626262" transform="rotate(135 319.3 763.5)"/><ellipse cx="310.0" cy="760.5" rx="2.5" ry="1.4" fill="#626262" transform="rotate(44 310.0 760.5)"/><ellipse cx="301.3" cy="781.2" rx="2.2" ry="1.7" fill="#626262" transform="rotate(81 301.3 781.2)"/><ellipse cx="340.4" cy="769.0" rx="1.4" ry="0.9" fill="#626262" transform="rotate(50 340.4 769.0)"/><ellipse cx="338.7" cy="762.4" rx="2.7" ry="2.0" fill="#626262" transform="rotate(159 338.7 762.4)"/><ellipse cx="325.2" cy="748.0" rx="1.4" ry="1.2" fill="#626262" transform="rotate(6 325.2 748.0)"/><ellipse cx="335.3" cy="792.7" rx="1.1" ry="0.9" fill="#626262" transform="rotate(102 335.3 792.7)"/><ellipse cx="334.7" cy="785.3" rx="1.4" ry="0.9" fill="#626262" transform="rotate(21 334.7 785.3)"/><ellipse cx="348.2" cy="771.7" rx="2.3" ry="1.6" fill="#626262" transform="rotate(90 348.2 771.7)"/><ellipse cx="352.9" cy="767.2" rx="2.5" ry="2.4" fill="#626262" transform="rotate(106 352.9 767.2)"/><ellipse cx="347.4" cy="764.0" rx="1.9" ry="1.3" fill="#626262" transform="rotate(32 347.4 764.0)"/><ellipse cx="321.3" cy="747.5" rx="1.1" ry="0.8" fill="#626262" transform="rotate(107 321.3 747.5)"/><ellipse cx="310.2" cy="790.5" rx="2.7" ry="1.5" fill="#626262" transform="rotate(55 310.2 790.5)"/><ellipse cx="341.0" cy="793.1" rx="2.1" ry="1.3" fill="#626262" transform="rotate(156 341.0 793.1)"/><ellipse cx="320.8" cy="793.1" rx="1.5" ry="0.9" fill="#626262" transform="rotate(124 320.8 793.1)"/><ellipse cx="326.5" cy="791.8" rx="2.1" ry="1.7" fill="#626262" transform="rotate(33 326.5 791.8)"/><ellipse cx="317.1" cy="773.2" rx="1.9" ry="1.1" fill="#626262" transform="rotate(149 317.1 773.2)"/><ellipse cx="350.7" cy="780.5" rx="2.3" ry="1.5" fill="#626262" transform="rotate(5 350.7 780.5)"/><ellipse cx="325.8" cy="759.6" rx="2.4" ry="1.9" fill="#626262" transform="rotate(66 325.8 759.6)"/><ellipse cx="338.1" cy="795.0" rx="1.4" ry="0.8" fill="#626262" transform="rotate(92 338.1 795.0)"/><ellipse cx="339.5" cy="790.2" rx="2.0" ry="1.9" fill="#626262" transform="rotate(148 339.5 790.2)"/><ellipse cx="324.4" cy="776.3" rx="2.4" ry="1.5" fill="#626262" transform="rotate(69 324.4 776.3)"/><ellipse cx="333.5" cy="790.7" rx="2.1" ry="1.3" fill="#626262" transform="rotate(88 333.5 790.7)"/><ellipse cx="301.8" cy="762.2" rx="1.3" ry="1.2" fill="#626262" transform="rotate(87 301.8 762.2)"/><ellipse cx="325.7" cy="746.9" rx="2.5" ry="1.9" fill="#626262" transform="rotate(128 325.7 746.9)"/><ellipse cx="339.7" cy="782.8" rx="1.1" ry="0.7" fill="#626262" transform="rotate(180 339.7 782.8)"/><ellipse cx="312.4" cy="750.7" rx="1.7" ry="1.0" fill="#626262" transform="rotate(15 312.4 750.7)"/><ellipse cx="312.8" cy="784.0" rx="2.6" ry="2.2" fill="#626262" transform="rotate(29 312.8 784.0)"/><ellipse cx="348.3" cy="785.7" rx="1.6" ry="0.9" fill="#626262" transform="rotate(56 348.3 785.7)"/><ellipse cx="331.9" cy="761.4" rx="2.6" ry="1.5" fill="#626262" transform="rotate(158 331.9 761.4)"/><ellipse cx="314.9" cy="747.2" rx="2.6" ry="1.5" fill="#626262" transform="rotate(50 314.9 747.2)"/></g></g>
<g clip-path="url(#cb0)"><g filter="url(#nz3)"><rect x="28.80" y="829.50" width="121.10" height="84.00" fill="#989898" stroke="none" stroke-width="1"/></g><g filter="url(#nz3)"><path d="M130,829.5 C126,834 121,841 117.6,847.3 C113,854 109,859 105.3,863 C101,868 99,872 96.6,877 C93,882 91,885 88.7,887.6 C86,890 84,893 82,897 C80,903 78,910 77.3,914 L150,914 L150,829.5 Z" fill="#a9a9a9"/></g><path d="M130,829.5 C126,834 121,841 117.6,847.3 C113,854 109,859 105.3,863 C101,868 99,872 96.6,877 C93,882 91,885 88.7,887.6 C86,890 84,893 82,897 C80,903 78,910 77.3,914" fill="none" stroke="#505050" stroke-width="0.8"/><path d="M133,829.5 C129,835 124,842 120.5,848 C116,855 112,860 108,865" fill="none" stroke="#5a5a5a" stroke-width="0.5"/><path d="M84.3,892.8 C90,891 98,891 103.6,893.5 C106,896 100,897.5 93,896 C88,895 85,896 83,898" fill="none" stroke="#4e4e4e" stroke-width="0.7"/><path d="M150,878 C146,884 145,892 148,900" fill="none" stroke="#555" stroke-width="2.5" opacity="0.5"/><path d="M35,845 C45,850 52,848 60,852 M33,860 C40,858 48,862 55,860 M40,880 C46,884 50,880 56,884" fill="none" stroke="#6a6a6a" stroke-width="0.5" opacity="0.8"/><ellipse cx="29" cy="876" rx="4" ry="7" fill="none" stroke="#555" stroke-width="0.8"/><ellipse cx="92.2" cy="839.4" rx="5" ry="4" fill="#6c6c6c" stroke="#4a4a4a" stroke-width="0.7" transform="rotate(0 92.2 839.4)"/><ellipse cx="104.5" cy="839.4" rx="4.5" ry="3.5" fill="#6c6c6c" stroke="#4a4a4a" stroke-width="0.7" transform="rotate(0 104.5 839.4)"/><ellipse cx="79" cy="843.8" rx="3" ry="2.5" fill="#6c6c6c" stroke="#4a4a4a" stroke-width="0.7" transform="rotate(0 79 843.8)"/><ellipse cx="77.3" cy="854.3" rx="6" ry="3" fill="#6c6c6c" stroke="#4a4a4a" stroke-width="0.7" transform="rotate(-30 77.3 854.3)"/><ellipse cx="80.8" cy="861.3" rx="8" ry="3.5" fill="#6c6c6c" stroke="#4a4a4a" stroke-width="0.7" transform="rotate(-40 80.8 861.3)"/><ellipse cx="86.9" cy="870" rx="6" ry="3" fill="#6c6c6c" stroke="#4a4a4a" stroke-width="0.7" transform="rotate(-50 86.9 870)"/><ellipse cx="96.6" cy="860.4" rx="4" ry="3" fill="#6c6c6c" stroke="#4a4a4a" stroke-width="0.7" transform="rotate(0 96.6 860.4)"/><ellipse cx="101.8" cy="850.8" rx="3.5" ry="3" fill="#6c6c6c" stroke="#4a4a4a" stroke-width="0.7" transform="rotate(0 101.8 850.8)"/><ellipse cx="108" cy="849.9" rx="3" ry="2.5" fill="#6c6c6c" stroke="#4a4a4a" stroke-width="0.7" transform="rotate(0 108 849.9)"/><ellipse cx="67.7" cy="865.7" rx="3.5" ry="3" fill="#6c6c6c" stroke="#4a4a4a" stroke-width="0.7" transform="rotate(0 67.7 865.7)"/><ellipse cx="62.4" cy="871.8" rx="3.5" ry="4" fill="#6c6c6c" stroke="#4a4a4a" stroke-width="0.7" transform="rotate(0 62.4 871.8)"/><ellipse cx="61.5" cy="882.3" rx="4" ry="4.5" fill="#6c6c6c" stroke="#4a4a4a" stroke-width="0.7" transform="rotate(0 61.5 882.3)"/><ellipse cx="76.4" cy="877.9" rx="4" ry="3.5" fill="#6c6c6c" stroke="#4a4a4a" stroke-width="0.7" transform="rotate(0 76.4 877.9)"/><ellipse cx="65" cy="891" rx="3.5" ry="3" fill="#6c6c6c" stroke="#4a4a4a" stroke-width="0.7" transform="rotate(0 65 891)"/><ellipse cx="51" cy="891" rx="3.5" ry="2.5" fill="#6c6c6c" stroke="#4a4a4a" stroke-width="0.7" transform="rotate(0 51 891)"/><ellipse cx="42.3" cy="870.9" rx="3" ry="2.5" fill="#6c6c6c" stroke="#4a4a4a" stroke-width="0.7" transform="rotate(0 42.3 870.9)"/><ellipse cx="54.5" cy="902.4" rx="7" ry="4" fill="#6c6c6c" stroke="#4a4a4a" stroke-width="0.7" transform="rotate(0 54.5 902.4)"/><ellipse cx="74.7" cy="900.7" rx="3" ry="4.5" fill="#6c6c6c" stroke="#4a4a4a" stroke-width="0.7" transform="rotate(0 74.7 900.7)"/><ellipse cx="91.3" cy="877" rx="3.5" ry="3" fill="#6c6c6c" stroke="#4a4a4a" stroke-width="0.7" transform="rotate(0 91.3 877)"/><ellipse cx="115.8" cy="837.6" rx="2.5" ry="6" fill="#6c6c6c" stroke="#4a4a4a" stroke-width="0.7" transform="rotate(30 115.8 837.6)"/></g>
<g clip-path="url(#cb1)"><g filter="url(#nz3)"><rect x="156.70" y="829.50" width="120.20" height="84.00" fill="#929292" stroke="none" stroke-width="1"/></g><path d="M212,914 C222,909 238,906 252,903 C263,900 269,894 276.9,888 L276.9,914 Z" fill="#e4e4e4" stroke="none" stroke-width="1"/><path d="M160,845 C170,838 176,832 183,829.5" fill="none" stroke="#5a5a5a" stroke-width="0.6"/><ellipse cx="195" cy="856" rx="4.5" ry="3.5" fill="#6c6c6c" stroke="#4a4a4a" stroke-width="0.7" transform="rotate(30 195 856)"/><ellipse cx="212" cy="848" rx="4" ry="3.5" fill="#6c6c6c" stroke="#4a4a4a" stroke-width="0.7" transform="rotate(0 212 848)"/><ellipse cx="220" cy="858" rx="4.5" ry="3.2" fill="#6c6c6c" stroke="#4a4a4a" stroke-width="0.7" transform="rotate(-20 220 858)"/><ellipse cx="226" cy="845" rx="3.2" ry="2.8" fill="#6c6c6c" stroke="#4a4a4a" stroke-width="0.7" transform="rotate(0 226 845)"/><ellipse cx="206" cy="865" rx="3.8" ry="3.2" fill="#6c6c6c" stroke="#4a4a4a" stroke-width="0.7" transform="rotate(10 206 865)"/><ellipse cx="218" cy="870" rx="4.5" ry="2.8" fill="#6c6c6c" stroke="#4a4a4a" stroke-width="0.7" transform="rotate(40 218 870)"/><ellipse cx="233" cy="866" rx="3.2" ry="2.8" fill="#6c6c6c" stroke="#4a4a4a" stroke-width="0.7" transform="rotate(0 233 866)"/><ellipse cx="198" cy="877" rx="3.2" ry="2.8" fill="#6c6c6c" stroke="#4a4a4a" stroke-width="0.7" transform="rotate(0 198 877)"/><ellipse cx="186" cy="868" rx="3.2" ry="2.6" fill="#6c6c6c" stroke="#4a4a4a" stroke-width="0.7" transform="rotate(20 186 868)"/><ellipse cx="172" cy="881" rx="3.6" ry="2.6" fill="#6c6c6c" stroke="#4a4a4a" stroke-width="0.7" transform="rotate(0 172 881)"/><ellipse cx="211" cy="883" rx="3.2" ry="2.6" fill="#6c6c6c" stroke="#4a4a4a" stroke-width="0.7" transform="rotate(0 211 883)"/><ellipse cx="250" cy="841" rx="3.2" ry="3.0" fill="#6c6c6c" stroke="#4a4a4a" stroke-width="0.7" transform="rotate(0 250 841)"/><ellipse cx="240" cy="856" rx="2.8" ry="2.6" fill="#6c6c6c" stroke="#4a4a4a" stroke-width="0.7" transform="rotate(0 240 856)"/><ellipse cx="260" cy="845" rx="3.2" ry="3.0" fill="#6c6c6c" stroke="#4a4a4a" stroke-width="0.7" transform="rotate(0 260 845)"/><ellipse cx="224" cy="890" rx="3" ry="2.6" fill="#6c6c6c" stroke="#4a4a4a" stroke-width="0.7" transform="rotate(0 224 890)"/><ellipse cx="240" cy="833" rx="2.6" ry="5" fill="#6c6c6c" stroke="#4a4a4a" stroke-width="0.7" transform="rotate(0 240 833)"/><ellipse cx="264" cy="860" rx="4" ry="3" fill="#6c6c6c" stroke="#4a4a4a" stroke-width="0.7" transform="rotate(0 264 860)"/><ellipse cx="248" cy="861" rx="3.5" ry="2.8" fill="#6c6c6c" stroke="#4a4a4a" stroke-width="0.7" transform="rotate(0 248 861)"/><ellipse cx="200" cy="843" rx="2.6" ry="2.4" fill="#6c6c6c" stroke="#4a4a4a" stroke-width="0.7" transform="rotate(0 200 843)"/><ellipse cx="232" cy="878" rx="2.8" ry="2.4" fill="#6c6c6c" stroke="#4a4a4a" stroke-width="0.7" transform="rotate(0 232 878)"/><ellipse cx="185" cy="857" rx="2.8" ry="2.4" fill="#222" stroke="#111" stroke-width="0.7" transform="rotate(0 185 857)"/><ellipse cx="166" cy="902" rx="2.8" ry="3.5" fill="#333" stroke="#222" stroke-width="0.7" transform="rotate(0 166 902)"/><ellipse cx="249.9" cy="878" rx="8.5" ry="7" fill="#e6e6e6" stroke="#6a6a6a" stroke-width="0.5"/><circle cx="188" cy="862" r="2.2" fill="#d6d6d6"/><circle cx="183" cy="887" r="1.8" fill="#d6d6d6"/><circle cx="192" cy="893" r="1.6" fill="#d6d6d6"/><circle cx="233" cy="895" r="1.6" fill="#d6d6d6"/><circle cx="205" cy="890" r="1.4" fill="#d6d6d6"/><circle cx="266" cy="842" r="2.8" fill="#d6d6d6"/><circle cx="270" cy="888" r="2.2" fill="#d6d6d6"/><circle cx="176" cy="896" r="1.6" fill="#d6d6d6"/><circle cx="246" cy="888" r="1.3" fill="#d6d6d6"/></g>
<g clip-path="url(#cb2)"><g filter="url(#nz3)"><rect x="283.70" y="829.50" width="120.90" height="84.00" fill="#929292" stroke="none" stroke-width="1"/></g><g filter="url(#nz3)"><path d="M404.6,850 C396,858 389,866 384,872 C378,880 374,890 373,898 C374,905 378,910 381,914 L404.6,914 Z" fill="#a0a0a0"/></g><path d="M283.7,829.5 L328,829.5 C315,833 300,840 291,849 C288,852 285.5,855 283.7,858 Z" fill="#e0e0e0" stroke="none" stroke-width="1"/><path d="M328,829.5 C315,833 300,840 291,849 C288,852 285.5,855 283.7,858" fill="none" stroke="#555" stroke-width="0.6"/><path d="M314,829.5 C315,831 315,833 316,834" fill="none" stroke="#666" stroke-width="0.8"/><ellipse cx="308.5" cy="874.4" rx="12" ry="9" fill="#6e6e6e" stroke="#525252" stroke-width="0.7" transform="rotate(-10 308.5 874.4)"/><ellipse cx="333.1" cy="847" rx="7" ry="6" fill="#6e6e6e" stroke="#525252" stroke-width="0.7" transform="rotate(0 333.1 847)"/><ellipse cx="354.1" cy="858.8" rx="6.5" ry="6" fill="#6e6e6e" stroke="#525252" stroke-width="0.7" transform="rotate(0 354.1 858.8)"/><ellipse cx="376.9" cy="843.3" rx="9" ry="5" fill="#6e6e6e" stroke="#525252" stroke-width="0.7" transform="rotate(-40 376.9 843.3)"/><ellipse cx="397" cy="844.2" rx="5" ry="5" fill="#6e6e6e" stroke="#525252" stroke-width="0.7" transform="rotate(0 397 844.2)"/><ellipse cx="360.5" cy="883.5" rx="6" ry="4.5" fill="#6e6e6e" stroke="#525252" stroke-width="0.7" transform="rotate(0 360.5 883.5)"/><ellipse cx="366" cy="897.2" rx="4.5" ry="7" fill="#6e6e6e" stroke="#525252" stroke-width="0.7" transform="rotate(0 366 897.2)"/><ellipse cx="289.3" cy="892.6" rx="5" ry="5" fill="#6e6e6e" stroke="#525252" stroke-width="0.7" transform="rotate(0 289.3 892.6)"/><ellipse cx="347.7" cy="841.5" rx="4.5" ry="4.2" fill="#c9c9c9"/><ellipse cx="320.3" cy="855.2" rx="5" ry="4.2" fill="#c9c9c9"/><ellipse cx="330.4" cy="861.6" rx="4.5" ry="3.5" fill="#c9c9c9"/><ellipse cx="367.8" cy="856.1" rx="4.5" ry="4.5" fill="#c9c9c9"/><path d="M404.6,850 C396,858 389,866 384,872 C378,880 374,890 373,898 C374,905 378,910 381,914" fill="none" stroke="#4a4a4a" stroke-width="1.0"/></g>
<rect x="29.25" y="738.00" width="120.20" height="87.80" fill="none" stroke="#1a1a1a" stroke-width="0.9"/>
<rect x="28.80" y="821.50" width="121.10" height="4.40" fill="#000" stroke="none" stroke-width="1"/>
<rect x="29.25" y="829.60" width="120.20" height="87.50" fill="none" stroke="#2a2a2a" stroke-width="0.9"/>
<rect x="28.80" y="913.20" width="121.10" height="3.80" fill="#000" stroke="none" stroke-width="1"/>
<rect x="157.15" y="738.00" width="119.30" height="87.80" fill="none" stroke="#1a1a1a" stroke-width="0.9"/>
<rect x="156.70" y="821.50" width="120.20" height="4.40" fill="#000" stroke="none" stroke-width="1"/>
<rect x="157.15" y="829.60" width="119.30" height="87.50" fill="none" stroke="#2a2a2a" stroke-width="0.9"/>
<rect x="156.70" y="913.20" width="120.20" height="3.80" fill="#000" stroke="none" stroke-width="1"/>
<rect x="284.15" y="738.00" width="120.00" height="87.80" fill="none" stroke="#1a1a1a" stroke-width="0.9"/>
<rect x="283.70" y="821.50" width="120.90" height="4.40" fill="#000" stroke="none" stroke-width="1"/>
<rect x="284.15" y="829.60" width="120.00" height="87.50" fill="none" stroke="#2a2a2a" stroke-width="0.9"/>
<rect x="283.70" y="913.20" width="120.90" height="3.80" fill="#000" stroke="none" stroke-width="1"/>
<rect x="67.10" y="745.70" width="30.60" height="23.40" fill="none" stroke="#d42020" stroke-width="1.3"/>
<line x1="67.10" y1="769.10" x2="32.40" y2="824.35" stroke="#d42020" stroke-width="1.1" stroke-dasharray="2.4,1.6"/>
<path d="M29.1,829.6L30.1,822.9L34.7,825.8Z" fill="#d42020" stroke="none" stroke-width="1"/>
<line x1="97.70" y1="769.10" x2="145.56" y2="824.89" stroke="#d42020" stroke-width="1.1" stroke-dasharray="2.4,1.6"/>
<path d="M149.6,829.6L143.5,826.7L147.6,823.1Z" fill="#d42020" stroke="none" stroke-width="1"/>
<rect x="216.50" y="780.40" width="30.40" height="23.20" fill="none" stroke="#d42020" stroke-width="1.3"/>
<line x1="216.50" y1="803.60" x2="162.68" y2="827.12" stroke="#d42020" stroke-width="1.1" stroke-dasharray="2.4,1.6"/>
<path d="M157.0,829.6L161.6,824.6L163.8,829.6Z" fill="#d42020" stroke="none" stroke-width="1"/>
<line x1="246.90" y1="803.60" x2="271.93" y2="825.52" stroke="#d42020" stroke-width="1.1" stroke-dasharray="2.4,1.6"/>
<path d="M276.6,829.6L270.2,827.5L273.7,823.5Z" fill="#d42020" stroke="none" stroke-width="1"/>
<rect x="314.50" y="744.80" width="30.40" height="23.70" fill="none" stroke="#d42020" stroke-width="1.3"/>
<line x1="314.50" y1="768.50" x2="286.77" y2="824.05" stroke="#d42020" stroke-width="1.1" stroke-dasharray="2.4,1.6"/>
<path d="M284.0,829.6L284.4,822.8L289.2,825.3Z" fill="#d42020" stroke="none" stroke-width="1"/>
<line x1="344.90" y1="768.50" x2="399.98" y2="825.15" stroke="#d42020" stroke-width="1.1" stroke-dasharray="2.4,1.6"/>
<path d="M404.3,829.6L398.0,827.0L401.9,823.3Z" fill="#d42020" stroke="none" stroke-width="1"/>
<!-- m -->
<text class="ss" x="420.50" y="733.00" font-size="24" fill="#000">M</text>
<g clip-path="url(#cm)"><rect x="443.60" y="740.00" width="178.10" height="173.00" fill="url(#bgm)" stroke="none" stroke-width="1"/><ellipse cx="469.1" cy="764.2" rx="10.1" ry="13.6" fill="#b8b0a0" opacity="0.5" filter="url(#tsh)"/><g filter="url(#tfx)"><ellipse cx="468.3" cy="763.0" rx="9.9" ry="13.4" fill="url(#tdark)" transform="rotate(-10 468.3 763.0)"/></g><ellipse cx="513.3" cy="765.0" rx="9.6" ry="12.6" fill="#b8b0a0" opacity="0.5" filter="url(#tsh)"/><g filter="url(#tfx)"><ellipse cx="512.5" cy="763.8" rx="9.4" ry="12.4" fill="url(#tlight)" transform="rotate(-8 512.5 763.8)"/></g><ellipse cx="551.0" cy="764.2" rx="9.6" ry="12.6" fill="#b8b0a0" opacity="0.5" filter="url(#tsh)"/><g filter="url(#tfx)"><ellipse cx="550.2" cy="763.0" rx="9.4" ry="12.4" fill="url(#torange)" transform="rotate(-5 550.2 763.0)"/></g><ellipse cx="595.6" cy="765.6" rx="8.1" ry="9.9" fill="#b8b0a0" opacity="0.5" filter="url(#tsh)"/><g filter="url(#tfx)"><ellipse cx="594.8" cy="764.4" rx="7.9" ry="9.7" fill="url(#tdark)" transform="rotate(0 594.8 764.4)"/></g><ellipse cx="468.5" cy="808.2" rx="10.6" ry="11.6" fill="#b8b0a0" opacity="0.5" filter="url(#tsh)"/><g filter="url(#tfx)"><ellipse cx="467.7" cy="807.0" rx="10.4" ry="11.4" fill="url(#tlight)" transform="rotate(0 467.7 807.0)"/></g><ellipse cx="514.4" cy="809.2" rx="8.1" ry="8.6" fill="#b8b0a0" opacity="0.5" filter="url(#tsh)"/><g filter="url(#tfx)"><ellipse cx="513.6" cy="808.0" rx="7.9" ry="8.4" fill="url(#tmid)" transform="rotate(0 513.6 808.0)"/></g><ellipse cx="554.3" cy="811.7" rx="7.6" ry="8.6" fill="#b8b0a0" opacity="0.5" filter="url(#tsh)"/><g filter="url(#tfx)"><ellipse cx="553.5" cy="810.5" rx="7.4" ry="8.4" fill="url(#torange)" transform="rotate(0 553.5 810.5)"/></g><ellipse cx="471.3" cy="848.2" rx="9.1" ry="9.6" fill="#b8b0a0" opacity="0.5" filter="url(#tsh)"/><g filter="url(#tfx)"><ellipse cx="470.5" cy="847.0" rx="8.9" ry="9.4" fill="url(#tdark)" transform="rotate(0 470.5 847.0)"/></g><ellipse cx="511.6" cy="850.7" rx="7.6" ry="8.1" fill="#b8b0a0" opacity="0.5" filter="url(#tsh)"/><g filter="url(#tfx)"><ellipse cx="510.8" cy="849.5" rx="7.4" ry="7.9" fill="url(#tmid)" transform="rotate(0 510.8 849.5)"/></g><ellipse cx="553.4" cy="848.7" rx="5.8" ry="9.1" fill="#b8b0a0" opacity="0.5" filter="url(#tsh)"/><g filter="url(#tfx)"><ellipse cx="552.6" cy="847.5" rx="5.7" ry="8.9" fill="url(#tmid)" transform="rotate(0 552.6 847.5)"/></g><ellipse cx="472.0" cy="885.4" rx="6.1" ry="7.1" fill="#b8b0a0" opacity="0.5" filter="url(#tsh)"/><g filter="url(#tfx)"><ellipse cx="471.2" cy="884.2" rx="5.9" ry="6.9" fill="url(#tmid)" transform="rotate(0 471.2 884.2)"/></g><ellipse cx="511.6" cy="885.2" rx="4.6" ry="5.8" fill="#b8b0a0" opacity="0.5" filter="url(#tsh)"/><g filter="url(#tfx)"><ellipse cx="510.8" cy="884.0" rx="4.4" ry="5.7" fill="url(#tdark)" transform="rotate(0 510.8 884.0)"/></g><ellipse cx="551.5" cy="884.7" rx="4.6" ry="5.1" fill="#b8b0a0" opacity="0.5" filter="url(#tsh)"/><g filter="url(#tfx)"><ellipse cx="550.7" cy="883.5" rx="4.4" ry="4.9" fill="url(#tmid)" transform="rotate(0 550.7 883.5)"/></g><ellipse cx="593.8" cy="885.4" rx="2.5" ry="5.1" fill="#b8b0a0" opacity="0.5" filter="url(#tsh)"/><g filter="url(#tfx)"><ellipse cx="593.0" cy="884.2" rx="2.3" ry="4.9" fill="url(#tmid)" transform="rotate(0 593.0 884.2)"/></g><circle cx="469.5" cy="766.1" r="1.2" fill="#f0c8c0" opacity="0.7"/><circle cx="472.5" cy="766.1" r="1.2" fill="#f0c8c0" opacity="0.7"/><circle cx="463.8" cy="762.6" r="1.3" fill="#f0c8c0" opacity="0.7"/><circle cx="469.7" cy="768.2" r="0.7" fill="#f0c8c0" opacity="0.7"/><circle cx="468.0" cy="759.7" r="2.0" fill="#5a0a14" opacity="0.5" filter="url(#tb)"/><circle cx="469.0" cy="756.7" r="1.7" fill="#5a0a14" opacity="0.5" filter="url(#tb)"/><circle cx="510.5" cy="768.8" r="1.1" fill="#f0c8c0" opacity="0.7"/><circle cx="509.4" cy="767.4" r="0.7" fill="#f0c8c0" opacity="0.7"/><circle cx="513.6" cy="759.3" r="0.6" fill="#f0c8c0" opacity="0.7"/><circle cx="515.8" cy="760.3" r="0.8" fill="#f0c8c0" opacity="0.7"/><circle cx="516.8" cy="768.3" r="1.8" fill="#5a0a14" opacity="0.5" filter="url(#tb)"/><circle cx="516.7" cy="764.3" r="2.2" fill="#5a0a14" opacity="0.5" filter="url(#tb)"/><circle cx="547.5" cy="768.3" r="1.1" fill="#f0c8c0" opacity="0.7"/><circle cx="554.4" cy="767.7" r="0.8" fill="#f0c8c0" opacity="0.7"/><circle cx="549.0" cy="759.0" r="0.7" fill="#f0c8c0" opacity="0.7"/><circle cx="546.3" cy="760.6" r="1.0" fill="#f0c8c0" opacity="0.7"/><circle cx="545.7" cy="765.1" r="1.8" fill="#5a0a14" opacity="0.5" filter="url(#tb)"/><circle cx="548.5" cy="766.8" r="2.0" fill="#5a0a14" opacity="0.5" filter="url(#tb)"/><circle cx="593.4" cy="764.2" r="1.1" fill="#f0c8c0" opacity="0.7"/><circle cx="591.5" cy="768.8" r="0.6" fill="#f0c8c0" opacity="0.7"/><circle cx="596.7" cy="767.6" r="0.6" fill="#f0c8c0" opacity="0.7"/><circle cx="597.0" cy="763.2" r="1.0" fill="#f0c8c0" opacity="0.7"/><circle cx="591.1" cy="760.2" r="1.7" fill="#5a0a14" opacity="0.5" filter="url(#tb)"/><circle cx="598.2" cy="761.6" r="2.3" fill="#5a0a14" opacity="0.5" filter="url(#tb)"/><circle cx="472.0" cy="811.9" r="0.8" fill="#f0c8c0" opacity="0.7"/><circle cx="466.2" cy="807.3" r="1.1" fill="#f0c8c0" opacity="0.7"/><circle cx="463.8" cy="809.7" r="1.2" fill="#f0c8c0" opacity="0.7"/><circle cx="471.3" cy="801.9" r="1.3" fill="#f0c8c0" opacity="0.7"/><circle cx="463.6" cy="805.2" r="2.1" fill="#5a0a14" opacity="0.5" filter="url(#tb)"/><circle cx="471.9" cy="805.2" r="2.4" fill="#5a0a14" opacity="0.5" filter="url(#tb)"/><circle cx="513.9" cy="806.5" r="0.8" fill="#f0c8c0" opacity="0.7"/><circle cx="511.2" cy="804.6" r="0.7" fill="#f0c8c0" opacity="0.7"/><circle cx="515.0" cy="812.0" r="0.7" fill="#f0c8c0" opacity="0.7"/><circle cx="510.2" cy="811.9" r="1.0" fill="#f0c8c0" opacity="0.7"/><circle cx="512.9" cy="805.9" r="2.1" fill="#5a0a14" opacity="0.5" filter="url(#tb)"/><circle cx="516.0" cy="807.6" r="1.9" fill="#5a0a14" opacity="0.5" filter="url(#tb)"/><circle cx="550.4" cy="813.8" r="0.6" fill="#f0c8c0" opacity="0.7"/><circle cx="553.5" cy="813.2" r="0.7" fill="#f0c8c0" opacity="0.7"/><circle cx="555.1" cy="814.1" r="1.0" fill="#f0c8c0" opacity="0.7"/><circle cx="555.5" cy="807.4" r="0.9" fill="#f0c8c0" opacity="0.7"/><circle cx="551.0" cy="813.3" r="1.8" fill="#5a0a14" opacity="0.5" filter="url(#tb)"/><circle cx="553.2" cy="814.5" r="2.4" fill="#5a0a14" opacity="0.5" filter="url(#tb)"/><circle cx="474.5" cy="846.6" r="0.9" fill="#f0c8c0" opacity="0.7"/><circle cx="472.5" cy="846.8" r="0.8" fill="#f0c8c0" opacity="0.7"/><circle cx="469.7" cy="843.8" r="0.9" fill="#f0c8c0" opacity="0.7"/><circle cx="474.7" cy="851.1" r="1.0" fill="#f0c8c0" opacity="0.7"/><circle cx="470.5" cy="845.5" r="1.6" fill="#5a0a14" opacity="0.5" filter="url(#tb)"/><circle cx="468.6" cy="849.5" r="2.4" fill="#5a0a14" opacity="0.5" filter="url(#tb)"/><circle cx="509.8" cy="851.6" r="1.1" fill="#f0c8c0" opacity="0.7"/><circle cx="512.2" cy="850.7" r="1.1" fill="#f0c8c0" opacity="0.7"/><circle cx="509.8" cy="851.0" r="0.8" fill="#f0c8c0" opacity="0.7"/><circle cx="510.7" cy="851.5" r="1.1" fill="#f0c8c0" opacity="0.7"/><circle cx="509.4" cy="852.8" r="2.1" fill="#5a0a14" opacity="0.5" filter="url(#tb)"/><circle cx="511.4" cy="845.8" r="2.0" fill="#5a0a14" opacity="0.5" filter="url(#tb)"/><rect x="443.60" y="891.60" width="178.10" height="21.80" fill="#adadb0" stroke="none" stroke-width="1"/><rect x="443.60" y="891.60" width="178.10" height="6.80" fill="#7d7d7f" stroke="none" stroke-width="1"/><rect x="443.60" y="891.60" width="178.10" height="0.80" fill="#8e8e8e" stroke="none" stroke-width="1"/><path d="M444.2,896V903M445.6,897.5V899.6M447.1,897.5V899.6M448.5,897.5V899.6M449.9,897.5V899.6M451.4,897V901M452.8,897.5V899.6M454.2,897.5V899.6M455.7,897.5V899.6M457.1,897.5V899.6M458.6,896V903M460.0,897.5V899.6M461.4,897.5V899.6M462.9,897.5V899.6M464.3,897.5V899.6M465.7,897V901M467.2,897.5V899.6M468.6,897.5V899.6M470.0,897.5V899.6M471.5,897.5V899.6M472.9,896V903M474.3,897.5V899.6M475.8,897.5V899.6M477.2,897.5V899.6M478.6,897.5V899.6M480.1,897V901M481.5,897.5V899.6M482.9,897.5V899.6M484.4,897.5V899.6M485.8,897.5V899.6M487.3,896V903M488.7,897.5V899.6M490.1,897.5V899.6M491.6,897.5V899.6M493.0,897.5V899.6M494.4,897V901M495.9,897.5V899.6M497.3,897.5V899.6M498.7,897.5V899.6M500.2,897.5V899.6M501.6,896V903M503.0,897.5V899.6M504.5,897.5V899.6M505.9,897.5V899.6M507.3,897.5V899.6M508.8,897V901M510.2,897.5V899.6M511.6,897.5V899.6M513.1,897.5V899.6M514.5,897.5V899.6M516.0,896V903M517.4,897.5V899.6M518.8,897.5V899.6M520.3,897.5V899.6M521.7,897.5V899.6M523.1,897V901M524.6,897.5V899.6M526.0,897.5V899.6M527.4,897.5V899.6M528.9,897.5V899.6M530.3,896V903M531.7,897.5V899.6M533.2,897.5V899.6M534.6,897.5V899.6M536.0,897.5V899.6M537.5,897V901M538.9,897.5V899.6M540.3,897.5V899.6M541.8,897.5V899.6M543.2,897.5V899.6M544.6,896V903M546.1,897.5V899.6M547.5,897.5V899.6M549.0,897.5V899.6M550.4,897.5V899.6M551.8,897V901M553.3,897.5V899.6M554.7,897.5V899.6M556.1,897.5V899.6M557.6,897.5V899.6M559.0,896V903M560.4,897.5V899.6M561.9,897.5V899.6M563.3,897.5V899.6M564.7,897.5V899.6M566.2,897V901M567.6,897.5V899.6M569.0,897.5V899.6M570.5,897.5V899.6M571.9,897.5V899.6M573.3,896V903M574.8,897.5V899.6M576.2,897.5V899.6M577.7,897.5V899.6M579.1,897.5V899.6M580.5,897V901M582.0,897.5V899.6M583.4,897.5V899.6M584.8,897.5V899.6M586.3,897.5V899.6M587.7,896V903M589.1,897.5V899.6M590.6,897.5V899.6M592.0,897.5V899.6M593.4,897.5V899.6M594.9,897V901M596.3,897.5V899.6M597.7,897.5V899.6M599.2,897.5V899.6M600.6,897.5V899.6M602.0,896V903M603.5,897.5V899.6M604.9,897.5V899.6M606.4,897.5V899.6M607.8,897.5V899.6M609.2,897V901M610.7,897.5V899.6M612.1,897.5V899.6M613.5,897.5V899.6M615.0,897.5V899.6M616.4,896V903M617.8,897.5V899.6M619.3,897.5V899.6M620.7,897.5V899.6" fill="none" stroke="#d0d0d0" stroke-width="0.4"/><text class="sf" x="444.60" y="908.60" font-size="8.2" fill="#3c3c3c" text-anchor="middle">1</text><text class="sf" x="458.95" y="908.60" font-size="8.2" fill="#3c3c3c" text-anchor="middle">2</text><text class="sf" x="473.30" y="908.60" font-size="8.2" fill="#3c3c3c" text-anchor="middle">3</text><text class="sf" x="487.65" y="908.60" font-size="8.2" fill="#3c3c3c" text-anchor="middle">4</text><text class="sf" x="502.00" y="908.60" font-size="8.2" fill="#3c3c3c" text-anchor="middle">5</text><text class="sf" x="516.35" y="908.60" font-size="8.2" fill="#3c3c3c" text-anchor="middle">6</text><text class="sf" x="530.70" y="908.60" font-size="8.2" fill="#3c3c3c" text-anchor="middle">7</text><text class="sf" x="545.05" y="908.60" font-size="8.2" fill="#3c3c3c" text-anchor="middle">8</text><text class="sf" x="559.40" y="908.60" font-size="8.2" fill="#3c3c3c" text-anchor="middle">9</text><text class="sf" x="573.75" y="908.60" font-size="8.2" fill="#3c3c3c" text-anchor="middle">10</text><text class="sf" x="588.10" y="908.60" font-size="8.2" fill="#3c3c3c" text-anchor="middle">11</text><text class="sf" x="602.45" y="908.60" font-size="8.2" fill="#3c3c3c" text-anchor="middle">12</text><text class="sf" x="616.80" y="908.60" font-size="8.2" fill="#3c3c3c" text-anchor="middle">13</text></g>
<text class="ss" x="626.00" y="766.00" font-size="10.4" fill="#555">Control</text>
<text class="ss" x="626.00" y="809.20" font-size="10.4" fill="#555">Palbociclib</text>
<text class="ss" x="626.00" y="846.60" font-size="10.4" fill="#555">Erastin</text>
<text class="ss" x="626.00" y="880.80" font-size="10.4" fill="#555">Palbociclib</text>
<text class="ss" x="626.00" y="893.70" font-size="10.4" fill="#555">+ Erastin</text>
</svg>
</body></html>
